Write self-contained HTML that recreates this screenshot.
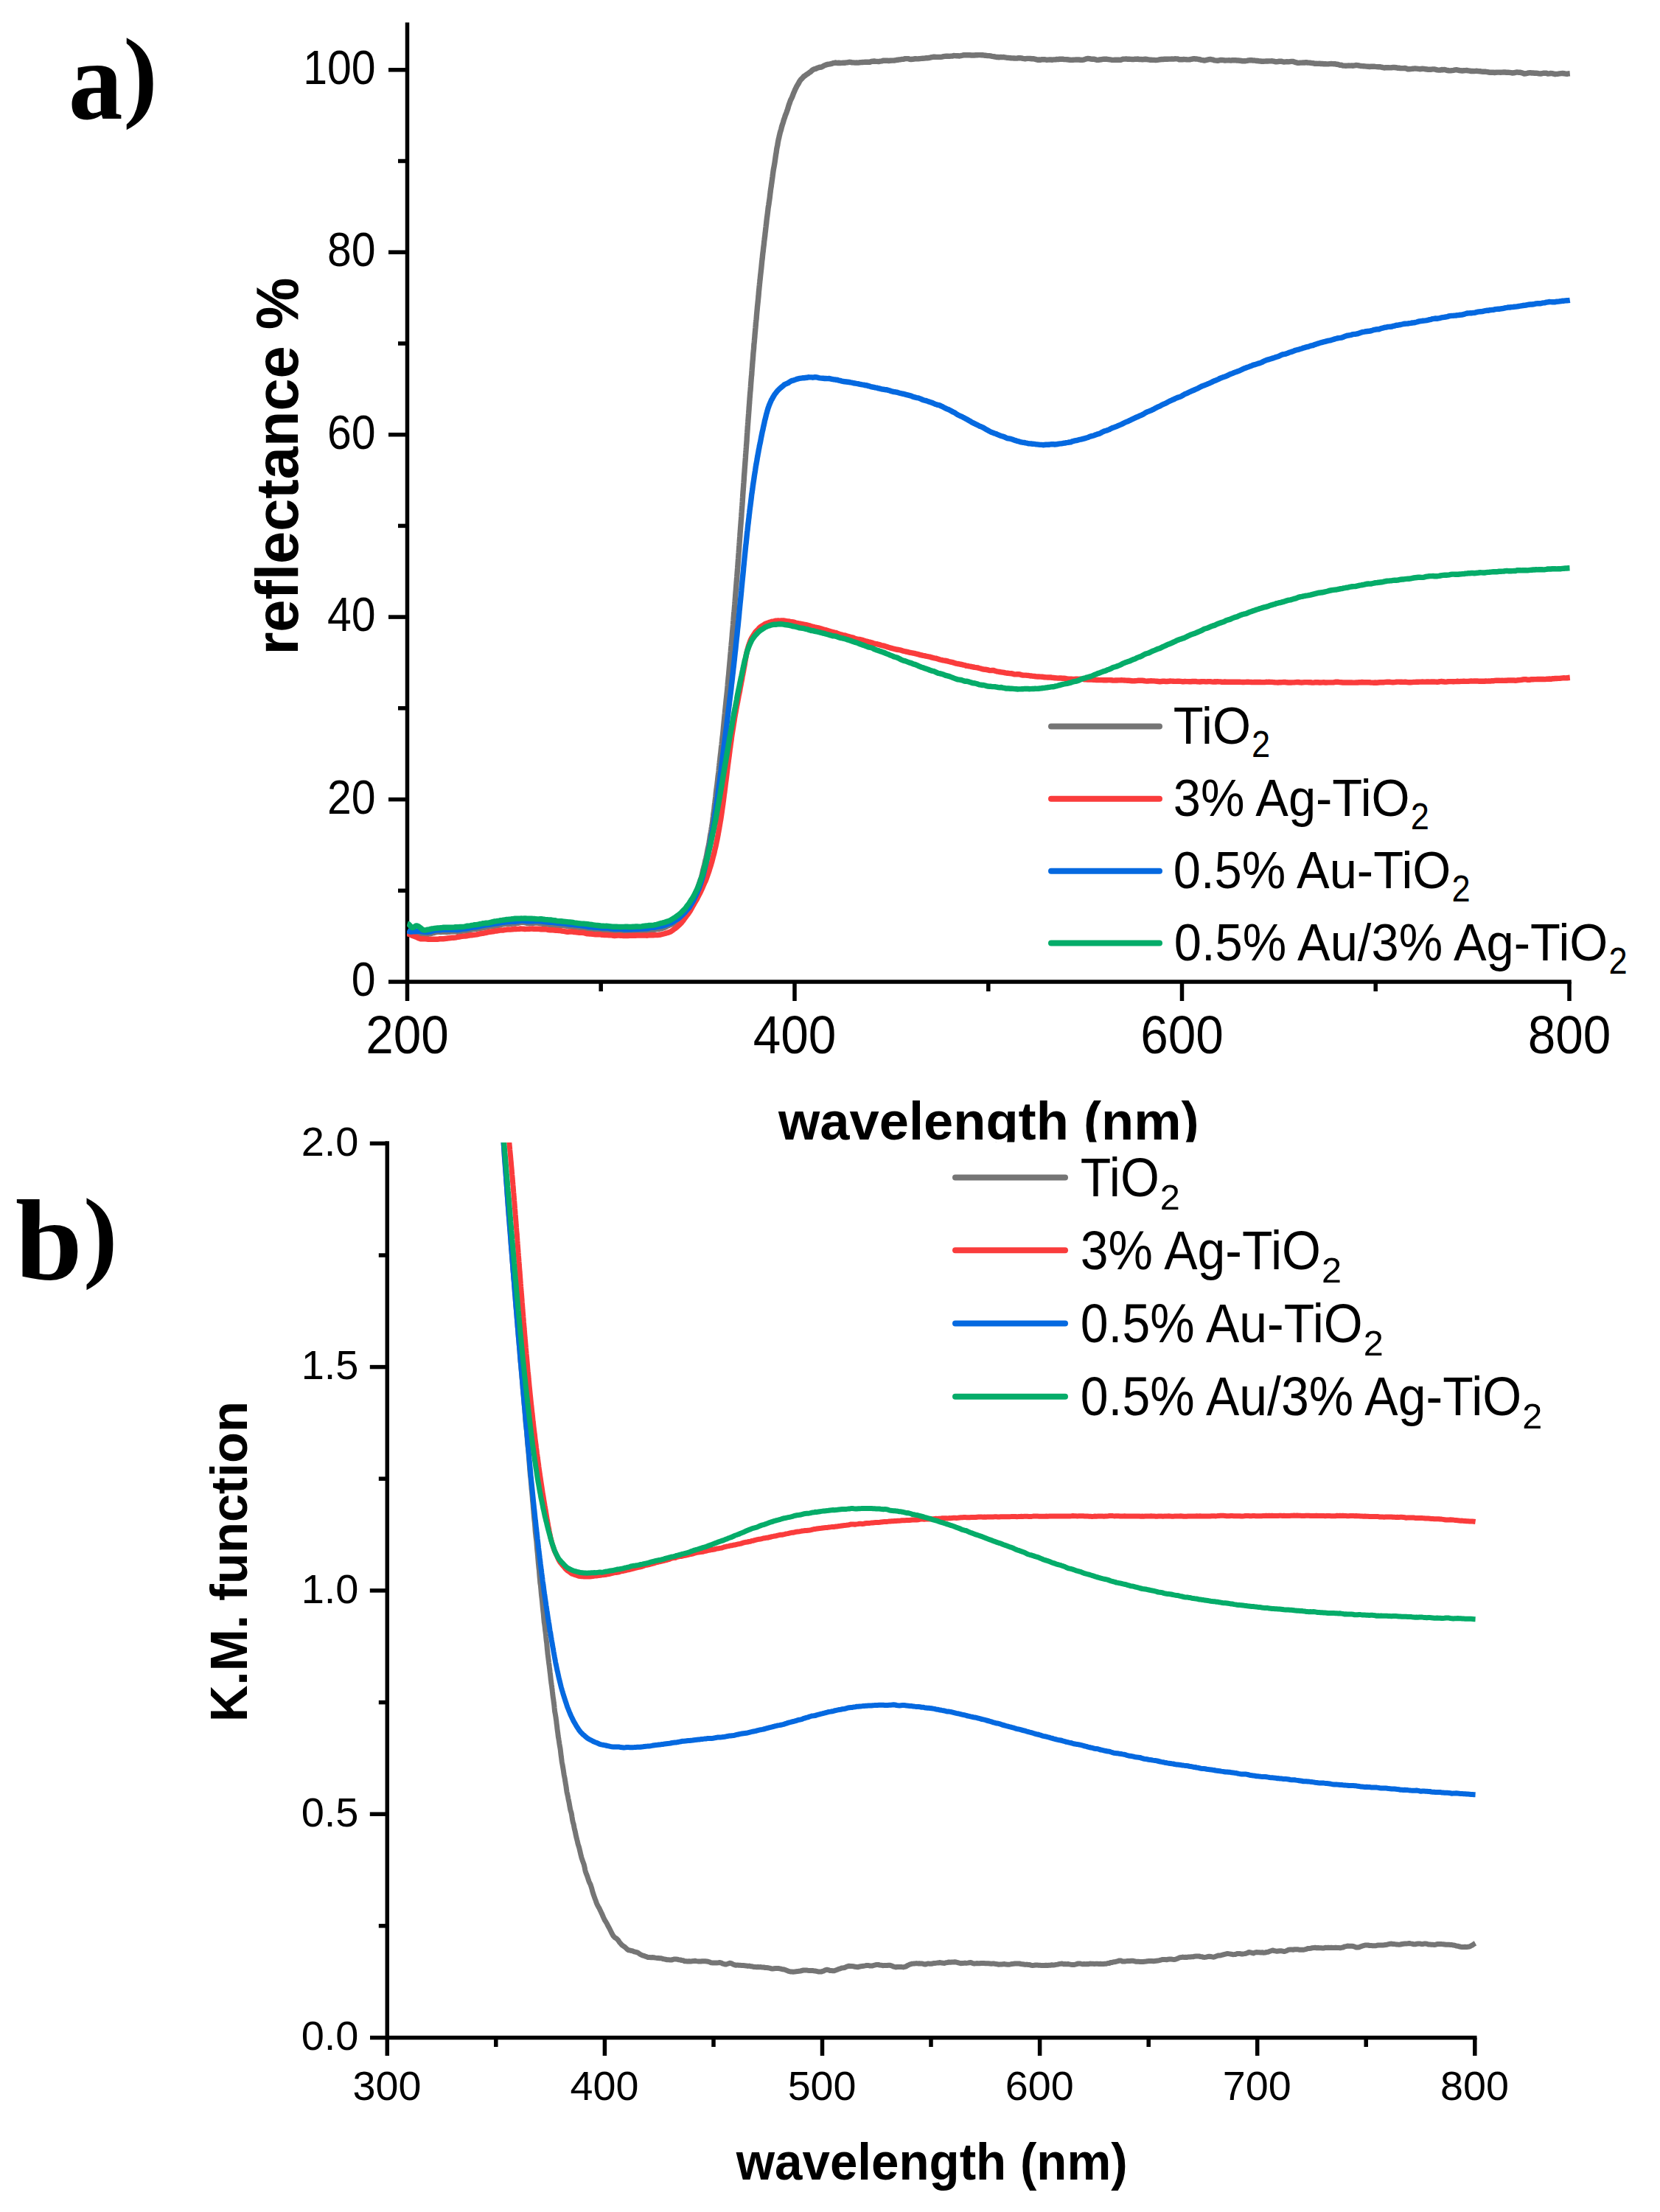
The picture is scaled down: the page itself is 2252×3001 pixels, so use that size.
<!DOCTYPE html>
<html lang="en"><head><meta charset="utf-8"><title>Diffuse reflectance and Kubelka-Munk spectra</title>
<style>html,body{margin:0;padding:0;background:#fff}svg{display:block}text{font-family:"Liberation Sans",sans-serif;fill:#000}.b{font-weight:bold}.s{font-family:"Liberation Serif",serif;font-weight:bold}.ax{stroke:#000;stroke-width:5.5;fill:none;stroke-linecap:butt}.cv{fill:none;stroke-linejoin:round;stroke-linecap:butt}.lg{fill:none;stroke-width:8;stroke-linecap:round}</style></head><body>
<svg width="2252" height="3001" viewBox="0 0 2252 3001">
<rect width="2252" height="3001" fill="#fff"/>
<defs><clipPath id="ca"><rect x="552" y="20" width="1581" height="1312"/></clipPath><clipPath id="cb"><rect x="525" y="1550" width="1480" height="1214"/></clipPath><clipPath id="cl"><rect x="900" y="1400" width="900" height="149.5"/></clipPath></defs>
<g id="panelA">
<path class="ax" d="M552.5,30.5 V1358"/>
<path class="ax" d="M527,1332.0 H2131.75"/>
<path class="ax" d="M540.0,1208.3 H552.5"/>
<path class="ax" d="M527.0,1084.6 H552.5"/>
<path class="ax" d="M540.0,960.8 H552.5"/>
<path class="ax" d="M527.0,837.1 H552.5"/>
<path class="ax" d="M540.0,713.4 H552.5"/>
<path class="ax" d="M527.0,589.7 H552.5"/>
<path class="ax" d="M540.0,466.0 H552.5"/>
<path class="ax" d="M527.0,342.2 H552.5"/>
<path class="ax" d="M540.0,218.5 H552.5"/>
<path class="ax" d="M527.0,94.8 H552.5"/>
<path class="ax" d="M815.2,1332.0 V1345.0"/>
<path class="ax" d="M1078.0,1332.0 V1358.0"/>
<path class="ax" d="M1340.8,1332.0 V1345.0"/>
<path class="ax" d="M1603.5,1332.0 V1358.0"/>
<path class="ax" d="M1866.2,1332.0 V1345.0"/>
<path class="ax" d="M2129.0,1332.0 V1358.0"/>
<g clip-path="url(#ca)" stroke-width="7.4">
<path class="cv" stroke="#757575" d="M552.5,1264.2 L554.4,1265.3 L556.3,1266.2 L558.3,1266.5 L560.2,1266.4 L562.2,1266.3 L564.2,1266.7 L566.2,1266.6 L568.2,1267.0 L570.2,1267.2 L572.2,1267.9 L574.2,1267.9 L576.2,1267.8 L578.2,1267.2 L580.2,1267.4 L582.2,1266.7 L584.2,1266.8 L586.1,1266.0 L588.1,1265.7 L590.0,1265.0 L592.0,1264.6 L594.0,1264.4 L596.0,1264.3 L598.0,1264.5 L600.0,1264.2 L602.0,1264.3 L604.0,1264.1 L606.0,1264.6 L608.0,1264.3 L610.1,1264.2 L612.1,1263.9 L614.1,1263.8 L616.1,1263.9 L618.1,1263.9 L620.1,1264.2 L622.1,1264.1 L624.1,1263.9 L626.0,1263.4 L628.0,1263.0 L630.0,1263.1 L632.0,1263.1 L633.9,1262.7 L635.9,1262.2 L637.9,1261.5 L639.8,1261.1 L641.8,1260.7 L643.8,1260.4 L645.8,1260.3 L647.7,1260.0 L649.7,1259.7 L651.7,1259.3 L653.7,1259.0 L655.6,1258.7 L657.6,1258.2 L659.6,1258.0 L661.6,1257.4 L663.5,1257.2 L665.5,1256.7 L667.5,1256.7 L669.5,1256.4 L671.4,1256.3 L673.4,1256.1 L675.4,1255.6 L677.4,1255.1 L679.4,1254.6 L681.4,1254.0 L683.3,1253.8 L685.3,1253.4 L687.3,1253.2 L689.3,1253.3 L691.3,1253.4 L693.3,1253.3 L695.3,1253.1 L697.2,1252.8 L699.2,1253.0 L701.2,1252.3 L703.2,1252.2 L705.2,1251.6 L707.2,1251.3 L709.2,1251.1 L711.2,1251.3 L713.2,1251.8 L715.2,1252.5 L717.2,1252.5 L719.1,1252.7 L721.1,1252.3 L723.1,1252.5 L725.1,1252.1 L727.1,1252.0 L729.1,1252.0 L731.1,1252.3 L733.1,1252.8 L735.1,1253.1 L737.1,1253.8 L739.1,1254.0 L741.1,1254.1 L743.1,1254.1 L745.1,1254.3 L747.1,1254.4 L749.1,1254.6 L751.1,1254.8 L753.1,1255.3 L755.1,1255.6 L757.1,1255.8 L759.1,1255.7 L761.1,1255.5 L763.1,1255.6 L765.1,1255.4 L767.1,1256.0 L769.1,1256.2 L771.1,1256.7 L773.1,1256.9 L775.1,1257.2 L777.1,1257.3 L779.1,1257.7 L781.1,1258.0 L783.0,1258.1 L785.0,1258.2 L787.0,1258.0 L789.0,1258.7 L791.0,1258.9 L793.0,1259.4 L795.0,1259.7 L797.0,1260.2 L799.0,1260.3 L801.0,1260.2 L803.0,1260.2 L805.0,1260.8 L807.0,1261.0 L809.0,1261.1 L811.0,1261.2 L813.0,1261.4 L815.0,1261.7 L816.9,1261.8 L818.9,1261.9 L820.9,1261.9 L822.9,1261.7 L824.9,1262.1 L826.9,1262.7 L828.9,1263.1 L830.9,1263.4 L832.9,1263.3 L834.8,1263.4 L836.8,1263.2 L838.8,1263.0 L840.8,1263.0 L842.8,1263.0 L844.8,1263.1 L846.7,1263.4 L848.7,1263.5 L850.7,1263.4 L852.7,1263.3 L854.7,1262.9 L856.7,1263.0 L858.6,1262.9 L860.6,1263.0 L862.6,1263.0 L864.6,1263.0 L866.6,1262.8 L868.6,1262.6 L870.6,1262.4 L872.6,1262.5 L874.6,1262.3 L876.6,1262.5 L878.6,1262.2 L880.6,1261.6 L882.7,1261.1 L884.7,1261.2 L886.7,1261.5 L888.7,1261.2 L890.8,1260.5 L892.8,1260.3 L894.8,1260.2 L896.8,1259.9 L898.8,1259.2 L900.8,1258.6 L902.8,1257.8 L904.7,1256.7 L906.6,1255.8 L908.4,1254.9 L910.3,1254.3 L912.1,1253.5 L913.8,1252.6 L915.5,1251.1 L917.1,1250.2 L918.7,1249.4 L920.3,1248.7 L921.8,1247.3 L923.2,1246.0 L924.6,1244.7 L925.9,1243.7 L927.3,1242.5 L928.5,1241.2 L929.7,1239.5 L930.9,1237.6 L932.0,1236.0 L933.1,1234.4 L934.2,1232.8 L935.2,1230.9 L936.2,1228.8 L937.2,1227.0 L938.1,1225.4 L939.0,1223.3 L939.9,1221.5 L940.7,1218.9 L941.5,1217.3 L942.3,1215.3 L943.1,1213.5 L943.8,1211.4 L944.6,1209.3 L945.3,1207.7 L945.9,1206.0 L946.6,1204.3 L947.3,1202.2 L947.9,1200.8 L948.5,1198.7 L949.2,1197.1 L949.8,1195.1 L950.3,1193.3 L950.9,1191.8 L951.5,1190.2 L952.0,1188.3 L952.6,1186.0 L953.1,1183.5 L953.6,1181.2 L954.1,1179.2 L954.6,1177.4 L955.1,1175.5 L955.6,1173.6 L956.0,1171.8 L956.5,1169.7 L956.9,1167.5 L957.4,1165.7 L957.8,1164.1 L958.2,1162.3 L958.7,1160.3 L959.1,1158.0 L959.5,1156.1 L959.9,1153.6 L960.3,1151.9 L960.6,1150.2 L961.0,1148.9 L961.4,1147.0 L961.7,1145.1 L962.1,1142.9 L962.4,1140.9 L962.8,1138.8 L963.1,1136.6 L963.4,1134.3 L963.8,1132.6 L964.1,1130.9 L964.4,1129.4 L964.7,1127.4 L965.0,1125.6 L965.3,1123.3 L965.6,1121.6 L965.9,1119.5 L966.2,1118.1 L966.5,1116.2 L966.8,1114.1 L967.0,1111.7 L967.3,1109.5 L967.6,1107.4 L967.8,1105.1 L968.1,1102.9 L968.4,1101.4 L968.6,1099.5 L968.9,1097.8 L969.1,1095.1 L969.4,1092.8 L969.6,1090.6 L969.9,1088.8 L970.1,1087.1 L970.4,1085.0 L970.6,1083.0 L970.9,1080.9 L971.1,1078.7 L971.3,1076.5 L971.6,1073.9 L971.8,1072.1 L972.1,1070.1 L972.3,1068.9 L972.5,1067.0 L972.8,1065.2 L973.0,1063.3 L973.2,1061.4 L973.5,1059.4 L973.7,1057.1 L973.9,1055.1 L974.2,1053.2 L974.4,1051.3 L974.6,1049.7 L974.9,1047.7 L975.1,1045.8 L975.3,1043.3 L975.5,1041.1 L975.8,1038.9 L976.0,1036.6 L976.2,1034.9 L976.4,1032.8 L976.7,1031.0 L976.9,1028.6 L977.1,1026.9 L977.3,1025.3 L977.5,1023.4 L977.8,1021.5 L978.0,1019.4 L978.2,1017.3 L978.4,1015.3 L978.6,1013.3 L978.9,1011.3 L979.1,1009.6 L979.3,1007.5 L979.5,1005.9 L979.7,1003.7 L979.9,1001.9 L980.1,999.9 L980.4,998.2 L980.6,996.2 L980.8,994.2 L981.0,992.2 L981.2,990.0 L981.4,987.8 L981.6,985.5 L981.8,983.5 L982.0,981.6 L982.2,979.4 L982.4,977.6 L982.6,975.4 L982.8,973.2 L983.0,971.3 L983.2,969.3 L983.4,967.6 L983.6,965.2 L983.8,963.2 L984.0,961.3 L984.2,959.5 L984.4,957.8 L984.6,955.6 L984.8,953.4 L985.0,951.3 L985.2,949.5 L985.4,947.6 L985.6,945.8 L985.8,944.0 L986.0,942.2 L986.2,940.1 L986.4,938.4 L986.6,936.5 L986.8,934.4 L987.0,932.1 L987.2,929.7 L987.3,927.9 L987.5,925.9 L987.7,924.0 L987.9,921.7 L988.1,919.4 L988.3,917.6 L988.5,915.8 L988.7,914.1 L988.8,912.1 L989.0,910.0 L989.2,907.9 L989.4,905.5 L989.6,903.3 L989.8,901.7 L989.9,899.8 L990.1,898.0 L990.3,895.9 L990.5,893.5 L990.7,891.7 L990.8,889.5 L991.0,887.7 L991.2,885.6 L991.4,883.2 L991.5,881.3 L991.7,879.4 L991.9,877.4 L992.1,875.3 L992.2,873.3 L992.4,871.8 L992.6,870.0 L992.8,868.1 L992.9,866.1 L993.1,864.0 L993.3,861.9 L993.4,859.7 L993.6,857.7 L993.8,855.4 L994.0,853.8 L994.1,852.1 L994.3,850.7 L994.5,848.0 L994.6,845.8 L994.8,843.3 L995.0,841.3 L995.1,839.4 L995.3,837.3 L995.5,835.3 L995.6,832.9 L995.8,830.8 L996.0,829.4 L996.1,828.2 L996.3,826.8 L996.4,824.6 L996.6,822.5 L996.8,820.0 L996.9,818.1 L997.1,816.0 L997.2,814.1 L997.4,812.2 L997.6,809.9 L997.7,808.0 L997.9,805.6 L998.0,804.0 L998.2,801.9 L998.4,800.0 L998.5,797.7 L998.7,795.9 L998.8,794.0 L999.0,792.1 L999.1,789.9 L999.3,788.3 L999.4,786.4 L999.6,784.5 L999.8,782.3 L999.9,780.3 L1000.1,778.1 L1000.2,776.2 L1000.4,774.4 L1000.5,772.2 L1000.7,770.3 L1000.8,768.3 L1001.0,766.5 L1001.1,764.4 L1001.3,761.8 L1001.4,760.1 L1001.6,758.0 L1001.7,756.3 L1001.9,754.1 L1002.0,752.0 L1002.2,750.0 L1002.3,748.1 L1002.5,746.1 L1002.6,744.1 L1002.7,742.0 L1002.9,740.0 L1003.0,738.0 L1003.2,735.7 L1003.3,733.8 L1003.5,731.6 L1003.6,729.9 L1003.8,727.8 L1003.9,725.9 L1004.0,723.9 L1004.2,722.1 L1004.3,719.9 L1004.5,718.1 L1004.6,715.9 L1004.8,714.1 L1004.9,712.1 L1005.1,710.1 L1005.2,708.3 L1005.3,706.7 L1005.5,705.1 L1005.6,703.1 L1005.8,700.8 L1005.9,698.7 L1006.0,696.5 L1006.2,694.3 L1006.3,692.5 L1006.5,690.8 L1006.6,689.0 L1006.7,687.2 L1006.9,685.3 L1007.0,683.3 L1007.2,680.7 L1007.3,678.7 L1007.4,676.8 L1007.6,674.5 L1007.7,672.0 L1007.9,669.6 L1008.0,668.0 L1008.1,666.3 L1008.3,664.4 L1008.4,662.4 L1008.6,660.4 L1008.7,658.4 L1008.8,656.6 L1009.0,654.5 L1009.1,652.8 L1009.3,650.7 L1009.4,648.5 L1009.5,646.2 L1009.7,644.1 L1009.8,642.3 L1010.0,640.4 L1010.1,638.6 L1010.2,636.6 L1010.4,634.6 L1010.5,632.6 L1010.7,630.7 L1010.8,628.9 L1010.9,627.1 L1011.1,625.1 L1011.2,623.1 L1011.4,621.0 L1011.5,618.8 L1011.6,616.9 L1011.8,614.8 L1011.9,613.0 L1012.1,610.8 L1012.2,609.0 L1012.4,607.0 L1012.5,605.2 L1012.6,603.5 L1012.8,601.9 L1012.9,599.9 L1013.1,597.6 L1013.2,595.2 L1013.3,592.9 L1013.5,590.7 L1013.6,588.5 L1013.8,586.3 L1013.9,584.3 L1014.1,582.6 L1014.2,580.5 L1014.3,578.6 L1014.5,576.5 L1014.6,574.5 L1014.8,572.5 L1014.9,570.3 L1015.1,568.4 L1015.2,566.6 L1015.4,564.7 L1015.5,562.5 L1015.7,560.2 L1015.8,558.4 L1016.0,556.4 L1016.1,554.7 L1016.2,552.5 L1016.4,550.7 L1016.5,548.6 L1016.7,547.0 L1016.8,544.4 L1017.0,542.5 L1017.1,540.1 L1017.3,538.5 L1017.4,536.4 L1017.6,534.5 L1017.7,532.6 L1017.9,530.8 L1018.1,529.1 L1018.2,527.0 L1018.4,524.8 L1018.5,522.7 L1018.7,520.4 L1018.8,518.5 L1019.0,516.7 L1019.1,514.7 L1019.3,512.6 L1019.4,510.9 L1019.6,509.6 L1019.8,507.8 L1019.9,505.2 L1020.1,502.7 L1020.2,500.6 L1020.4,498.8 L1020.6,496.7 L1020.7,494.3 L1020.9,492.4 L1021.0,490.6 L1021.2,488.8 L1021.4,486.6 L1021.5,484.7 L1021.7,482.6 L1021.8,480.5 L1022.0,478.1 L1022.2,476.5 L1022.3,474.9 L1022.5,473.4 L1022.7,470.8 L1022.8,468.4 L1023.0,466.2 L1023.2,464.7 L1023.4,462.8 L1023.5,461.0 L1023.7,458.9 L1023.9,457.2 L1024.0,455.0 L1024.2,452.8 L1024.4,450.5 L1024.6,448.8 L1024.7,446.9 L1024.9,445.1 L1025.1,442.8 L1025.3,440.6 L1025.4,438.3 L1025.6,436.7 L1025.8,434.7 L1026.0,433.5 L1026.2,431.7 L1026.3,429.7 L1026.5,427.3 L1026.7,425.0 L1026.9,422.7 L1027.1,420.6 L1027.3,418.7 L1027.4,417.2 L1027.6,415.2 L1027.8,413.3 L1028.0,411.4 L1028.2,409.5 L1028.4,407.5 L1028.6,405.5 L1028.8,403.4 L1029.0,401.5 L1029.2,398.9 L1029.3,397.2 L1029.5,394.9 L1029.7,393.3 L1029.9,391.1 L1030.1,388.9 L1030.3,387.1 L1030.5,384.8 L1030.7,383.2 L1030.9,381.0 L1031.1,379.5 L1031.3,377.5 L1031.5,375.4 L1031.7,373.3 L1032.0,370.9 L1032.2,369.1 L1032.4,366.9 L1032.6,365.6 L1032.8,363.7 L1033.0,361.7 L1033.2,359.4 L1033.4,357.3 L1033.6,355.2 L1033.8,353.4 L1034.1,351.3 L1034.3,349.4 L1034.5,347.0 L1034.7,345.2 L1034.9,343.3 L1035.2,341.3 L1035.4,339.3 L1035.6,337.3 L1035.8,335.7 L1036.0,334.0 L1036.3,332.0 L1036.5,329.8 L1036.7,327.4 L1037.0,325.5 L1037.2,323.8 L1037.4,322.1 L1037.7,320.2 L1037.9,318.0 L1038.1,316.0 L1038.4,314.0 L1038.6,311.9 L1038.8,310.0 L1039.1,307.6 L1039.3,305.5 L1039.6,303.6 L1039.8,301.4 L1040.0,299.4 L1040.3,297.0 L1040.5,295.2 L1040.8,293.3 L1041.0,291.5 L1041.3,289.5 L1041.5,287.4 L1041.8,285.3 L1042.0,283.0 L1042.3,281.2 L1042.5,279.7 L1042.8,278.1 L1043.1,276.1 L1043.3,274.4 L1043.6,272.7 L1043.8,271.1 L1044.1,268.9 L1044.4,266.8 L1044.6,264.4 L1044.9,262.2 L1045.2,260.0 L1045.4,258.0 L1045.7,256.0 L1046.0,254.2 L1046.3,252.5 L1046.5,250.4 L1046.8,248.7 L1047.1,246.2 L1047.4,244.2 L1047.7,241.9 L1048.0,240.0 L1048.2,238.1 L1048.5,236.0 L1048.8,233.6 L1049.1,231.6 L1049.4,229.5 L1049.7,228.1 L1050.0,226.5 L1050.3,224.9 L1050.6,223.2 L1050.9,221.4 L1051.2,219.5 L1051.5,217.3 L1051.8,215.3 L1052.1,213.0 L1052.4,210.9 L1052.7,208.9 L1053.1,207.0 L1053.4,204.7 L1053.7,202.3 L1054.1,200.3 L1054.4,198.8 L1054.8,197.2 L1055.1,194.8 L1055.5,192.6 L1055.9,190.4 L1056.3,188.5 L1056.8,186.7 L1057.2,184.6 L1057.7,182.8 L1058.1,180.8 L1058.6,179.0 L1059.2,177.2 L1059.7,175.4 L1060.2,173.1 L1060.8,171.2 L1061.3,169.3 L1061.9,167.7 L1062.5,165.7 L1063.1,163.5 L1063.7,161.7 L1064.4,159.7 L1065.0,157.8 L1065.6,156.1 L1066.3,154.3 L1067.0,152.6 L1067.6,150.7 L1068.3,149.0 L1069.0,146.7 L1069.6,144.4 L1070.3,142.2 L1071.0,140.5 L1071.7,138.2 L1072.4,136.3 L1073.1,134.7 L1073.8,133.6 L1074.6,131.8 L1075.3,129.9 L1076.1,127.8 L1076.8,125.9 L1077.7,123.9 L1078.5,122.0 L1079.4,120.2 L1080.3,118.3 L1081.2,116.6 L1082.2,114.9 L1083.2,113.4 L1084.3,111.1 L1085.4,109.4 L1086.6,107.8 L1087.8,106.7 L1089.1,105.3 L1090.5,103.7 L1091.9,102.8 L1093.4,101.6 L1094.9,100.7 L1096.5,99.6 L1098.1,98.4 L1099.8,97.3 L1101.5,95.6 L1103.3,94.4 L1105.1,93.6 L1106.9,93.3 L1108.7,92.3 L1110.6,91.7 L1112.5,91.2 L1114.4,91.0 L1116.3,90.0 L1118.2,88.9 L1120.2,88.1 L1122.1,87.5 L1124.1,87.2 L1126.0,86.9 L1128.0,86.4 L1130.0,85.7 L1132.0,85.3 L1133.9,85.0 L1135.9,85.5 L1137.9,85.3 L1139.9,85.5 L1141.9,85.4 L1143.9,85.3 L1145.9,85.3 L1148.0,84.9 L1150.0,84.7 L1152.0,84.3 L1154.0,84.4 L1156.0,84.9 L1158.0,84.9 L1160.0,85.1 L1162.0,85.0 L1164.0,85.1 L1166.0,84.8 L1168.0,84.6 L1170.0,84.5 L1172.0,84.4 L1174.0,84.1 L1176.0,84.3 L1178.0,84.3 L1180.0,84.3 L1182.0,83.5 L1184.0,83.2 L1186.0,83.0 L1188.0,83.4 L1190.0,83.4 L1192.0,83.6 L1194.0,83.2 L1196.0,82.9 L1198.0,82.2 L1200.0,82.1 L1202.0,82.2 L1203.9,82.3 L1205.9,82.5 L1207.9,82.2 L1209.9,82.1 L1211.9,82.1 L1213.9,82.0 L1215.9,81.5 L1217.9,81.3 L1219.9,80.9 L1221.9,80.7 L1223.9,80.4 L1225.9,80.2 L1227.9,79.6 L1229.9,79.6 L1231.9,79.6 L1233.9,80.3 L1235.9,80.5 L1237.9,80.3 L1239.9,80.0 L1241.9,79.6 L1243.9,79.9 L1245.9,79.8 L1247.9,79.6 L1249.9,79.4 L1251.9,79.2 L1253.9,79.1 L1255.9,78.8 L1257.9,78.7 L1259.9,78.5 L1261.9,78.1 L1263.9,77.6 L1265.9,77.3 L1267.9,77.2 L1269.9,77.4 L1271.9,77.4 L1273.9,77.4 L1275.9,77.4 L1277.9,77.1 L1279.9,76.7 L1281.8,76.4 L1283.8,76.2 L1285.8,76.1 L1287.8,76.4 L1289.8,76.1 L1291.8,76.1 L1293.8,75.5 L1295.8,75.6 L1297.8,75.7 L1299.8,75.8 L1301.8,76.0 L1303.8,75.5 L1305.8,75.2 L1307.8,74.7 L1309.8,74.8 L1311.8,74.8 L1313.8,74.8 L1315.8,74.8 L1317.8,75.0 L1319.8,75.0 L1321.8,75.0 L1323.8,74.8 L1325.8,74.7 L1327.8,74.6 L1329.8,74.6 L1331.8,74.8 L1333.8,74.8 L1335.8,75.2 L1337.8,75.3 L1339.8,75.6 L1341.8,75.6 L1343.8,75.9 L1345.8,76.3 L1347.8,76.6 L1349.8,77.0 L1351.8,77.5 L1353.8,77.5 L1355.8,77.7 L1357.8,77.4 L1359.8,77.6 L1361.8,77.5 L1363.7,77.9 L1365.7,78.2 L1367.7,78.4 L1369.7,78.6 L1371.7,78.8 L1373.7,78.9 L1375.7,79.0 L1377.7,79.1 L1379.7,79.1 L1381.7,78.7 L1383.7,78.7 L1385.7,78.9 L1387.7,79.4 L1389.7,79.7 L1391.7,79.7 L1393.7,79.4 L1395.7,79.4 L1397.7,79.5 L1399.7,79.7 L1401.7,79.7 L1403.7,80.1 L1405.7,80.6 L1407.7,81.2 L1409.7,81.0 L1411.7,81.2 L1413.7,80.6 L1415.7,80.8 L1417.7,80.7 L1419.7,81.3 L1421.7,81.1 L1423.7,81.0 L1425.7,81.0 L1427.7,81.2 L1429.7,80.9 L1431.7,80.9 L1433.7,80.5 L1435.7,80.6 L1437.7,80.1 L1439.7,80.3 L1441.7,80.2 L1443.7,80.6 L1445.7,80.6 L1447.7,80.8 L1449.7,81.0 L1451.7,81.3 L1453.7,81.4 L1455.7,81.2 L1457.7,81.1 L1459.7,81.0 L1461.8,80.9 L1463.8,81.0 L1465.8,81.3 L1467.8,81.4 L1469.8,81.1 L1471.8,80.5 L1473.8,79.8 L1475.8,79.4 L1477.8,79.7 L1479.8,80.0 L1481.8,80.2 L1483.8,80.1 L1485.8,80.6 L1487.8,81.2 L1489.8,81.4 L1491.8,81.0 L1493.8,80.8 L1495.8,80.4 L1497.8,80.2 L1499.8,80.2 L1501.8,80.3 L1503.8,80.6 L1505.8,80.9 L1507.8,81.2 L1509.8,81.4 L1511.8,81.3 L1513.8,81.1 L1515.8,81.3 L1517.8,81.3 L1519.8,81.4 L1521.8,80.7 L1523.8,80.1 L1525.8,80.1 L1527.8,79.9 L1529.8,80.3 L1531.8,80.1 L1533.8,80.4 L1535.8,80.5 L1537.8,80.6 L1539.8,80.2 L1541.8,80.3 L1543.8,80.0 L1545.8,80.6 L1547.8,80.5 L1549.8,80.7 L1551.8,80.5 L1553.8,80.3 L1555.8,80.5 L1557.8,80.8 L1559.8,81.2 L1561.8,81.3 L1563.8,81.4 L1565.8,81.4 L1567.8,81.6 L1569.8,81.4 L1571.8,81.1 L1573.8,80.7 L1575.8,80.5 L1577.8,80.5 L1579.8,80.3 L1581.8,80.3 L1583.8,80.2 L1585.8,80.1 L1587.8,80.1 L1589.8,80.0 L1591.8,80.1 L1593.8,79.8 L1595.8,79.9 L1597.8,79.9 L1599.8,80.8 L1601.8,80.7 L1603.8,80.8 L1605.8,80.5 L1607.8,80.6 L1609.8,80.8 L1611.9,80.9 L1613.9,80.9 L1615.9,80.3 L1617.9,80.0 L1619.9,79.7 L1621.9,80.0 L1623.9,80.0 L1625.9,80.5 L1627.9,80.7 L1629.9,81.4 L1631.9,81.7 L1633.9,82.1 L1635.9,81.7 L1637.9,81.2 L1639.9,80.6 L1641.9,80.4 L1643.9,80.8 L1645.9,81.2 L1647.9,81.9 L1649.9,82.1 L1651.9,82.3 L1653.9,81.8 L1655.9,81.4 L1657.9,81.5 L1659.9,81.6 L1661.9,82.1 L1663.9,81.9 L1665.9,81.9 L1667.9,81.8 L1669.9,82.1 L1671.9,81.7 L1673.9,81.7 L1675.9,81.7 L1677.9,82.0 L1679.9,82.0 L1681.9,82.2 L1683.9,82.5 L1685.9,82.9 L1687.9,82.7 L1689.9,82.7 L1691.9,82.4 L1693.9,81.9 L1695.9,81.8 L1697.9,81.7 L1699.9,82.1 L1701.9,82.0 L1703.9,82.5 L1705.9,82.5 L1707.9,82.9 L1709.9,83.0 L1711.9,83.2 L1713.9,83.2 L1715.9,83.1 L1717.9,82.9 L1719.9,83.0 L1721.9,82.9 L1723.9,82.9 L1725.9,82.8 L1727.9,83.2 L1729.9,83.7 L1731.9,83.7 L1733.9,83.5 L1735.9,83.1 L1737.9,83.2 L1739.9,83.7 L1741.9,84.1 L1743.9,83.9 L1745.9,83.8 L1747.9,83.9 L1749.9,83.6 L1751.9,83.4 L1753.9,83.4 L1755.9,84.0 L1757.9,84.7 L1759.9,85.2 L1761.9,85.4 L1763.9,85.1 L1765.9,85.1 L1767.9,84.9 L1769.9,85.0 L1771.9,84.6 L1773.9,85.0 L1775.9,85.1 L1777.9,85.3 L1779.9,85.6 L1781.9,85.8 L1783.9,86.4 L1785.9,86.3 L1787.9,86.4 L1789.9,86.1 L1791.9,86.5 L1793.9,86.5 L1795.9,86.7 L1797.9,86.7 L1799.9,86.9 L1801.9,86.9 L1803.9,86.6 L1805.9,86.5 L1807.8,86.6 L1809.8,86.8 L1811.8,86.8 L1813.8,87.3 L1815.8,87.5 L1817.8,88.4 L1819.8,88.3 L1821.8,89.1 L1823.8,89.1 L1825.8,89.3 L1827.8,89.1 L1829.8,89.0 L1831.8,89.1 L1833.8,89.0 L1835.8,89.2 L1837.8,88.8 L1839.8,88.4 L1841.8,88.6 L1843.8,89.0 L1845.8,89.5 L1847.8,89.6 L1849.8,89.7 L1851.8,89.9 L1853.8,90.1 L1855.8,90.2 L1857.8,90.5 L1859.8,90.3 L1861.8,90.2 L1863.8,90.1 L1865.8,90.4 L1867.8,90.6 L1869.8,90.7 L1871.8,90.7 L1873.8,91.1 L1875.8,91.5 L1877.8,92.0 L1879.8,91.8 L1881.8,91.8 L1883.8,91.8 L1885.8,91.9 L1887.8,91.8 L1889.8,91.4 L1891.8,91.5 L1893.8,91.7 L1895.8,92.2 L1897.8,92.1 L1899.8,92.6 L1901.8,92.6 L1903.8,92.6 L1905.8,92.5 L1907.8,92.9 L1909.8,93.7 L1911.8,93.8 L1913.8,93.6 L1915.8,93.3 L1917.8,93.2 L1919.8,92.9 L1921.8,93.1 L1923.8,93.4 L1925.8,93.7 L1927.8,93.5 L1929.8,93.3 L1931.8,93.4 L1933.8,93.8 L1935.8,94.0 L1937.8,94.4 L1939.8,94.2 L1941.8,94.2 L1943.8,93.9 L1945.8,93.9 L1947.8,94.3 L1949.8,94.8 L1951.8,95.1 L1953.8,95.1 L1955.8,94.5 L1957.8,94.7 L1959.8,94.4 L1961.8,95.1 L1963.8,95.5 L1965.8,95.9 L1967.8,95.9 L1969.8,95.6 L1971.8,95.3 L1973.8,94.9 L1975.8,94.7 L1977.8,95.1 L1979.8,95.5 L1981.8,95.8 L1983.8,96.0 L1985.8,95.8 L1987.8,95.6 L1989.8,95.5 L1991.8,95.8 L1993.8,96.1 L1995.8,96.5 L1997.8,96.4 L1999.8,96.6 L2001.8,96.4 L2003.8,96.3 L2005.8,96.6 L2007.8,96.7 L2009.8,97.1 L2011.8,97.2 L2013.8,97.3 L2015.8,97.3 L2017.8,97.6 L2019.8,98.0 L2021.8,98.3 L2023.8,98.3 L2025.8,98.3 L2027.8,98.5 L2029.8,98.2 L2031.8,98.1 L2033.8,98.1 L2035.8,98.2 L2037.8,98.1 L2039.8,98.0 L2041.8,98.0 L2043.8,98.3 L2045.8,98.2 L2047.8,98.4 L2049.8,98.7 L2051.8,99.0 L2053.8,98.8 L2055.8,98.3 L2057.8,97.9 L2059.8,98.2 L2061.8,98.2 L2063.8,98.7 L2065.8,99.2 L2067.8,100.0 L2069.8,99.8 L2071.8,99.4 L2073.8,98.9 L2075.8,98.7 L2077.8,99.0 L2079.8,99.0 L2081.8,99.2 L2083.8,99.1 L2085.8,99.4 L2087.8,99.9 L2089.8,100.0 L2091.8,99.8 L2093.8,99.2 L2095.8,99.1 L2097.8,99.3 L2099.8,100.1 L2101.8,99.8 L2103.8,99.5 L2105.8,99.6 L2107.8,100.2 L2109.8,100.7 L2111.8,100.4 L2113.8,100.2 L2115.8,99.9 L2117.8,99.6 L2119.8,99.5 L2121.8,99.7 L2123.8,100.1 L2125.8,100.3 L2127.8,99.9 L2129.8,99.7"/>
<path class="cv" stroke="#FA3C3C" d="M552.5,1266.3 L554.3,1267.2 L556.2,1267.7 L558.0,1268.7 L559.8,1269.5 L561.7,1270.1 L563.6,1270.9 L565.5,1271.5 L567.4,1272.7 L569.3,1273.3 L571.2,1273.8 L573.2,1273.7 L575.1,1273.8 L577.1,1273.9 L579.1,1274.0 L581.1,1274.2 L583.1,1274.3 L585.2,1274.4 L587.2,1274.3 L589.2,1274.2 L591.2,1274.2 L593.2,1274.2 L595.2,1274.0 L597.2,1273.7 L599.2,1273.6 L601.2,1273.7 L603.2,1273.5 L605.2,1273.3 L607.2,1273.0 L609.2,1272.7 L611.2,1272.5 L613.2,1272.3 L615.1,1272.3 L617.1,1272.1 L619.1,1271.8 L621.1,1271.2 L623.1,1271.0 L625.1,1270.6 L627.0,1270.4 L629.0,1270.1 L631.0,1270.0 L633.0,1269.8 L634.9,1269.4 L636.9,1269.0 L638.9,1268.7 L640.9,1268.7 L642.8,1268.4 L644.8,1268.1 L646.8,1267.8 L648.8,1267.3 L650.7,1266.9 L652.7,1266.5 L654.7,1266.2 L656.6,1266.0 L658.6,1265.5 L660.6,1265.1 L662.6,1264.5 L664.5,1264.3 L666.5,1264.0 L668.5,1263.8 L670.5,1263.5 L672.4,1263.0 L674.4,1263.0 L676.4,1262.5 L678.4,1262.2 L680.4,1261.9 L682.3,1262.1 L684.3,1261.7 L686.3,1261.3 L688.3,1261.0 L690.3,1261.0 L692.3,1261.1 L694.3,1260.8 L696.2,1260.7 L698.2,1260.3 L700.2,1260.5 L702.2,1260.4 L704.2,1260.4 L706.2,1260.0 L708.2,1260.1 L710.2,1260.2 L712.2,1260.5 L714.2,1260.4 L716.2,1260.4 L718.2,1260.2 L720.2,1260.1 L722.2,1260.0 L724.2,1260.2 L726.2,1260.2 L728.2,1260.3 L730.3,1260.2 L732.3,1260.5 L734.3,1260.8 L736.3,1260.8 L738.3,1260.7 L740.3,1260.7 L742.3,1261.1 L744.3,1261.6 L746.3,1261.8 L748.3,1261.7 L750.3,1261.8 L752.3,1262.0 L754.3,1262.3 L756.3,1262.3 L758.3,1262.5 L760.3,1262.6 L762.3,1263.0 L764.3,1263.2 L766.3,1263.7 L768.3,1264.0 L770.3,1264.3 L772.2,1264.0 L774.2,1264.0 L776.2,1264.0 L778.2,1264.5 L780.2,1264.4 L782.2,1264.9 L784.2,1265.1 L786.2,1265.4 L788.2,1265.4 L790.2,1265.4 L792.2,1265.7 L794.1,1266.1 L796.1,1266.7 L798.1,1266.8 L800.1,1267.0 L802.1,1267.0 L804.1,1267.4 L806.1,1267.6 L808.1,1267.9 L810.1,1267.8 L812.1,1267.8 L814.0,1267.7 L816.0,1268.2 L818.0,1268.4 L820.0,1268.6 L822.0,1268.5 L824.0,1268.6 L826.0,1268.7 L828.0,1268.8 L830.0,1268.9 L831.9,1269.3 L833.9,1269.5 L835.9,1269.4 L837.9,1269.1 L839.9,1269.0 L841.9,1269.2 L843.9,1269.4 L845.9,1269.6 L847.9,1269.6 L849.9,1269.5 L851.9,1269.5 L853.9,1269.3 L855.9,1269.2 L857.9,1269.2 L859.9,1269.2 L861.9,1269.2 L863.9,1269.0 L865.9,1269.0 L867.9,1269.1 L870.0,1269.1 L872.0,1269.1 L874.0,1269.0 L876.0,1269.1 L878.1,1269.2 L880.1,1268.8 L882.2,1268.8 L884.2,1268.5 L886.3,1268.7 L888.3,1268.5 L890.3,1268.6 L892.3,1268.5 L894.3,1268.2 L896.3,1268.0 L898.3,1267.5 L900.2,1267.0 L902.1,1266.5 L904.0,1265.9 L905.8,1265.5 L907.6,1264.8 L909.4,1264.2 L911.1,1263.1 L912.8,1261.9 L914.4,1260.6 L916.0,1259.6 L917.5,1258.4 L919.0,1257.1 L920.5,1255.7 L921.9,1254.6 L923.3,1253.1 L924.7,1251.7 L926.0,1249.9 L927.3,1248.3 L928.5,1246.5 L929.8,1244.8 L930.9,1243.3 L932.1,1241.8 L933.3,1240.3 L934.4,1238.6 L935.5,1237.0 L936.6,1235.2 L937.6,1233.4 L938.7,1231.4 L939.7,1229.5 L940.8,1227.8 L941.8,1225.8 L942.8,1224.3 L943.8,1222.5 L944.7,1221.1 L945.7,1219.2 L946.6,1217.4 L947.6,1215.5 L948.5,1213.7 L949.4,1212.0 L950.3,1210.2 L951.1,1208.4 L952.0,1206.6 L952.8,1204.8 L953.6,1202.9 L954.4,1200.9 L955.2,1199.2 L956.0,1197.2 L956.8,1195.8 L957.5,1194.1 L958.2,1192.2 L958.9,1190.2 L959.6,1188.2 L960.3,1186.4 L960.9,1184.6 L961.6,1182.6 L962.2,1180.6 L962.8,1178.6 L963.4,1176.8 L964.0,1175.1 L964.6,1173.0 L965.1,1171.2 L965.7,1169.3 L966.2,1167.4 L966.7,1165.3 L967.2,1163.3 L967.7,1161.4 L968.2,1159.7 L968.7,1157.8 L969.2,1155.8 L969.6,1153.5 L970.1,1151.5 L970.5,1150.0 L971.0,1148.1 L971.4,1146.1 L971.8,1144.0 L972.2,1142.0 L972.6,1140.3 L973.0,1138.2 L973.4,1136.3 L973.8,1134.1 L974.2,1132.3 L974.5,1130.1 L974.9,1128.3 L975.2,1126.3 L975.6,1124.5 L975.9,1122.2 L976.3,1120.1 L976.6,1118.2 L976.9,1116.5 L977.2,1114.7 L977.6,1112.8 L977.9,1110.8 L978.2,1108.7 L978.5,1106.7 L978.8,1104.7 L979.1,1102.7 L979.4,1100.7 L979.6,1098.9 L979.9,1096.9 L980.2,1094.8 L980.5,1092.8 L980.8,1091.0 L981.0,1089.0 L981.3,1086.9 L981.6,1084.7 L981.8,1082.9 L982.1,1080.7 L982.3,1078.8 L982.6,1076.8 L982.9,1075.0 L983.1,1073.1 L983.4,1071.0 L983.6,1069.1 L983.9,1066.9 L984.1,1064.7 L984.4,1062.7 L984.6,1060.9 L984.9,1059.0 L985.1,1057.3 L985.4,1055.1 L985.6,1053.3 L985.9,1051.1 L986.1,1048.9 L986.4,1046.7 L986.6,1044.7 L986.9,1042.9 L987.1,1040.8 L987.4,1038.8 L987.6,1036.9 L987.9,1034.9 L988.2,1032.8 L988.4,1030.9 L988.7,1029.1 L988.9,1027.3 L989.2,1025.4 L989.4,1023.5 L989.7,1021.2 L990.0,1018.9 L990.2,1016.9 L990.5,1015.2 L990.8,1013.4 L991.0,1011.4 L991.3,1009.3 L991.6,1007.3 L991.9,1005.2 L992.2,1003.2 L992.4,1001.1 L992.7,999.0 L993.0,997.0 L993.3,995.0 L993.6,993.1 L993.9,991.3 L994.2,989.4 L994.5,987.9 L994.8,985.9 L995.1,983.9 L995.4,981.7 L995.8,979.6 L996.1,977.7 L996.4,975.7 L996.7,973.6 L997.1,971.4 L997.4,969.4 L997.8,967.4 L998.1,966.0 L998.5,963.9 L998.8,961.8 L999.2,959.9 L999.5,957.9 L999.9,956.1 L1000.3,954.1 L1000.7,952.3 L1001.0,950.3 L1001.4,948.2 L1001.8,946.3 L1002.1,944.3 L1002.5,942.4 L1002.9,940.4 L1003.3,938.8 L1003.7,936.7 L1004.0,934.6 L1004.4,932.4 L1004.8,930.5 L1005.2,928.6 L1005.5,926.6 L1005.9,924.8 L1006.3,922.7 L1006.7,920.7 L1007.0,918.3 L1007.4,916.3 L1007.8,914.6 L1008.1,912.8 L1008.5,910.9 L1008.9,908.6 L1009.2,906.7 L1009.6,904.8 L1009.9,902.9 L1010.3,900.9 L1010.6,898.9 L1010.9,897.1 L1011.3,895.0 L1011.6,893.2 L1012.0,891.2 L1012.3,889.2 L1012.7,887.0 L1013.2,885.0 L1013.6,883.1 L1014.1,881.2 L1014.6,879.4 L1015.1,877.5 L1015.7,875.8 L1016.3,873.9 L1017.0,871.9 L1017.8,869.7 L1018.6,867.8 L1019.4,866.1 L1020.4,864.6 L1021.4,862.9 L1022.5,861.1 L1023.6,859.4 L1024.8,857.6 L1026.1,856.2 L1027.5,854.8 L1028.9,853.4 L1030.3,851.7 L1031.9,850.3 L1033.5,849.3 L1035.1,848.4 L1036.8,847.3 L1038.5,846.3 L1040.3,845.6 L1042.2,845.0 L1044.0,844.3 L1045.9,843.7 L1047.9,843.2 L1049.9,842.8 L1051.8,842.3 L1053.8,842.2 L1055.8,842.0 L1057.8,842.3 L1059.9,841.9 L1061.9,842.0 L1063.9,842.0 L1065.8,842.4 L1067.8,842.7 L1069.8,842.9 L1071.8,843.4 L1073.8,843.6 L1075.8,843.9 L1077.7,844.4 L1079.7,845.0 L1081.7,845.5 L1083.6,845.8 L1085.6,846.1 L1087.5,846.7 L1089.5,847.0 L1091.5,847.3 L1093.4,847.7 L1095.3,848.1 L1097.3,848.7 L1099.2,849.2 L1101.2,849.9 L1103.1,850.3 L1105.0,850.9 L1107.0,851.1 L1108.9,851.8 L1110.8,852.0 L1112.8,852.6 L1114.7,853.1 L1116.6,853.8 L1118.6,854.4 L1120.5,854.7 L1122.4,855.4 L1124.3,856.0 L1126.3,856.6 L1128.2,857.2 L1130.1,857.6 L1132.0,858.1 L1134.0,858.4 L1135.9,859.2 L1137.8,859.9 L1139.7,860.7 L1141.6,861.0 L1143.6,861.5 L1145.5,861.9 L1147.4,862.4 L1149.4,863.1 L1151.3,863.6 L1153.2,864.1 L1155.1,864.5 L1157.1,865.0 L1159.0,865.8 L1160.9,866.6 L1162.9,867.2 L1164.8,867.5 L1166.7,867.5 L1168.7,868.0 L1170.6,868.6 L1172.5,869.2 L1174.5,869.8 L1176.4,870.2 L1178.3,870.8 L1180.3,871.2 L1182.2,871.8 L1184.2,872.4 L1186.1,873.1 L1188.0,873.6 L1190.0,873.8 L1191.9,874.3 L1193.8,874.9 L1195.8,875.5 L1197.7,875.9 L1199.7,876.4 L1201.6,877.0 L1203.5,877.6 L1205.5,878.2 L1207.4,878.9 L1209.4,879.4 L1211.3,879.9 L1213.2,880.3 L1215.2,880.8 L1217.1,881.3 L1219.1,881.5 L1221.0,881.9 L1223.0,882.3 L1224.9,883.1 L1226.8,883.5 L1228.8,884.0 L1230.7,884.3 L1232.7,884.9 L1234.6,885.3 L1236.6,885.7 L1238.5,886.0 L1240.4,886.4 L1242.4,886.9 L1244.3,887.3 L1246.3,887.9 L1248.2,888.5 L1250.2,888.9 L1252.1,889.4 L1254.1,889.6 L1256.0,890.1 L1257.9,890.5 L1259.9,890.9 L1261.8,891.2 L1263.8,891.9 L1265.7,892.4 L1267.7,892.8 L1269.6,893.1 L1271.6,893.7 L1273.5,894.4 L1275.5,895.0 L1277.4,895.4 L1279.4,895.8 L1281.3,896.1 L1283.3,896.5 L1285.2,896.9 L1287.2,897.5 L1289.2,898.0 L1291.1,898.3 L1293.1,898.9 L1295.0,899.5 L1297.0,900.1 L1298.9,900.5 L1300.9,900.7 L1302.8,901.3 L1304.8,901.5 L1306.8,902.1 L1308.7,902.4 L1310.7,903.2 L1312.6,903.4 L1314.6,903.9 L1316.6,904.1 L1318.5,904.7 L1320.5,905.0 L1322.5,905.4 L1324.4,905.6 L1326.4,905.9 L1328.3,906.5 L1330.3,907.0 L1332.3,907.6 L1334.3,908.0 L1336.2,908.2 L1338.2,908.5 L1340.2,908.9 L1342.1,909.5 L1344.1,909.6 L1346.1,909.4 L1348.0,909.5 L1350.0,910.2 L1352.0,910.8 L1354.0,911.2 L1355.9,911.5 L1357.9,911.8 L1359.9,912.1 L1361.9,912.4 L1363.9,912.9 L1365.8,913.2 L1367.8,913.3 L1369.8,913.6 L1371.8,913.7 L1373.8,914.2 L1375.7,914.7 L1377.7,914.9 L1379.7,914.8 L1381.7,914.7 L1383.7,915.0 L1385.6,915.6 L1387.6,916.0 L1389.6,916.1 L1391.6,916.1 L1393.6,916.4 L1395.6,916.5 L1397.6,917.0 L1399.6,917.0 L1401.5,917.4 L1403.5,917.5 L1405.5,917.9 L1407.5,918.0 L1409.5,918.0 L1411.5,918.1 L1413.5,918.2 L1415.5,918.5 L1417.5,918.8 L1419.5,918.9 L1421.4,919.0 L1423.4,918.9 L1425.4,919.0 L1427.4,919.4 L1429.4,919.5 L1431.4,919.8 L1433.4,919.9 L1435.4,920.1 L1437.4,919.9 L1439.4,920.0 L1441.4,920.3 L1443.4,920.3 L1445.4,920.5 L1447.4,920.8 L1449.4,921.1 L1451.4,921.1 L1453.4,921.3 L1455.4,921.5 L1457.4,921.5 L1459.4,921.3 L1461.4,921.2 L1463.4,921.4 L1465.4,921.2 L1467.4,921.4 L1469.4,921.4 L1471.4,921.8 L1473.4,921.8 L1475.4,922.0 L1477.4,922.0 L1479.4,922.0 L1481.4,922.1 L1483.4,922.3 L1485.4,922.4 L1487.4,922.6 L1489.4,922.5 L1491.4,922.6 L1493.4,922.6 L1495.4,922.6 L1497.4,922.8 L1499.4,922.6 L1501.4,922.8 L1503.4,922.6 L1505.4,922.6 L1507.4,922.7 L1509.4,923.0 L1511.4,923.1 L1513.4,923.0 L1515.4,923.0 L1517.4,922.9 L1519.4,922.9 L1521.4,922.8 L1523.4,922.9 L1525.4,923.0 L1527.4,923.1 L1529.4,923.2 L1531.4,923.3 L1533.4,923.5 L1535.4,923.7 L1537.5,923.9 L1539.5,923.7 L1541.5,923.6 L1543.5,923.3 L1545.5,923.3 L1547.5,923.2 L1549.5,923.3 L1551.5,923.5 L1553.5,923.9 L1555.5,924.1 L1557.5,924.0 L1559.5,923.9 L1561.5,923.7 L1563.5,923.9 L1565.5,923.9 L1567.5,924.1 L1569.5,924.3 L1571.5,924.5 L1573.5,924.7 L1575.5,924.5 L1577.5,924.3 L1579.5,924.3 L1581.5,924.5 L1583.5,924.5 L1585.5,924.3 L1587.5,924.0 L1589.5,924.1 L1591.5,924.2 L1593.5,924.4 L1595.5,924.4 L1597.5,924.1 L1599.5,924.2 L1601.5,924.4 L1603.5,924.7 L1605.5,924.7 L1607.6,924.5 L1609.6,924.6 L1611.6,924.6 L1613.6,924.8 L1615.6,924.7 L1617.6,924.5 L1619.6,924.5 L1621.6,924.4 L1623.6,924.7 L1625.6,924.9 L1627.6,925.0 L1629.6,924.8 L1631.6,924.6 L1633.6,924.6 L1635.6,924.9 L1637.6,924.8 L1639.6,924.6 L1641.6,924.6 L1643.6,924.9 L1645.6,925.1 L1647.6,924.8 L1649.6,925.0 L1651.6,924.7 L1653.6,924.9 L1655.6,924.9 L1657.6,925.3 L1659.6,925.4 L1661.6,925.0 L1663.6,925.2 L1665.6,925.1 L1667.6,925.2 L1669.6,925.1 L1671.6,925.2 L1673.6,925.3 L1675.6,925.1 L1677.6,925.2 L1679.6,925.1 L1681.6,925.2 L1683.6,925.4 L1685.6,925.5 L1687.6,925.5 L1689.6,925.4 L1691.6,925.3 L1693.6,925.3 L1695.6,925.4 L1697.6,925.5 L1699.6,925.6 L1701.6,925.5 L1703.6,925.5 L1705.6,925.5 L1707.6,925.4 L1709.6,925.5 L1711.6,925.6 L1713.6,925.6 L1715.6,925.6 L1717.6,925.3 L1719.6,925.4 L1721.6,925.2 L1723.6,925.4 L1725.6,925.4 L1727.6,925.6 L1729.6,925.8 L1731.6,925.9 L1733.6,926.0 L1735.6,925.8 L1737.6,925.8 L1739.6,925.6 L1741.6,925.4 L1743.6,925.5 L1745.6,925.8 L1747.6,926.0 L1749.6,926.0 L1751.6,926.0 L1753.6,925.9 L1755.6,925.9 L1757.6,925.6 L1759.6,925.5 L1761.6,925.5 L1763.6,925.9 L1765.6,926.0 L1767.6,925.9 L1769.6,925.6 L1771.6,925.6 L1773.7,925.6 L1775.7,925.7 L1777.7,925.8 L1779.7,926.0 L1781.7,926.1 L1783.7,925.8 L1785.7,925.6 L1787.7,925.7 L1789.7,926.0 L1791.7,926.0 L1793.7,925.9 L1795.7,925.7 L1797.7,926.0 L1799.7,926.0 L1801.7,925.9 L1803.7,925.9 L1805.7,925.9 L1807.7,925.9 L1809.7,925.7 L1811.7,925.3 L1813.7,925.2 L1815.7,925.3 L1817.7,925.6 L1819.7,925.8 L1821.7,926.0 L1823.7,926.0 L1825.7,925.9 L1827.7,926.0 L1829.7,925.9 L1831.7,926.0 L1833.7,926.0 L1835.7,926.1 L1837.7,926.1 L1839.7,926.0 L1841.7,926.0 L1843.7,925.8 L1845.7,925.7 L1847.7,925.5 L1849.7,925.7 L1851.7,925.6 L1853.7,925.7 L1855.7,925.6 L1857.7,925.8 L1859.7,926.0 L1861.7,926.1 L1863.7,926.2 L1865.7,926.0 L1867.7,926.2 L1869.7,926.0 L1871.7,925.8 L1873.7,925.7 L1875.7,925.7 L1877.7,925.7 L1879.7,925.4 L1881.7,925.3 L1883.7,925.3 L1885.7,925.3 L1887.7,925.6 L1889.7,925.7 L1891.7,925.6 L1893.7,925.3 L1895.7,925.1 L1897.7,925.1 L1899.7,925.2 L1901.7,925.3 L1903.7,925.4 L1905.7,925.3 L1907.7,925.3 L1909.7,925.6 L1911.7,925.8 L1913.7,925.7 L1915.7,925.6 L1917.7,925.4 L1919.7,925.4 L1921.7,925.2 L1923.7,925.3 L1925.7,925.1 L1927.7,925.1 L1929.7,925.0 L1931.7,925.1 L1933.7,925.1 L1935.7,925.0 L1937.7,924.9 L1939.7,925.1 L1941.7,925.0 L1943.7,925.0 L1945.7,924.9 L1947.7,925.1 L1949.7,925.2 L1951.7,925.0 L1953.7,924.6 L1955.7,924.5 L1957.7,924.8 L1959.7,925.0 L1961.7,925.1 L1963.7,924.8 L1965.7,924.6 L1967.7,924.6 L1969.7,924.6 L1971.7,924.8 L1973.7,924.6 L1975.8,924.5 L1977.8,924.3 L1979.8,924.6 L1981.8,924.4 L1983.8,924.4 L1985.8,924.2 L1987.8,924.4 L1989.8,924.4 L1991.8,924.4 L1993.8,924.1 L1995.8,923.9 L1997.8,924.1 L1999.8,924.0 L2001.8,924.0 L2003.8,923.9 L2005.8,924.2 L2007.8,924.2 L2009.8,924.2 L2011.8,924.1 L2013.8,924.2 L2015.8,924.0 L2017.8,924.1 L2019.8,924.0 L2021.8,924.1 L2023.8,923.7 L2025.8,923.8 L2027.8,923.4 L2029.8,923.3 L2031.8,923.2 L2033.8,923.2 L2035.8,923.4 L2037.8,923.1 L2039.8,923.4 L2041.8,923.3 L2043.8,923.2 L2045.8,923.0 L2047.8,923.0 L2049.8,923.0 L2051.8,923.0 L2053.8,923.0 L2055.8,923.2 L2057.8,923.0 L2059.8,922.7 L2061.8,922.6 L2063.8,922.3 L2065.8,922.0 L2067.8,921.7 L2069.8,921.7 L2071.8,922.2 L2073.8,922.2 L2075.8,922.2 L2077.8,921.7 L2079.8,921.7 L2081.8,921.6 L2083.8,921.6 L2085.8,921.5 L2087.8,921.5 L2089.8,921.5 L2091.8,921.4 L2093.8,921.5 L2095.8,921.6 L2097.8,921.3 L2099.8,921.3 L2101.8,921.0 L2103.8,921.3 L2105.8,920.8 L2107.8,920.7 L2109.8,920.5 L2111.8,920.5 L2113.8,920.4 L2115.8,920.4 L2117.8,920.1 L2119.8,919.9 L2121.8,919.8 L2123.8,919.9 L2125.8,919.8 L2127.8,919.5 L2129.8,919.3"/>
<path class="cv" stroke="#0569E0" d="M552.5,1262.4 L554.4,1263.4 L556.4,1264.0 L558.4,1264.0 L560.4,1263.9 L562.3,1263.6 L564.3,1263.7 L566.3,1263.3 L568.3,1263.3 L570.4,1263.3 L572.4,1263.8 L574.4,1264.1 L576.3,1264.4 L578.3,1264.3 L580.3,1264.5 L582.3,1264.0 L584.2,1264.0 L586.2,1263.2 L588.1,1262.8 L590.1,1262.2 L592.1,1261.8 L594.1,1261.7 L596.1,1261.6 L598.1,1261.7 L600.1,1261.4 L602.1,1261.4 L604.1,1261.1 L606.1,1261.4 L608.1,1261.1 L610.1,1261.2 L612.2,1261.2 L614.2,1261.2 L616.2,1261.4 L618.2,1261.3 L620.2,1261.5 L622.1,1261.3 L624.1,1261.0 L626.1,1260.6 L628.1,1260.2 L630.1,1260.1 L632.0,1260.0 L634.0,1259.6 L636.0,1259.1 L637.9,1258.6 L639.9,1258.3 L641.9,1257.9 L643.8,1257.7 L645.8,1257.6 L647.8,1257.2 L649.7,1256.8 L651.7,1256.3 L653.7,1255.9 L655.7,1255.5 L657.6,1255.1 L659.6,1254.9 L661.6,1254.5 L663.6,1254.3 L665.6,1253.8 L667.6,1253.7 L669.5,1253.3 L671.5,1253.1 L673.5,1252.9 L675.5,1252.5 L677.5,1252.1 L679.5,1251.8 L681.4,1251.4 L683.4,1251.3 L685.4,1250.9 L687.4,1250.7 L689.4,1250.6 L691.4,1250.5 L693.4,1250.3 L695.4,1250.2 L697.4,1250.0 L699.3,1250.2 L701.3,1249.7 L703.3,1249.7 L705.3,1249.3 L707.3,1249.1 L709.3,1249.0 L711.3,1249.2 L713.3,1249.5 L715.3,1249.9 L717.3,1249.8 L719.2,1249.8 L721.2,1249.5 L723.2,1249.7 L725.2,1249.5 L727.2,1249.5 L729.2,1249.5 L731.2,1249.6 L733.2,1249.9 L735.2,1250.0 L737.2,1250.4 L739.2,1250.6 L741.2,1250.8 L743.2,1251.0 L745.2,1251.2 L747.1,1251.3 L749.1,1251.4 L751.1,1251.5 L753.1,1251.8 L755.1,1252.1 L757.1,1252.4 L759.1,1252.5 L761.1,1252.6 L763.1,1252.8 L765.1,1252.8 L767.1,1253.2 L769.1,1253.4 L771.1,1253.8 L773.1,1254.0 L775.1,1254.2 L777.1,1254.4 L779.1,1254.7 L781.1,1254.9 L783.0,1255.1 L785.0,1255.3 L787.0,1255.3 L789.0,1255.8 L791.0,1256.0 L793.0,1256.4 L795.0,1256.7 L797.0,1257.2 L799.0,1257.5 L801.0,1257.5 L803.0,1257.6 L805.0,1258.0 L807.0,1258.1 L809.0,1258.2 L811.0,1258.4 L813.0,1258.6 L815.0,1258.9 L817.0,1259.0 L819.0,1259.0 L821.0,1259.0 L823.0,1258.8 L825.0,1259.1 L826.9,1259.5 L828.9,1259.8 L830.9,1260.1 L832.9,1260.2 L834.9,1260.4 L836.9,1260.4 L838.9,1260.4 L840.9,1260.4 L842.9,1260.4 L844.9,1260.5 L846.9,1260.7 L848.9,1260.8 L850.9,1260.8 L852.9,1260.8 L854.9,1260.6 L856.9,1260.7 L858.9,1260.6 L860.9,1260.6 L862.9,1260.6 L864.9,1260.5 L866.9,1260.3 L868.8,1260.1 L870.8,1259.9 L872.8,1260.0 L874.8,1259.8 L876.8,1259.9 L878.8,1259.6 L880.8,1259.0 L882.8,1258.5 L884.8,1258.4 L886.8,1258.4 L888.8,1258.1 L890.8,1257.4 L892.8,1257.2 L894.8,1256.9 L896.7,1256.7 L898.7,1256.1 L900.6,1255.6 L902.6,1255.0 L904.5,1254.2 L906.3,1253.5 L908.2,1252.7 L910.0,1252.0 L911.8,1251.2 L913.5,1250.3 L915.3,1249.0 L916.9,1248.1 L918.6,1247.2 L920.2,1246.4 L921.7,1245.0 L923.3,1243.6 L924.7,1242.2 L926.2,1240.9 L927.6,1239.5 L929.0,1238.1 L930.3,1236.5 L931.6,1234.9 L932.9,1233.5 L934.1,1232.2 L935.3,1230.7 L936.4,1228.9 L937.5,1226.9 L938.6,1225.2 L939.7,1223.6 L940.7,1221.8 L941.6,1220.0 L942.6,1217.7 L943.5,1216.0 L944.4,1214.1 L945.2,1212.3 L946.0,1210.3 L946.8,1208.4 L947.6,1206.8 L948.3,1205.0 L949.0,1203.2 L949.7,1201.1 L950.3,1199.5 L950.9,1197.4 L951.5,1195.7 L952.1,1193.6 L952.6,1191.7 L953.2,1190.0 L953.7,1188.3 L954.2,1186.4 L954.7,1184.2 L955.2,1181.9 L955.7,1179.9 L956.1,1177.9 L956.6,1176.1 L957.1,1174.3 L957.5,1172.4 L958.0,1170.5 L958.4,1168.4 L958.9,1166.4 L959.3,1164.5 L959.7,1162.8 L960.1,1160.9 L960.6,1159.0 L961.0,1156.9 L961.4,1154.9 L961.8,1152.6 L962.2,1150.9 L962.6,1148.9 L962.9,1147.3 L963.3,1145.3 L963.7,1143.4 L964.1,1141.3 L964.4,1139.4 L964.8,1137.4 L965.1,1135.4 L965.5,1133.3 L965.8,1131.5 L966.2,1129.6 L966.5,1127.9 L966.9,1125.8 L967.2,1123.9 L967.5,1121.6 L967.8,1119.7 L968.2,1117.6 L968.5,1115.9 L968.8,1113.9 L969.1,1111.8 L969.4,1109.7 L969.7,1107.7 L970.0,1105.8 L970.3,1103.7 L970.6,1101.5 L970.9,1099.9 L971.2,1098.0 L971.5,1096.2 L971.7,1093.8 L972.0,1091.6 L972.3,1089.5 L972.6,1087.6 L972.8,1085.9 L973.1,1083.8 L973.4,1081.9 L973.7,1080.0 L973.9,1078.0 L974.2,1076.0 L974.5,1073.8 L974.7,1071.9 L975.0,1069.9 L975.2,1068.2 L975.5,1066.1 L975.7,1064.0 L976.0,1062.0 L976.3,1059.9 L976.5,1057.9 L976.8,1055.7 L977.0,1053.8 L977.3,1051.9 L977.5,1050.0 L977.8,1048.4 L978.0,1046.5 L978.3,1044.6 L978.5,1042.3 L978.8,1040.1 L979.0,1038.0 L979.3,1035.7 L979.5,1034.0 L979.8,1031.9 L980.0,1030.1 L980.3,1027.8 L980.5,1026.0 L980.8,1024.3 L981.0,1022.3 L981.3,1020.3 L981.5,1018.1 L981.8,1016.1 L982.0,1014.1 L982.3,1012.1 L982.5,1010.0 L982.8,1008.2 L983.0,1006.0 L983.3,1004.2 L983.5,1002.0 L983.8,1000.1 L984.0,998.0 L984.3,996.2 L984.5,994.2 L984.8,992.3 L985.0,990.4 L985.3,988.5 L985.5,986.5 L985.8,984.4 L986.0,982.4 L986.3,980.5 L986.5,978.4 L986.7,976.5 L987.0,974.5 L987.2,972.5 L987.5,970.6 L987.7,968.6 L988.0,966.7 L988.2,964.4 L988.4,962.4 L988.7,960.4 L988.9,958.6 L989.2,956.8 L989.4,954.7 L989.6,952.6 L989.9,950.6 L990.1,948.8 L990.3,946.9 L990.6,945.0 L990.8,943.0 L991.1,941.1 L991.3,938.9 L991.5,937.1 L991.8,935.2 L992.0,933.1 L992.2,931.0 L992.4,928.7 L992.7,926.9 L992.9,925.0 L993.1,923.1 L993.4,920.9 L993.6,918.7 L993.8,916.8 L994.0,914.8 L994.3,913.0 L994.5,911.0 L994.7,909.0 L994.9,907.0 L995.2,904.8 L995.4,902.8 L995.6,901.1 L995.8,899.2 L996.0,897.3 L996.3,895.1 L996.5,892.8 L996.7,890.9 L996.9,888.8 L997.1,887.0 L997.3,885.1 L997.6,882.9 L997.8,881.0 L998.0,879.1 L998.2,877.0 L998.4,874.9 L998.6,872.8 L998.8,871.0 L999.0,869.1 L999.2,867.2 L999.4,865.2 L999.7,863.1 L999.9,861.1 L1000.1,858.9 L1000.3,856.8 L1000.5,854.6 L1000.7,852.8 L1000.9,851.1 L1001.1,849.6 L1001.3,847.3 L1001.5,845.3 L1001.7,843.1 L1001.9,841.3 L1002.1,839.4 L1002.3,837.3 L1002.5,835.3 L1002.7,833.0 L1002.9,830.9 L1003.0,829.1 L1003.2,827.5 L1003.4,825.8 L1003.6,823.5 L1003.8,821.4 L1004.0,819.1 L1004.2,817.3 L1004.4,815.3 L1004.6,813.5 L1004.8,811.6 L1005.0,809.5 L1005.2,807.6 L1005.4,805.2 L1005.6,803.4 L1005.8,801.3 L1005.9,799.5 L1006.1,797.4 L1006.3,795.6 L1006.5,793.6 L1006.7,791.5 L1006.9,789.2 L1007.1,787.3 L1007.3,785.2 L1007.5,783.3 L1007.7,781.3 L1007.9,779.5 L1008.1,777.4 L1008.3,775.5 L1008.5,773.7 L1008.6,771.6 L1008.8,769.7 L1009.0,767.7 L1009.2,765.8 L1009.4,763.7 L1009.6,761.3 L1009.8,759.5 L1010.0,757.4 L1010.2,755.6 L1010.4,753.4 L1010.6,751.4 L1010.8,749.3 L1011.0,747.3 L1011.2,745.4 L1011.4,743.4 L1011.6,741.4 L1011.8,739.4 L1012.1,737.5 L1012.3,735.4 L1012.5,733.4 L1012.7,731.3 L1012.9,729.5 L1013.1,727.3 L1013.3,725.3 L1013.5,723.3 L1013.7,721.6 L1014.0,719.5 L1014.2,717.7 L1014.4,715.6 L1014.6,713.9 L1014.8,711.9 L1015.1,709.9 L1015.3,707.9 L1015.5,706.1 L1015.7,704.2 L1016.0,702.2 L1016.2,699.9 L1016.4,698.0 L1016.7,695.9 L1016.9,693.9 L1017.1,692.0 L1017.4,690.2 L1017.6,688.2 L1017.9,686.4 L1018.1,684.4 L1018.4,682.5 L1018.6,680.3 L1018.9,678.4 L1019.1,676.5 L1019.4,674.3 L1019.6,672.0 L1019.9,669.8 L1020.2,668.2 L1020.4,666.5 L1020.7,664.6 L1021.0,662.5 L1021.2,660.5 L1021.5,658.4 L1021.8,656.4 L1022.1,654.3 L1022.4,652.5 L1022.7,650.5 L1023.0,648.4 L1023.3,646.3 L1023.6,644.3 L1023.9,642.5 L1024.2,640.6 L1024.5,638.8 L1024.8,636.7 L1025.1,634.6 L1025.4,632.5 L1025.8,630.6 L1026.1,628.7 L1026.4,626.9 L1026.8,625.0 L1027.1,623.2 L1027.4,621.1 L1027.8,619.1 L1028.1,617.1 L1028.5,615.0 L1028.9,613.1 L1029.2,610.9 L1029.6,608.9 L1030.0,606.9 L1030.3,605.1 L1030.7,603.3 L1031.1,601.7 L1031.5,599.8 L1031.9,597.6 L1032.3,595.4 L1032.7,593.3 L1033.1,591.3 L1033.5,589.2 L1033.9,587.2 L1034.3,585.2 L1034.8,583.4 L1035.2,581.4 L1035.6,579.4 L1036.1,577.4 L1036.5,575.4 L1037.0,573.3 L1037.4,571.1 L1037.9,569.3 L1038.4,567.5 L1038.8,565.7 L1039.3,563.6 L1039.8,561.5 L1040.4,559.6 L1040.9,557.6 L1041.5,555.7 L1042.1,553.5 L1042.8,551.8 L1043.4,549.9 L1044.1,548.4 L1044.9,546.3 L1045.7,544.6 L1046.5,542.6 L1047.4,541.3 L1048.3,539.5 L1049.3,537.8 L1050.3,536.1 L1051.4,534.5 L1052.6,533.0 L1053.8,531.4 L1055.1,529.9 L1056.5,528.5 L1057.9,527.1 L1059.4,525.9 L1060.9,524.6 L1062.6,523.3 L1064.2,521.8 L1065.9,520.9 L1067.7,520.3 L1069.5,519.4 L1071.3,518.1 L1073.2,517.0 L1075.0,516.3 L1077.0,515.8 L1078.9,515.1 L1080.8,514.3 L1082.8,513.8 L1084.7,513.4 L1086.7,513.1 L1088.7,512.8 L1090.6,512.7 L1092.6,512.5 L1094.6,512.3 L1096.6,511.8 L1098.6,511.9 L1100.6,511.9 L1102.6,512.2 L1104.6,511.8 L1106.6,511.8 L1108.5,511.9 L1110.5,512.6 L1112.5,512.9 L1114.5,513.1 L1116.5,513.2 L1118.5,513.5 L1120.5,513.5 L1122.5,513.6 L1124.5,513.5 L1126.5,513.9 L1128.4,514.3 L1130.4,514.7 L1132.4,514.9 L1134.4,515.3 L1136.4,515.5 L1138.3,516.2 L1140.3,516.5 L1142.3,517.2 L1144.3,517.5 L1146.2,517.8 L1148.2,518.0 L1150.2,518.2 L1152.1,518.5 L1154.1,518.9 L1156.0,519.2 L1158.0,519.8 L1160.0,520.0 L1161.9,520.4 L1163.9,520.7 L1165.8,521.2 L1167.8,521.5 L1169.7,521.9 L1171.7,522.2 L1173.6,522.7 L1175.6,522.8 L1177.5,523.5 L1179.5,523.9 L1181.4,524.7 L1183.4,525.0 L1185.3,525.3 L1187.3,525.9 L1189.2,526.1 L1191.2,526.8 L1193.1,527.0 L1195.1,527.7 L1197.0,528.1 L1199.0,528.3 L1200.9,528.7 L1202.9,528.8 L1204.8,529.4 L1206.8,529.8 L1208.7,530.7 L1210.7,531.1 L1212.6,531.6 L1214.6,531.8 L1216.5,532.2 L1218.5,532.7 L1220.5,533.3 L1222.4,533.7 L1224.4,534.3 L1226.3,534.5 L1228.3,535.1 L1230.2,535.7 L1232.2,536.2 L1234.1,536.7 L1236.1,537.2 L1238.0,538.0 L1240.0,538.7 L1241.9,539.2 L1243.8,539.6 L1245.8,539.9 L1247.7,540.6 L1249.6,541.4 L1251.5,542.3 L1253.4,543.0 L1255.3,543.4 L1257.2,543.9 L1259.1,544.6 L1261.0,545.2 L1262.9,545.9 L1264.8,546.5 L1266.7,547.3 L1268.5,548.2 L1270.4,548.8 L1272.2,549.4 L1274.1,549.7 L1275.9,550.5 L1277.8,551.3 L1279.6,552.3 L1281.4,553.2 L1283.2,554.1 L1285.0,555.0 L1286.8,555.6 L1288.6,556.5 L1290.4,557.5 L1292.1,558.5 L1293.9,559.3 L1295.7,560.3 L1297.4,561.5 L1299.2,562.7 L1300.9,563.5 L1302.7,564.3 L1304.5,565.1 L1306.2,566.0 L1308.0,566.9 L1309.7,567.9 L1311.5,568.8 L1313.2,569.8 L1315.0,570.9 L1316.7,571.7 L1318.5,573.0 L1320.3,573.7 L1322.0,574.7 L1323.8,575.5 L1325.6,576.4 L1327.4,577.3 L1329.1,578.2 L1330.9,578.8 L1332.7,579.7 L1334.5,580.5 L1336.3,581.7 L1338.2,582.7 L1340.0,583.7 L1341.8,584.8 L1343.6,585.7 L1345.5,586.6 L1347.3,587.2 L1349.2,588.0 L1351.1,588.5 L1352.9,589.3 L1354.8,590.1 L1356.7,591.0 L1358.5,591.6 L1360.4,592.0 L1362.3,592.7 L1364.2,593.6 L1366.1,594.5 L1368.0,594.8 L1369.9,595.2 L1371.9,595.6 L1373.8,596.3 L1375.7,597.0 L1377.6,597.6 L1379.6,598.3 L1381.5,598.7 L1383.4,599.3 L1385.4,599.8 L1387.3,600.2 L1389.3,600.4 L1391.2,600.9 L1393.2,601.2 L1395.1,601.8 L1397.1,601.9 L1399.1,602.0 L1401.0,602.3 L1403.0,602.4 L1405.0,602.7 L1406.9,602.9 L1408.9,603.1 L1410.9,603.4 L1412.9,603.4 L1414.9,603.7 L1416.8,603.5 L1418.8,603.3 L1420.8,603.2 L1422.8,603.3 L1424.8,602.9 L1426.8,602.7 L1428.8,602.7 L1430.7,603.0 L1432.7,602.8 L1434.7,602.5 L1436.7,602.2 L1438.7,601.9 L1440.7,601.7 L1442.7,601.3 L1444.7,601.1 L1446.6,600.6 L1448.6,600.4 L1450.6,600.0 L1452.6,599.8 L1454.5,598.9 L1456.5,598.4 L1458.5,597.8 L1460.4,597.5 L1462.4,597.1 L1464.4,596.4 L1466.3,596.1 L1468.3,595.6 L1470.2,595.1 L1472.1,594.6 L1474.1,594.0 L1476.0,593.5 L1477.9,592.5 L1479.9,591.9 L1481.8,591.4 L1483.7,591.0 L1485.6,590.1 L1487.5,589.5 L1489.4,588.8 L1491.3,588.4 L1493.2,587.5 L1495.0,586.4 L1496.9,585.5 L1498.8,584.7 L1500.6,584.2 L1502.5,583.6 L1504.4,582.9 L1506.2,581.9 L1508.1,581.0 L1509.9,580.2 L1511.7,579.7 L1513.6,578.9 L1515.4,578.3 L1517.2,577.4 L1519.1,576.6 L1520.9,575.9 L1522.7,575.0 L1524.5,574.2 L1526.3,573.1 L1528.2,572.3 L1530.0,571.7 L1531.8,570.7 L1533.6,570.0 L1535.4,569.0 L1537.2,568.3 L1539.0,567.3 L1540.8,566.5 L1542.6,565.7 L1544.4,565.0 L1546.2,564.0 L1548.0,563.4 L1549.8,562.5 L1551.6,561.7 L1553.4,560.3 L1555.2,559.4 L1557.0,558.5 L1558.8,558.0 L1560.5,557.2 L1562.3,556.6 L1564.1,555.6 L1565.9,554.7 L1567.7,553.6 L1569.5,552.7 L1571.3,551.9 L1573.1,551.1 L1574.9,550.2 L1576.7,549.1 L1578.5,548.3 L1580.3,547.6 L1582.1,546.7 L1583.9,545.7 L1585.7,544.8 L1587.5,543.9 L1589.3,543.1 L1591.2,542.2 L1593.0,541.5 L1594.8,540.4 L1596.6,539.8 L1598.4,539.0 L1600.2,538.6 L1602.0,537.9 L1603.8,536.8 L1605.7,535.7 L1607.5,534.6 L1609.3,534.0 L1611.1,533.1 L1612.9,532.2 L1614.8,531.4 L1616.6,530.5 L1618.4,529.8 L1620.2,529.0 L1622.1,528.2 L1623.9,527.4 L1625.7,526.5 L1627.5,525.5 L1629.4,524.5 L1631.2,523.7 L1633.0,523.1 L1634.9,522.3 L1636.7,521.6 L1638.5,520.8 L1640.4,520.1 L1642.2,519.2 L1644.1,518.3 L1645.9,517.4 L1647.7,516.6 L1649.6,516.0 L1651.4,515.1 L1653.3,514.4 L1655.1,513.2 L1657.0,512.6 L1658.8,511.9 L1660.7,511.3 L1662.5,510.7 L1664.4,509.8 L1666.2,509.0 L1668.1,508.0 L1669.9,507.3 L1671.8,506.6 L1673.6,505.8 L1675.5,505.1 L1677.3,504.5 L1679.2,503.8 L1681.1,503.1 L1682.9,502.2 L1684.8,501.3 L1686.7,500.4 L1688.5,499.6 L1690.4,499.0 L1692.3,498.2 L1694.1,497.7 L1696.0,496.9 L1697.9,496.3 L1699.7,495.4 L1701.6,494.8 L1703.5,494.3 L1705.4,493.7 L1707.2,493.1 L1709.1,492.6 L1711.0,491.8 L1712.9,491.0 L1714.8,489.9 L1716.6,489.2 L1718.5,488.4 L1720.4,487.9 L1722.3,487.4 L1724.2,486.7 L1726.1,486.1 L1727.9,485.6 L1729.8,484.9 L1731.7,484.3 L1733.6,483.7 L1735.5,483.0 L1737.4,482.0 L1739.3,481.2 L1741.2,480.7 L1743.1,480.3 L1745.0,479.8 L1746.9,479.2 L1748.8,478.3 L1750.7,477.7 L1752.6,477.1 L1754.5,476.5 L1756.4,475.6 L1758.3,475.0 L1760.2,474.5 L1762.1,474.2 L1764.0,473.4 L1765.9,473.0 L1767.8,472.1 L1769.8,471.6 L1771.7,471.0 L1773.6,470.7 L1775.5,470.1 L1777.4,469.4 L1779.3,468.8 L1781.3,468.5 L1783.2,467.7 L1785.1,467.2 L1787.0,466.4 L1788.9,465.9 L1790.9,465.1 L1792.8,464.7 L1794.7,464.1 L1796.6,463.7 L1798.6,463.1 L1800.5,462.6 L1802.4,462.2 L1804.3,461.8 L1806.3,461.3 L1808.2,460.7 L1810.1,460.1 L1812.1,459.5 L1814.0,459.0 L1816.0,458.6 L1817.9,458.4 L1819.8,458.1 L1821.8,457.5 L1823.7,456.7 L1825.6,455.9 L1827.6,455.2 L1829.5,455.0 L1831.5,454.7 L1833.4,454.3 L1835.4,453.6 L1837.3,453.4 L1839.3,453.2 L1841.2,452.9 L1843.2,452.2 L1845.1,451.6 L1847.1,450.9 L1849.0,450.4 L1851.0,450.1 L1852.9,449.7 L1854.9,449.5 L1856.9,449.3 L1858.8,449.0 L1860.8,448.6 L1862.7,447.9 L1864.7,447.3 L1866.6,447.0 L1868.6,446.8 L1870.6,446.7 L1872.5,446.0 L1874.5,445.3 L1876.5,444.9 L1878.4,444.3 L1880.4,444.1 L1882.4,443.5 L1884.3,443.4 L1886.3,443.2 L1888.3,443.0 L1890.2,442.3 L1892.2,442.0 L1894.2,441.3 L1896.1,441.3 L1898.1,440.7 L1900.1,440.5 L1902.1,440.0 L1904.0,439.5 L1906.0,439.3 L1908.0,439.1 L1909.9,439.0 L1911.9,438.7 L1913.9,438.4 L1915.9,438.0 L1917.8,437.9 L1919.8,437.5 L1921.8,437.0 L1923.8,436.4 L1925.7,435.9 L1927.7,435.6 L1929.7,435.3 L1931.7,435.1 L1933.6,434.9 L1935.6,434.6 L1937.6,434.2 L1939.6,433.7 L1941.5,433.3 L1943.5,432.6 L1945.5,432.3 L1947.5,432.0 L1949.4,432.3 L1951.4,431.9 L1953.4,431.6 L1955.4,430.9 L1957.3,430.6 L1959.3,430.3 L1961.3,430.0 L1963.3,429.7 L1965.2,429.0 L1967.2,428.7 L1969.2,428.4 L1971.2,428.4 L1973.1,428.1 L1975.1,428.0 L1977.1,427.6 L1979.1,427.5 L1981.0,427.2 L1983.0,427.1 L1985.0,426.6 L1987.0,426.1 L1988.9,425.4 L1990.9,425.0 L1992.9,424.9 L1994.9,424.7 L1996.9,424.7 L1998.8,424.4 L2000.8,424.2 L2002.8,423.6 L2004.8,423.2 L2006.7,422.9 L2008.7,422.7 L2010.7,422.6 L2012.7,422.1 L2014.7,421.7 L2016.6,421.3 L2018.6,421.3 L2020.6,420.8 L2022.6,420.6 L2024.5,420.4 L2026.5,420.2 L2028.5,419.7 L2030.5,419.4 L2032.5,419.2 L2034.4,419.2 L2036.4,418.8 L2038.4,418.6 L2040.4,418.2 L2042.4,417.6 L2044.3,417.3 L2046.3,416.9 L2048.3,417.0 L2050.3,416.6 L2052.3,416.6 L2054.3,416.2 L2056.2,416.1 L2058.2,415.8 L2060.2,415.5 L2062.2,415.2 L2064.2,414.8 L2066.2,414.5 L2068.1,414.3 L2070.1,414.0 L2072.1,413.6 L2074.1,413.2 L2076.1,413.0 L2078.1,413.0 L2080.1,412.8 L2082.0,412.4 L2084.0,411.9 L2086.0,411.8 L2088.0,411.8 L2090.0,411.8 L2092.0,411.2 L2094.0,410.9 L2096.0,410.7 L2097.9,410.2 L2099.9,409.8 L2101.9,409.5 L2103.9,409.6 L2105.9,409.7 L2107.9,409.8 L2109.9,409.7 L2111.9,409.2 L2113.9,409.1 L2115.9,408.8 L2117.9,408.6 L2119.8,408.2 L2121.8,408.2 L2123.8,407.9 L2125.8,407.7 L2127.8,407.6 L2129.8,407.3"/>
<path class="cv" stroke="#05AC69" d="M552.5,1253.2 L554.3,1253.8 L556.0,1255.4 L557.6,1257.3 L559.2,1258.5 L560.8,1258.4 L562.5,1257.1 L564.3,1256.0 L566.0,1255.9 L567.7,1256.8 L569.4,1258.0 L571.1,1259.2 L572.7,1260.7 L574.4,1261.7 L576.3,1262.0 L578.3,1261.6 L580.3,1261.1 L582.3,1260.8 L584.3,1260.3 L586.2,1259.9 L588.1,1259.7 L590.1,1259.4 L592.1,1259.2 L594.0,1259.0 L596.0,1258.9 L598.0,1258.7 L600.0,1258.5 L602.0,1258.2 L604.0,1258.3 L606.0,1258.1 L608.0,1258.2 L610.1,1258.2 L612.1,1258.3 L614.1,1258.1 L616.1,1258.0 L618.1,1257.8 L620.1,1257.7 L622.1,1257.6 L624.1,1257.4 L626.1,1257.5 L628.1,1257.4 L630.1,1257.1 L632.1,1256.7 L634.1,1256.2 L636.0,1256.2 L638.0,1255.9 L640.0,1255.4 L642.0,1255.1 L643.9,1254.7 L645.9,1254.7 L647.9,1254.3 L649.8,1254.0 L651.8,1253.4 L653.8,1253.1 L655.7,1252.6 L657.7,1252.5 L659.7,1252.2 L661.6,1252.3 L663.6,1251.8 L665.5,1251.5 L667.5,1250.9 L669.5,1250.4 L671.4,1249.9 L673.4,1249.7 L675.4,1249.4 L677.3,1249.1 L679.3,1248.6 L681.3,1248.4 L683.2,1248.1 L685.2,1247.8 L687.2,1247.5 L689.2,1247.4 L691.2,1247.1 L693.2,1247.0 L695.1,1246.7 L697.1,1246.5 L699.1,1246.1 L701.1,1246.3 L703.1,1246.3 L705.1,1246.3 L707.1,1246.0 L709.1,1246.1 L711.1,1246.0 L713.1,1246.0 L715.1,1246.1 L717.1,1246.1 L719.1,1246.2 L721.2,1246.2 L723.2,1246.4 L725.2,1246.5 L727.2,1246.8 L729.2,1246.9 L731.2,1246.9 L733.2,1246.6 L735.2,1246.8 L737.2,1247.1 L739.2,1247.5 L741.2,1247.6 L743.3,1247.8 L745.3,1247.9 L747.3,1248.0 L749.3,1248.3 L751.3,1248.6 L753.3,1248.8 L755.3,1249.3 L757.3,1249.6 L759.2,1249.6 L761.2,1249.8 L763.2,1250.0 L765.2,1250.3 L767.2,1250.4 L769.2,1250.6 L771.2,1250.9 L773.2,1251.0 L775.1,1251.1 L777.1,1251.4 L779.1,1251.8 L781.1,1252.1 L783.1,1252.4 L785.1,1252.8 L787.0,1252.9 L789.0,1253.1 L791.0,1253.1 L793.0,1253.3 L794.9,1253.4 L796.9,1253.6 L798.9,1254.0 L800.9,1254.3 L802.9,1254.5 L804.8,1254.8 L806.8,1255.1 L808.8,1255.4 L810.8,1255.5 L812.8,1255.7 L814.7,1256.0 L816.7,1256.2 L818.7,1256.3 L820.7,1256.4 L822.7,1256.3 L824.6,1256.4 L826.6,1256.6 L828.6,1256.9 L830.6,1257.2 L832.6,1257.2 L834.6,1257.1 L836.6,1257.2 L838.6,1257.4 L840.6,1257.5 L842.6,1257.5 L844.5,1257.4 L846.5,1257.4 L848.5,1257.2 L850.5,1257.1 L852.6,1257.5 L854.6,1257.5 L856.6,1257.5 L858.6,1257.2 L860.6,1257.2 L862.6,1257.0 L864.6,1257.0 L866.6,1257.1 L868.7,1257.1 L870.7,1256.9 L872.7,1256.4 L874.8,1256.2 L876.8,1256.0 L878.8,1255.9 L880.8,1255.4 L882.8,1255.5 L884.9,1255.4 L886.9,1255.1 L888.9,1254.7 L890.8,1254.3 L892.8,1253.7 L894.8,1253.1 L896.7,1252.4 L898.6,1252.2 L900.5,1251.7 L902.4,1251.1 L904.2,1250.3 L906.1,1249.8 L907.9,1249.3 L909.7,1248.4 L911.4,1247.2 L913.1,1246.3 L914.8,1245.3 L916.5,1244.2 L918.1,1242.8 L919.6,1241.8 L921.2,1240.7 L922.7,1239.5 L924.2,1238.0 L925.6,1236.5 L927.0,1235.1 L928.4,1233.9 L929.7,1232.4 L931.0,1230.6 L932.3,1228.7 L933.5,1227.2 L934.7,1225.7 L935.9,1223.9 L937.0,1222.0 L938.1,1220.3 L939.1,1219.0 L940.2,1217.2 L941.2,1215.5 L942.1,1213.7 L943.0,1211.9 L943.9,1210.0 L944.8,1208.4 L945.6,1206.8 L946.5,1205.1 L947.2,1203.1 L948.0,1201.2 L948.7,1199.2 L949.4,1197.3 L950.1,1195.2 L950.8,1193.4 L951.5,1191.5 L952.1,1190.0 L952.7,1188.1 L953.3,1186.4 L953.9,1184.3 L954.5,1182.4 L955.0,1180.5 L955.6,1178.1 L956.1,1176.2 L956.6,1174.3 L957.2,1172.3 L957.7,1170.2 L958.2,1168.3 L958.7,1166.7 L959.2,1164.7 L959.7,1162.6 L960.2,1160.6 L960.6,1158.9 L961.1,1157.1 L961.6,1155.2 L962.0,1153.0 L962.5,1151.0 L963.0,1149.3 L963.4,1147.4 L963.8,1145.6 L964.3,1143.4 L964.7,1141.3 L965.2,1139.2 L965.6,1137.3 L966.0,1135.5 L966.4,1133.5 L966.8,1131.3 L967.2,1129.4 L967.7,1127.5 L968.1,1125.6 L968.5,1123.6 L968.9,1121.7 L969.2,1119.8 L969.6,1118.0 L970.0,1116.1 L970.4,1114.3 L970.8,1112.3 L971.2,1110.2 L971.5,1108.0 L971.9,1106.0 L972.3,1104.1 L972.6,1102.2 L973.0,1100.3 L973.4,1098.2 L973.7,1096.0 L974.1,1094.0 L974.4,1092.1 L974.8,1090.5 L975.1,1088.2 L975.5,1086.4 L975.8,1084.4 L976.2,1082.6 L976.5,1080.4 L976.8,1078.3 L977.2,1076.4 L977.5,1074.4 L977.9,1072.3 L978.2,1070.5 L978.5,1068.5 L978.9,1066.7 L979.2,1064.6 L979.5,1062.3 L979.9,1060.4 L980.2,1058.4 L980.5,1056.7 L980.8,1054.6 L981.2,1052.6 L981.5,1050.7 L981.8,1048.7 L982.2,1046.7 L982.5,1044.5 L982.8,1042.7 L983.1,1040.9 L983.5,1039.0 L983.8,1036.8 L984.1,1034.9 L984.5,1032.9 L984.8,1031.2 L985.1,1029.1 L985.4,1027.2 L985.8,1025.0 L986.1,1023.1 L986.4,1021.3 L986.8,1019.4 L987.1,1017.5 L987.4,1015.7 L987.8,1013.7 L988.1,1011.5 L988.4,1009.2 L988.8,1007.1 L989.1,1005.2 L989.4,1003.3 L989.8,1001.3 L990.1,999.5 L990.5,997.3 L990.8,995.4 L991.2,993.6 L991.5,992.0 L991.8,990.3 L992.2,988.2 L992.5,986.3 L992.9,984.3 L993.2,982.3 L993.6,980.0 L993.9,978.0 L994.3,975.9 L994.7,974.0 L995.0,972.0 L995.4,970.1 L995.7,968.2 L996.1,966.4 L996.5,964.3 L996.8,962.4 L997.2,960.5 L997.6,958.7 L997.9,956.9 L998.3,954.9 L998.7,953.0 L999.1,951.0 L999.5,948.8 L999.8,946.6 L1000.2,944.5 L1000.6,942.5 L1001.0,940.5 L1001.4,938.5 L1001.8,936.5 L1002.2,934.6 L1002.6,932.8 L1003.0,930.9 L1003.4,928.8 L1003.8,926.8 L1004.2,924.8 L1004.6,922.9 L1005.0,921.0 L1005.4,919.0 L1005.9,917.1 L1006.3,915.2 L1006.7,913.3 L1007.1,911.2 L1007.6,909.1 L1008.0,907.1 L1008.4,905.2 L1008.9,903.3 L1009.3,901.0 L1009.8,898.7 L1010.2,896.7 L1010.7,895.1 L1011.1,893.6 L1011.6,891.6 L1012.1,889.7 L1012.6,887.5 L1013.2,885.3 L1013.7,883.5 L1014.3,881.5 L1015.0,879.9 L1015.7,877.9 L1016.4,876.2 L1017.1,874.4 L1017.9,872.6 L1018.8,870.8 L1019.7,868.8 L1020.7,867.2 L1021.7,865.8 L1022.8,864.3 L1023.9,862.9 L1025.2,861.4 L1026.5,860.1 L1027.8,858.6 L1029.3,857.1 L1030.8,855.8 L1032.5,854.7 L1034.2,853.6 L1035.9,852.5 L1037.7,851.2 L1039.6,850.4 L1041.5,849.5 L1043.4,849.0 L1045.4,848.3 L1047.4,847.7 L1049.3,847.3 L1051.3,847.2 L1053.3,847.2 L1055.3,846.9 L1057.3,846.7 L1059.2,846.7 L1061.2,846.9 L1063.2,847.2 L1065.2,847.6 L1067.1,847.8 L1069.1,848.0 L1071.1,848.3 L1073.0,848.8 L1075.0,849.5 L1077.0,849.9 L1078.9,850.2 L1080.9,850.7 L1082.9,851.3 L1084.8,851.9 L1086.8,852.1 L1088.8,852.4 L1090.7,852.7 L1092.7,853.3 L1094.6,853.6 L1096.6,854.3 L1098.6,854.8 L1100.5,855.5 L1102.5,855.6 L1104.4,856.1 L1106.4,856.6 L1108.3,857.0 L1110.3,857.5 L1112.2,857.9 L1114.2,858.5 L1116.1,859.0 L1118.0,859.3 L1120.0,860.0 L1121.9,860.5 L1123.8,861.0 L1125.8,861.6 L1127.7,862.1 L1129.6,862.8 L1131.6,862.9 L1133.5,863.2 L1135.4,863.7 L1137.3,864.5 L1139.3,865.1 L1141.2,865.6 L1143.1,865.9 L1145.0,866.5 L1146.9,866.9 L1148.8,867.6 L1150.7,868.1 L1152.6,868.8 L1154.5,869.4 L1156.4,870.2 L1158.3,870.8 L1160.2,871.4 L1162.1,871.9 L1164.0,872.6 L1165.9,873.5 L1167.8,874.1 L1169.7,874.8 L1171.6,875.3 L1173.5,876.1 L1175.3,876.9 L1177.2,877.6 L1179.1,878.1 L1181.0,878.5 L1182.9,879.0 L1184.8,879.9 L1186.6,880.9 L1188.5,881.7 L1190.4,882.3 L1192.3,882.9 L1194.1,883.6 L1196.0,884.1 L1197.9,884.9 L1199.8,885.5 L1201.6,886.3 L1203.5,887.1 L1205.4,887.8 L1207.2,888.7 L1209.1,889.4 L1211.0,890.2 L1212.8,891.0 L1214.7,891.5 L1216.6,892.0 L1218.4,892.7 L1220.3,893.7 L1222.2,894.8 L1224.1,895.6 L1225.9,896.3 L1227.8,896.7 L1229.7,897.4 L1231.5,898.1 L1233.4,898.8 L1235.3,899.3 L1237.1,900.0 L1239.0,900.8 L1240.9,901.3 L1242.7,902.0 L1244.6,902.7 L1246.5,903.8 L1248.4,904.5 L1250.2,905.2 L1252.1,905.8 L1254.0,906.5 L1255.9,907.1 L1257.7,907.8 L1259.6,908.4 L1261.5,909.3 L1263.4,909.9 L1265.3,910.4 L1267.1,910.6 L1269.0,911.7 L1270.9,912.5 L1272.8,913.3 L1274.7,913.6 L1276.6,914.2 L1278.5,914.6 L1280.4,915.3 L1282.3,916.1 L1284.2,916.7 L1286.1,917.1 L1288.0,917.6 L1289.9,918.4 L1291.8,919.1 L1293.7,919.9 L1295.6,920.6 L1297.5,921.3 L1299.4,921.9 L1301.4,922.1 L1303.3,922.4 L1305.2,922.9 L1307.1,923.6 L1309.1,924.2 L1311.0,924.3 L1312.9,924.5 L1314.9,925.1 L1316.8,925.8 L1318.8,926.5 L1320.7,926.8 L1322.7,927.0 L1324.6,927.5 L1326.6,928.1 L1328.5,928.9 L1330.5,929.2 L1332.5,929.5 L1334.5,929.5 L1336.4,930.0 L1338.4,930.6 L1340.4,931.0 L1342.4,931.2 L1344.4,931.3 L1346.4,931.6 L1348.4,931.6 L1350.4,931.8 L1352.3,932.2 L1354.3,932.6 L1356.4,932.8 L1358.4,932.5 L1360.4,933.1 L1362.4,933.4 L1364.4,934.0 L1366.4,934.0 L1368.4,934.0 L1370.4,934.2 L1372.4,934.3 L1374.4,934.4 L1376.4,934.6 L1378.5,934.7 L1380.5,935.0 L1382.5,934.9 L1384.5,934.9 L1386.5,934.7 L1388.5,934.7 L1390.5,934.4 L1392.5,934.5 L1394.5,934.5 L1396.5,934.7 L1398.5,934.6 L1400.5,934.5 L1402.5,934.5 L1404.5,934.3 L1406.5,934.4 L1408.5,934.3 L1410.5,934.0 L1412.5,933.9 L1414.5,933.5 L1416.5,933.4 L1418.4,933.0 L1420.4,932.9 L1422.4,932.4 L1424.3,932.2 L1426.3,931.9 L1428.3,931.7 L1430.2,931.5 L1432.2,930.9 L1434.1,930.6 L1436.0,929.9 L1438.0,929.5 L1439.9,928.9 L1441.9,928.4 L1443.8,928.0 L1445.7,927.6 L1447.6,927.3 L1449.6,926.9 L1451.5,926.3 L1453.4,925.8 L1455.3,925.1 L1457.2,924.7 L1459.1,924.4 L1461.0,923.9 L1462.9,923.3 L1464.8,922.4 L1466.7,921.4 L1468.6,920.9 L1470.5,920.1 L1472.4,919.8 L1474.3,919.0 L1476.2,918.6 L1478.1,918.1 L1479.9,917.6 L1481.8,916.9 L1483.7,916.0 L1485.6,915.2 L1487.5,914.5 L1489.3,913.6 L1491.2,913.1 L1493.1,912.3 L1495.0,911.6 L1496.8,910.8 L1498.7,910.4 L1500.6,909.8 L1502.4,908.8 L1504.3,908.2 L1506.2,907.5 L1508.0,906.6 L1509.9,905.5 L1511.8,905.0 L1513.6,904.5 L1515.5,903.9 L1517.3,903.1 L1519.2,902.4 L1521.1,901.5 L1522.9,900.4 L1524.8,899.6 L1526.6,898.8 L1528.5,898.2 L1530.3,897.6 L1532.2,897.0 L1534.0,896.3 L1535.9,895.3 L1537.8,894.5 L1539.6,893.9 L1541.5,892.9 L1543.3,892.1 L1545.2,891.4 L1547.0,890.9 L1548.9,890.0 L1550.7,888.9 L1552.5,887.8 L1554.4,887.0 L1556.2,886.5 L1558.1,886.0 L1559.9,885.2 L1561.8,884.1 L1563.6,883.3 L1565.5,882.6 L1567.3,881.9 L1569.2,881.0 L1571.0,880.3 L1572.9,879.7 L1574.7,879.0 L1576.5,878.0 L1578.4,877.2 L1580.2,876.3 L1582.1,875.5 L1583.9,874.5 L1585.8,873.9 L1587.6,873.2 L1589.5,872.3 L1591.3,871.5 L1593.1,870.7 L1595.0,869.8 L1596.8,868.7 L1598.7,868.1 L1600.5,867.3 L1602.4,866.9 L1604.2,866.1 L1606.1,865.6 L1607.9,864.7 L1609.8,863.8 L1611.6,862.9 L1613.4,862.1 L1615.3,861.2 L1617.1,860.6 L1619.0,859.8 L1620.8,859.4 L1622.7,858.5 L1624.5,857.8 L1626.4,856.9 L1628.2,856.2 L1630.1,855.3 L1631.9,854.4 L1633.8,853.3 L1635.6,852.8 L1637.5,852.2 L1639.4,851.5 L1641.2,850.7 L1643.1,849.8 L1644.9,849.2 L1646.8,848.7 L1648.6,848.0 L1650.5,847.0 L1652.4,846.2 L1654.2,845.5 L1656.1,844.9 L1657.9,844.3 L1659.8,843.7 L1661.7,842.8 L1663.5,841.8 L1665.4,841.1 L1667.3,840.6 L1669.1,840.1 L1671.0,839.2 L1672.9,838.4 L1674.8,837.6 L1676.6,837.1 L1678.5,836.6 L1680.4,835.7 L1682.3,834.8 L1684.1,834.1 L1686.0,833.5 L1687.9,833.0 L1689.8,832.7 L1691.7,832.0 L1693.5,831.2 L1695.4,830.3 L1697.3,829.7 L1699.2,829.0 L1701.1,828.4 L1703.0,827.7 L1704.9,827.0 L1706.8,826.5 L1708.7,825.8 L1710.6,825.2 L1712.5,824.6 L1714.4,824.0 L1716.3,823.7 L1718.2,823.1 L1720.1,822.6 L1722.0,821.8 L1723.9,821.1 L1725.8,820.6 L1727.7,820.0 L1729.6,819.6 L1731.6,818.7 L1733.5,818.3 L1735.4,817.7 L1737.3,817.5 L1739.2,816.9 L1741.1,816.4 L1743.1,815.7 L1745.0,815.1 L1746.9,814.5 L1748.8,814.2 L1750.8,813.9 L1752.7,813.3 L1754.6,812.7 L1756.6,812.2 L1758.5,811.6 L1760.4,810.8 L1762.4,810.1 L1764.3,809.6 L1766.2,809.4 L1768.2,808.9 L1770.1,808.5 L1772.0,808.2 L1774.0,807.9 L1775.9,807.5 L1777.9,807.2 L1779.8,806.7 L1781.8,806.2 L1783.7,805.7 L1785.7,805.2 L1787.6,804.7 L1789.6,804.2 L1791.5,804.0 L1793.5,803.8 L1795.4,803.3 L1797.4,803.0 L1799.3,802.5 L1801.3,802.0 L1803.2,801.4 L1805.2,801.0 L1807.2,800.7 L1809.1,800.4 L1811.1,800.1 L1813.1,800.0 L1815.0,799.5 L1817.0,799.2 L1818.9,798.6 L1820.9,798.5 L1822.9,797.9 L1824.8,797.6 L1826.8,797.2 L1828.8,797.0 L1830.8,796.4 L1832.7,796.0 L1834.7,795.8 L1836.7,795.6 L1838.6,795.6 L1840.6,795.1 L1842.6,794.7 L1844.6,794.1 L1846.5,793.9 L1848.5,793.5 L1850.5,793.2 L1852.5,792.7 L1854.5,792.2 L1856.4,792.0 L1858.4,792.1 L1860.4,792.0 L1862.4,791.5 L1864.4,791.0 L1866.4,790.6 L1868.3,790.5 L1870.3,790.2 L1872.3,790.0 L1874.3,789.8 L1876.3,789.4 L1878.3,788.9 L1880.3,788.5 L1882.2,788.1 L1884.2,788.1 L1886.2,787.9 L1888.2,787.7 L1890.2,787.4 L1892.2,787.1 L1894.2,787.2 L1896.2,787.1 L1898.2,786.6 L1900.2,786.2 L1902.2,786.0 L1904.2,786.0 L1906.1,785.6 L1908.1,785.4 L1910.1,785.3 L1912.1,785.2 L1914.1,784.8 L1916.1,784.4 L1918.1,784.0 L1920.1,783.7 L1922.1,783.5 L1924.1,783.3 L1926.1,783.3 L1928.1,783.4 L1930.1,783.4 L1932.1,783.1 L1934.1,782.4 L1936.1,782.1 L1938.1,781.8 L1940.1,781.6 L1942.1,781.6 L1944.1,781.5 L1946.1,781.7 L1948.1,781.7 L1950.1,781.7 L1952.1,781.4 L1954.1,781.0 L1956.1,780.7 L1958.1,780.4 L1960.1,780.2 L1962.1,780.2 L1964.1,780.1 L1966.1,779.8 L1968.1,779.4 L1970.1,779.1 L1972.1,779.1 L1974.1,779.2 L1976.1,779.2 L1978.1,779.2 L1980.1,779.0 L1982.1,778.9 L1984.1,778.6 L1986.1,778.6 L1988.1,778.1 L1990.1,778.1 L1992.1,777.7 L1994.1,777.7 L1996.1,777.5 L1998.1,777.5 L2000.1,777.7 L2002.2,777.5 L2004.2,777.3 L2006.2,777.0 L2008.2,776.8 L2010.2,776.9 L2012.2,777.0 L2014.2,777.0 L2016.2,776.7 L2018.2,776.4 L2020.2,776.3 L2022.2,776.1 L2024.2,775.9 L2026.2,775.7 L2028.2,775.8 L2030.2,775.8 L2032.2,775.5 L2034.2,775.1 L2036.2,775.2 L2038.1,775.1 L2040.1,775.0 L2042.1,774.6 L2044.1,774.4 L2046.1,774.7 L2048.1,774.8 L2050.1,774.7 L2052.1,774.6 L2054.1,774.5 L2056.1,774.5 L2058.1,773.8 L2060.1,773.7 L2062.1,773.7 L2064.1,773.9 L2066.1,773.6 L2068.1,773.7 L2070.1,773.8 L2072.1,773.9 L2074.0,773.6 L2076.0,773.4 L2078.0,773.2 L2080.0,773.0 L2082.0,773.0 L2084.0,772.8 L2086.0,772.9 L2088.0,772.7 L2090.0,772.8 L2091.9,772.8 L2093.9,772.9 L2095.9,772.7 L2097.9,772.4 L2099.9,772.0 L2101.9,771.9 L2103.8,772.0 L2105.8,771.8 L2107.8,771.8 L2109.8,771.7 L2111.8,771.9 L2113.7,771.8 L2115.7,771.8 L2117.7,771.7 L2119.7,771.4 L2121.7,771.2 L2123.6,771.0 L2125.6,771.0 L2127.6,770.8 L2129.5,770.7"/>
</g>
<text transform="translate(509.60,1351.20) scale(1.0,1.086)" font-size="59" text-anchor="end">0</text>
<text transform="translate(509.60,1103.76) scale(1.0,1.086)" font-size="59" text-anchor="end">20</text>
<text transform="translate(509.60,856.32) scale(1.0,1.086)" font-size="59" text-anchor="end">40</text>
<text transform="translate(509.60,608.88) scale(1.0,1.086)" font-size="59" text-anchor="end">60</text>
<text transform="translate(509.60,361.44) scale(1.0,1.086)" font-size="59" text-anchor="end">80</text>
<text transform="translate(509.60,114.00) scale(1.0,1.086)" font-size="59" text-anchor="end">100</text>
<text transform="translate(552.50,1428.70) scale(1.0,1.07)" font-size="67.5" text-anchor="middle">200</text>
<text transform="translate(1078.00,1428.70) scale(1.0,1.07)" font-size="67.5" text-anchor="middle">400</text>
<text transform="translate(1603.50,1428.70) scale(1.0,1.07)" font-size="67.5" text-anchor="middle">600</text>
<text transform="translate(2129.00,1428.70) scale(1.0,1.07)" font-size="67.5" text-anchor="middle">800</text>
<text class="b" transform="translate(403.80,632.60) rotate(-90) scale(1.0,1.02)" font-size="79.4" text-anchor="middle">reflectance %</text>
<g clip-path="url(#cl)"><text class="b" x="1341.3" y="1545.7" font-size="72.3" text-anchor="middle">wavelength (nm)</text></g>
<path class="lg" stroke="#757575" d="M1426,985.5 H1573"/>
<text transform="translate(1591.70,1008.80) scale(1.0,1.06)" font-size="66.9" text-anchor="start">TiO</text>
<text transform="translate(1697.98,1026.90) scale(1.0,1.09)" font-size="45.3" text-anchor="start">2</text>
<path class="lg" stroke="#FA3C3C" d="M1426,1083.8 H1573"/>
<text transform="translate(1591.70,1107.10) scale(1.0,1.06)" font-size="66.9" text-anchor="start">3% Ag-TiO</text>
<text transform="translate(1913.64,1125.20) scale(1.0,1.09)" font-size="45.3" text-anchor="start">2</text>
<path class="lg" stroke="#0569E0" d="M1426,1181.8 H1573"/>
<text transform="translate(1591.70,1205.10) scale(1.0,1.06)" font-size="66.9" text-anchor="start">0.5% Au-TiO</text>
<text transform="translate(1969.42,1223.20) scale(1.0,1.09)" font-size="45.3" text-anchor="start">2</text>
<path class="lg" stroke="#05AC69" d="M1426,1279.5 H1573"/>
<text transform="translate(1592.70,1302.80) scale(1.0,1.06)" font-size="66.9" text-anchor="start">0.5% Au/3% Ag-TiO</text>
<text transform="translate(2182.40,1320.90) scale(1.0,1.09)" font-size="45.3" text-anchor="start">2</text>
<text class="s" transform="translate(92.70,161.00) scale(0.985,1.02)" font-size="150" text-anchor="start">a</text>
<text class="s" transform="translate(167.20,147.40) scale(0.93,0.919)" font-size="150" text-anchor="start">)</text>
</g>
<g id="panelB">
<g clip-path="url(#cb)" stroke-width="7">
<path class="cv" stroke="#757575" d="M679.6,1499.6 L679.8,1502.1 L679.9,1504.4 L680.0,1506.4 L680.2,1508.4 L680.3,1510.9 L680.4,1513.2 L680.6,1515.6 L680.7,1517.0 L680.8,1519.1 L681.0,1520.4 L681.1,1522.3 L681.2,1523.5 L681.4,1525.5 L681.5,1527.7 L681.7,1530.3 L681.8,1532.7 L681.9,1534.8 L682.1,1536.9 L682.2,1538.7 L682.3,1540.3 L682.5,1542.0 L682.6,1543.8 L682.8,1545.6 L682.9,1547.1 L683.0,1549.0 L683.2,1551.1 L683.3,1552.9 L683.5,1554.9 L683.6,1557.4 L683.7,1559.8 L683.9,1561.9 L684.0,1564.2 L684.2,1566.8 L684.3,1569.2 L684.4,1571.5 L684.6,1573.5 L684.7,1575.2 L684.9,1576.5 L685.0,1577.9 L685.2,1579.9 L685.3,1582.3 L685.4,1584.0 L685.6,1585.7 L685.7,1586.9 L685.9,1588.4 L686.0,1590.2 L686.2,1592.4 L686.3,1594.7 L686.5,1597.1 L686.6,1599.2 L686.7,1601.5 L686.9,1603.2 L687.0,1605.2 L687.2,1606.9 L687.3,1609.1 L687.5,1611.2 L687.6,1613.5 L687.8,1615.7 L687.9,1617.7 L688.1,1620.3 L688.2,1622.2 L688.4,1624.3 L688.5,1626.4 L688.7,1628.5 L688.8,1630.8 L689.0,1632.9 L689.1,1635.2 L689.3,1636.8 L689.4,1638.8 L689.6,1640.6 L689.7,1642.6 L689.9,1644.5 L690.0,1646.8 L690.2,1649.3 L690.3,1650.6 L690.5,1652.2 L690.6,1653.4 L690.8,1655.3 L690.9,1656.9 L691.1,1659.3 L691.2,1661.5 L691.4,1664.3 L691.5,1666.4 L691.7,1668.2 L691.8,1669.5 L692.0,1670.4 L692.1,1672.3 L692.3,1674.5 L692.4,1677.2 L692.6,1679.0 L692.8,1680.7 L692.9,1682.6 L693.1,1685.3 L693.2,1687.6 L693.4,1689.4 L693.5,1691.3 L693.7,1693.3 L693.8,1695.4 L694.0,1697.1 L694.2,1699.0 L694.3,1700.9 L694.5,1702.8 L694.6,1704.6 L694.8,1706.5 L694.9,1708.7 L695.1,1711.2 L695.3,1713.5 L695.4,1715.3 L695.6,1717.2 L695.7,1719.2 L695.9,1722.0 L696.0,1723.8 L696.2,1725.7 L696.4,1727.0 L696.5,1729.4 L696.7,1732.0 L696.8,1734.1 L697.0,1735.5 L697.2,1736.8 L697.3,1738.3 L697.5,1740.0 L697.6,1741.4 L697.8,1743.6 L698.0,1746.2 L698.1,1748.8 L698.3,1751.5 L698.4,1753.7 L698.6,1755.9 L698.8,1757.1 L698.9,1758.6 L699.1,1760.5 L699.2,1762.8 L699.4,1765.4 L699.6,1767.7 L699.7,1770.2 L699.9,1772.0 L700.1,1773.8 L700.2,1775.3 L700.4,1776.9 L700.6,1778.5 L700.7,1780.5 L700.9,1782.6 L701.0,1784.9 L701.2,1787.1 L701.4,1789.4 L701.5,1791.5 L701.7,1793.2 L701.9,1795.2 L702.0,1797.5 L702.2,1800.2 L702.4,1802.3 L702.5,1804.0 L702.7,1805.4 L702.9,1807.3 L703.0,1809.2 L703.2,1811.6 L703.3,1813.7 L703.5,1815.5 L703.7,1817.2 L703.8,1818.7 L704.0,1820.8 L704.2,1822.7 L704.3,1824.6 L704.5,1826.6 L704.7,1828.3 L704.8,1830.4 L705.0,1832.4 L705.2,1835.0 L705.3,1837.3 L705.5,1840.0 L705.7,1842.5 L705.9,1844.7 L706.0,1846.5 L706.2,1848.2 L706.4,1849.8 L706.5,1851.4 L706.7,1852.9 L706.9,1854.7 L707.0,1856.6 L707.2,1858.7 L707.4,1860.3 L707.5,1862.6 L707.7,1864.5 L707.9,1866.6 L708.0,1868.2 L708.2,1869.9 L708.4,1871.9 L708.6,1873.7 L708.7,1875.8 L708.9,1877.9 L709.1,1880.6 L709.2,1883.2 L709.4,1885.2 L709.6,1886.7 L709.7,1888.1 L709.9,1890.6 L710.1,1892.3 L710.3,1894.9 L710.4,1896.9 L710.6,1899.1 L710.8,1901.2 L710.9,1903.1 L711.1,1905.1 L711.3,1906.5 L711.5,1908.0 L711.6,1909.5 L711.8,1911.4 L712.0,1913.4 L712.1,1916.0 L712.3,1918.3 L712.5,1921.0 L712.7,1923.3 L712.8,1925.8 L713.0,1928.1 L713.2,1930.5 L713.4,1932.6 L713.5,1933.7 L713.7,1934.8 L713.9,1935.9 L714.0,1937.5 L714.2,1939.3 L714.4,1941.0 L714.6,1943.2 L714.7,1945.2 L714.9,1947.9 L715.1,1949.9 L715.3,1952.1 L715.4,1954.3 L715.6,1956.7 L715.8,1959.2 L716.0,1961.0 L716.1,1962.5 L716.3,1963.5 L716.5,1964.7 L716.6,1966.1 L716.8,1968.1 L717.0,1970.4 L717.2,1972.6 L717.3,1975.1 L717.5,1977.6 L717.7,1979.7 L717.9,1981.8 L718.0,1984.1 L718.2,1986.4 L718.4,1988.8 L718.6,1991.3 L718.7,1993.6 L718.9,1995.8 L719.1,1997.7 L719.3,1999.8 L719.4,2001.5 L719.6,2002.8 L719.8,2004.4 L720.0,2006.4 L720.2,2008.6 L720.3,2010.4 L720.5,2012.3 L720.7,2014.6 L720.9,2017.1 L721.0,2019.1 L721.2,2021.1 L721.4,2022.5 L721.6,2024.4 L721.7,2025.9 L721.9,2027.8 L722.1,2030.0 L722.3,2032.2 L722.4,2034.4 L722.6,2036.3 L722.8,2038.1 L723.0,2040.1 L723.2,2042.1 L723.3,2044.3 L723.5,2046.7 L723.7,2048.7 L723.9,2050.5 L724.0,2052.5 L724.2,2054.6 L724.4,2057.2 L724.6,2059.4 L724.8,2061.3 L724.9,2062.7 L725.1,2064.0 L725.3,2065.6 L725.5,2067.9 L725.7,2070.5 L725.9,2073.0 L726.0,2075.2 L726.2,2077.3 L726.4,2079.4 L726.6,2081.1 L726.8,2083.0 L726.9,2084.2 L727.1,2085.9 L727.3,2087.1 L727.5,2088.7 L727.7,2090.2 L727.9,2092.2 L728.1,2094.7 L728.2,2096.7 L728.4,2098.9 L728.6,2101.6 L728.8,2103.5 L729.0,2105.5 L729.2,2106.9 L729.4,2109.4 L729.6,2111.2 L729.7,2113.2 L729.9,2115.4 L730.1,2117.8 L730.3,2120.4 L730.5,2122.3 L730.7,2124.2 L730.9,2126.3 L731.1,2128.0 L731.3,2129.5 L731.5,2131.0 L731.6,2133.3 L731.8,2136.1 L732.0,2138.4 L732.2,2140.6 L732.4,2142.6 L732.6,2145.2 L732.8,2147.6 L733.0,2148.8 L733.2,2150.0 L733.4,2151.3 L733.6,2153.7 L733.8,2155.5 L734.0,2158.1 L734.2,2160.4 L734.4,2162.8 L734.6,2164.6 L734.8,2166.3 L735.0,2167.9 L735.2,2169.7 L735.4,2171.5 L735.6,2173.4 L735.8,2175.6 L736.0,2177.8 L736.2,2180.1 L736.4,2181.9 L736.6,2183.8 L736.8,2185.7 L737.0,2187.4 L737.3,2189.9 L737.5,2192.4 L737.7,2195.1 L737.9,2197.3 L738.1,2199.3 L738.3,2201.3 L738.5,2202.2 L738.7,2203.5 L738.9,2204.9 L739.2,2207.3 L739.4,2209.4 L739.6,2211.5 L739.8,2213.0 L740.0,2214.3 L740.2,2216.1 L740.5,2218.3 L740.7,2221.1 L740.9,2223.0 L741.1,2225.0 L741.3,2226.4 L741.6,2228.4 L741.8,2230.2 L742.0,2232.7 L742.2,2234.9 L742.4,2237.5 L742.7,2239.8 L742.9,2241.9 L743.1,2244.2 L743.4,2246.2 L743.6,2248.0 L743.8,2249.6 L744.0,2251.5 L744.3,2253.4 L744.5,2255.6 L744.7,2257.1 L745.0,2258.8 L745.2,2260.3 L745.4,2262.2 L745.7,2264.4 L745.9,2266.7 L746.1,2268.4 L746.4,2270.4 L746.6,2272.4 L746.9,2275.2 L747.1,2277.1 L747.3,2279.3 L747.6,2280.9 L747.8,2283.3 L748.1,2284.7 L748.3,2286.3 L748.6,2288.1 L748.8,2290.2 L749.1,2292.3 L749.3,2294.4 L749.6,2296.7 L749.8,2299.0 L750.1,2301.0 L750.3,2302.9 L750.6,2304.4 L750.8,2306.1 L751.1,2308.2 L751.3,2310.1 L751.6,2312.1 L751.9,2314.5 L752.1,2317.0 L752.4,2319.8 L752.6,2321.8 L752.9,2323.5 L753.2,2324.8 L753.4,2326.0 L753.7,2327.8 L754.0,2329.6 L754.2,2331.4 L754.5,2333.3 L754.8,2335.3 L755.0,2337.8 L755.3,2339.8 L755.6,2341.9 L755.8,2344.2 L756.1,2346.6 L756.4,2348.7 L756.7,2350.8 L757.0,2353.2 L757.2,2355.1 L757.5,2357.2 L757.8,2358.6 L758.1,2360.6 L758.4,2362.1 L758.6,2363.7 L758.9,2365.8 L759.2,2367.6 L759.5,2369.4 L759.8,2371.0 L760.1,2372.7 L760.4,2375.1 L760.7,2377.9 L761.0,2380.5 L761.3,2382.9 L761.6,2384.8 L761.9,2387.4 L762.2,2389.8 L762.5,2391.6 L762.8,2393.1 L763.1,2394.7 L763.4,2396.5 L763.7,2398.2 L764.0,2400.0 L764.4,2402.4 L764.7,2404.6 L765.0,2406.6 L765.3,2408.4 L765.6,2409.9 L766.0,2411.8 L766.3,2413.2 L766.6,2415.7 L767.0,2417.7 L767.3,2420.1 L767.7,2422.0 L768.0,2423.9 L768.3,2426.4 L768.7,2429.0 L769.0,2431.3 L769.4,2433.0 L769.8,2434.5 L770.1,2436.0 L770.5,2437.8 L770.8,2439.8 L771.2,2441.9 L771.6,2443.5 L772.0,2445.3 L772.3,2447.0 L772.7,2449.3 L773.1,2451.6 L773.5,2453.8 L773.9,2455.9 L774.3,2457.1 L774.7,2458.3 L775.1,2459.7 L775.5,2461.7 L775.9,2464.6 L776.3,2466.9 L776.7,2469.5 L777.1,2471.2 L777.5,2473.1 L778.0,2474.3 L778.4,2476.1 L778.8,2478.3 L779.2,2480.5 L779.7,2482.6 L780.1,2484.2 L780.6,2486.4 L781.0,2488.6 L781.5,2490.8 L781.9,2492.7 L782.4,2494.5 L782.9,2496.6 L783.4,2498.4 L783.8,2500.5 L784.3,2502.3 L784.8,2503.8 L785.3,2505.3 L785.8,2507.1 L786.3,2509.2 L786.8,2511.4 L787.3,2513.5 L787.8,2515.7 L788.3,2517.7 L788.8,2519.7 L789.4,2521.7 L789.9,2523.0 L790.4,2524.8 L791.0,2526.1 L791.5,2527.8 L792.1,2529.0 L792.6,2531.2 L793.2,2533.8 L793.7,2536.7 L794.3,2539.2 L794.9,2540.9 L795.5,2542.5 L796.1,2543.8 L796.7,2545.4 L797.3,2547.3 L797.9,2549.1 L798.5,2551.0 L799.1,2552.7 L799.8,2554.2 L800.4,2555.6 L801.1,2556.8 L801.7,2558.7 L802.4,2560.8 L803.1,2563.2 L803.7,2565.7 L804.4,2567.9 L805.1,2570.2 L805.9,2572.4 L806.6,2574.4 L807.3,2576.3 L808.1,2578.3 L808.8,2580.5 L809.6,2582.6 L810.4,2584.2 L811.1,2585.7 L811.9,2587.2 L812.8,2588.5 L813.6,2590.2 L814.4,2591.9 L815.3,2593.8 L816.1,2595.6 L817.0,2597.4 L817.9,2599.6 L818.8,2601.7 L819.7,2603.6 L820.6,2605.4 L821.6,2606.8 L822.5,2608.4 L823.5,2610.1 L824.5,2612.2 L825.5,2614.1 L826.5,2615.8 L827.5,2617.8 L828.6,2620.0 L829.6,2622.0 L830.7,2624.1 L831.8,2626.1 L833.0,2627.5 L834.1,2628.7 L835.3,2629.3 L836.6,2630.2 L837.8,2631.4 L839.1,2632.9 L840.5,2635.2 L841.9,2636.6 L843.3,2638.4 L844.8,2639.6 L846.3,2640.6 L847.9,2641.7 L849.5,2643.2 L851.1,2644.7 L852.8,2645.8 L854.6,2645.9 L856.3,2646.6 L858.1,2646.7 L860.0,2647.8 L861.8,2648.1 L863.7,2648.6 L865.6,2649.3 L867.5,2650.7 L869.4,2651.9 L871.4,2652.8 L873.3,2653.3 L875.2,2654.1 L877.2,2654.7 L879.1,2655.5 L881.1,2655.5 L883.1,2655.7 L885.0,2655.6 L887.0,2655.7 L889.0,2656.1 L891.0,2656.4 L893.0,2656.5 L895.0,2656.8 L897.0,2656.8 L899.0,2657.5 L900.9,2657.9 L902.9,2658.3 L904.9,2658.7 L906.9,2658.8 L908.9,2658.9 L910.9,2659.0 L912.9,2658.5 L914.9,2657.9 L916.9,2658.0 L918.9,2658.2 L920.9,2658.8 L922.9,2658.9 L924.8,2659.6 L926.8,2659.8 L928.8,2660.7 L930.8,2660.7 L932.8,2661.1 L934.8,2660.7 L936.8,2661.1 L938.8,2660.8 L940.8,2660.6 L942.8,2660.2 L944.8,2660.6 L946.8,2660.9 L948.8,2661.0 L950.7,2661.0 L952.7,2660.7 L954.7,2660.8 L956.7,2660.8 L958.7,2661.0 L960.7,2661.3 L962.7,2661.8 L964.7,2662.8 L966.7,2662.9 L968.7,2663.0 L970.7,2663.0 L972.7,2662.9 L974.7,2662.8 L976.7,2662.5 L978.7,2663.1 L980.6,2664.2 L982.6,2664.7 L984.6,2665.1 L986.6,2664.5 L988.6,2663.8 L990.6,2663.2 L992.5,2663.9 L994.5,2665.0 L996.5,2665.8 L998.5,2666.2 L1000.5,2665.9 L1002.4,2666.3 L1004.4,2666.3 L1006.4,2666.6 L1008.4,2666.5 L1010.4,2666.7 L1012.3,2666.9 L1014.3,2667.4 L1016.3,2667.1 L1018.3,2667.7 L1020.3,2667.8 L1022.2,2668.4 L1024.2,2668.4 L1026.2,2668.7 L1028.2,2668.5 L1030.2,2668.7 L1032.1,2668.6 L1034.1,2669.1 L1036.1,2669.0 L1038.1,2669.5 L1040.1,2669.5 L1042.1,2669.8 L1044.1,2670.1 L1046.0,2670.7 L1048.0,2671.1 L1050.0,2670.8 L1052.0,2670.5 L1054.0,2670.4 L1056.0,2670.5 L1058.0,2670.9 L1060.0,2671.3 L1062.0,2671.8 L1064.0,2672.0 L1066.0,2672.7 L1068.0,2673.6 L1070.0,2674.4 L1072.0,2674.9 L1073.9,2674.9 L1075.9,2675.2 L1077.9,2675.1 L1079.9,2674.8 L1081.9,2674.6 L1083.9,2674.3 L1085.9,2674.0 L1087.9,2673.5 L1089.9,2673.0 L1091.9,2672.9 L1093.9,2672.9 L1095.9,2673.2 L1097.9,2673.4 L1099.9,2673.4 L1101.9,2673.4 L1103.9,2673.8 L1105.9,2674.0 L1107.9,2674.4 L1109.9,2674.9 L1111.9,2675.0 L1113.9,2675.1 L1115.9,2674.4 L1117.9,2673.8 L1119.9,2672.6 L1121.9,2672.2 L1123.8,2672.6 L1125.8,2673.4 L1127.8,2673.6 L1129.8,2673.8 L1131.8,2673.7 L1133.8,2673.0 L1135.8,2672.3 L1137.8,2671.4 L1139.8,2670.9 L1141.8,2670.0 L1143.8,2669.8 L1145.7,2669.5 L1147.7,2668.6 L1149.7,2667.8 L1151.7,2667.2 L1153.7,2667.5 L1155.7,2667.6 L1157.7,2667.7 L1159.7,2668.3 L1161.7,2668.5 L1163.7,2668.8 L1165.6,2668.2 L1167.6,2667.8 L1169.6,2667.5 L1171.6,2667.2 L1173.6,2666.9 L1175.6,2666.5 L1177.6,2666.4 L1179.6,2666.9 L1181.6,2667.1 L1183.6,2667.0 L1185.5,2666.3 L1187.5,2665.8 L1189.5,2665.6 L1191.5,2665.4 L1193.5,2666.1 L1195.5,2666.2 L1197.5,2666.7 L1199.5,2666.6 L1201.5,2666.6 L1203.5,2666.5 L1205.5,2666.2 L1207.5,2666.3 L1209.5,2666.9 L1211.5,2667.8 L1213.5,2668.4 L1215.5,2668.9 L1217.4,2668.5 L1219.4,2668.6 L1221.4,2668.4 L1223.4,2668.6 L1225.4,2668.9 L1227.4,2668.4 L1229.3,2667.8 L1231.3,2666.5 L1233.3,2665.6 L1235.3,2664.8 L1237.3,2664.2 L1239.2,2664.1 L1241.2,2663.9 L1243.2,2663.6 L1245.2,2663.9 L1247.2,2663.8 L1249.2,2664.1 L1251.2,2664.0 L1253.2,2664.7 L1255.2,2665.0 L1257.2,2664.5 L1259.2,2663.9 L1261.2,2664.2 L1263.2,2664.2 L1265.2,2664.0 L1267.2,2663.4 L1269.2,2663.4 L1271.2,2663.1 L1273.3,2663.0 L1275.3,2662.5 L1277.3,2663.1 L1279.3,2663.3 L1281.3,2663.5 L1283.3,2662.8 L1285.3,2662.5 L1287.3,2662.0 L1289.3,2662.3 L1291.3,2662.0 L1293.2,2662.1 L1295.2,2661.8 L1297.2,2662.0 L1299.2,2662.6 L1301.2,2663.2 L1303.1,2663.7 L1305.1,2663.5 L1307.1,2663.4 L1309.1,2663.1 L1311.0,2663.4 L1313.0,2663.1 L1315.0,2662.7 L1317.0,2662.5 L1319.0,2663.3 L1321.0,2663.9 L1322.9,2663.9 L1324.9,2663.6 L1326.9,2663.7 L1328.9,2663.8 L1330.9,2663.5 L1332.9,2663.5 L1334.9,2663.6 L1336.9,2663.8 L1338.9,2663.7 L1340.9,2663.8 L1342.9,2664.0 L1344.9,2664.2 L1346.9,2664.1 L1348.9,2664.1 L1350.9,2664.6 L1352.9,2664.8 L1354.9,2665.2 L1356.9,2665.1 L1358.9,2665.0 L1360.9,2664.8 L1362.9,2664.6 L1364.9,2665.1 L1366.9,2665.2 L1368.9,2665.2 L1370.9,2664.9 L1372.9,2664.4 L1374.9,2664.3 L1376.9,2664.0 L1378.9,2663.9 L1380.9,2663.9 L1382.9,2664.0 L1384.9,2664.5 L1386.9,2664.7 L1388.9,2665.0 L1390.9,2665.4 L1392.9,2665.1 L1394.9,2665.5 L1396.9,2665.6 L1398.9,2666.3 L1400.9,2666.4 L1402.9,2666.3 L1404.9,2666.0 L1406.9,2665.9 L1408.9,2666.2 L1410.9,2666.3 L1412.9,2666.6 L1414.9,2666.4 L1416.9,2666.5 L1418.9,2666.2 L1420.9,2666.5 L1422.9,2666.2 L1424.9,2666.2 L1426.9,2665.8 L1428.9,2665.9 L1430.9,2665.7 L1432.9,2665.4 L1434.9,2665.1 L1436.9,2664.5 L1438.9,2664.3 L1440.9,2664.0 L1442.9,2664.7 L1444.8,2664.6 L1446.8,2664.7 L1448.8,2664.5 L1450.8,2664.9 L1452.8,2665.2 L1454.8,2665.4 L1456.8,2665.5 L1458.8,2665.1 L1460.8,2664.5 L1462.8,2664.0 L1464.8,2663.9 L1466.8,2664.4 L1468.8,2664.8 L1470.8,2664.5 L1472.8,2664.7 L1474.8,2664.5 L1476.8,2664.7 L1478.8,2664.1 L1480.8,2664.2 L1482.8,2664.2 L1484.8,2664.4 L1486.8,2664.3 L1488.8,2664.2 L1490.8,2664.4 L1492.8,2664.3 L1494.8,2664.6 L1496.8,2664.5 L1498.8,2664.2 L1500.8,2664.2 L1502.8,2663.5 L1504.8,2663.5 L1506.8,2662.5 L1508.8,2662.4 L1510.8,2661.7 L1512.8,2661.7 L1514.8,2661.1 L1516.8,2660.5 L1518.7,2660.0 L1520.7,2660.1 L1522.7,2660.9 L1524.7,2661.1 L1526.7,2660.9 L1528.7,2660.6 L1530.7,2660.6 L1532.7,2660.5 L1534.7,2660.2 L1536.7,2660.2 L1538.7,2660.6 L1540.7,2661.2 L1542.7,2661.2 L1544.7,2661.3 L1546.7,2661.4 L1548.7,2661.4 L1550.7,2661.4 L1552.7,2661.2 L1554.7,2661.0 L1556.7,2660.7 L1558.7,2660.6 L1560.7,2660.6 L1562.7,2660.6 L1564.7,2660.8 L1566.7,2660.5 L1568.7,2660.3 L1570.7,2660.1 L1572.6,2659.7 L1574.6,2659.2 L1576.6,2658.5 L1578.6,2658.5 L1580.6,2658.6 L1582.6,2658.7 L1584.6,2658.3 L1586.6,2658.1 L1588.6,2658.1 L1590.6,2658.3 L1592.6,2658.4 L1594.6,2658.2 L1596.6,2657.5 L1598.6,2656.6 L1600.6,2655.7 L1602.6,2655.6 L1604.6,2655.1 L1606.6,2655.5 L1608.6,2655.3 L1610.6,2655.4 L1612.6,2654.9 L1614.6,2655.1 L1616.6,2654.8 L1618.5,2654.8 L1620.5,2654.2 L1622.5,2654.0 L1624.5,2654.1 L1626.5,2654.0 L1628.5,2654.5 L1630.5,2654.7 L1632.5,2655.3 L1634.5,2655.4 L1636.5,2655.1 L1638.5,2654.5 L1640.5,2654.2 L1642.5,2654.5 L1644.5,2654.9 L1646.5,2655.2 L1648.5,2654.6 L1650.5,2653.8 L1652.5,2653.1 L1654.5,2652.9 L1656.5,2652.7 L1658.5,2652.2 L1660.4,2651.6 L1662.4,2651.1 L1664.4,2650.6 L1666.4,2650.6 L1668.4,2650.9 L1670.4,2651.2 L1672.4,2651.7 L1674.4,2651.6 L1676.4,2651.4 L1678.4,2650.5 L1680.4,2650.4 L1682.4,2650.6 L1684.4,2651.0 L1686.4,2650.9 L1688.4,2650.6 L1690.4,2650.2 L1692.4,2649.5 L1694.4,2648.5 L1696.4,2648.9 L1698.3,2649.4 L1700.3,2650.0 L1702.3,2649.1 L1704.3,2648.5 L1706.3,2648.8 L1708.3,2648.7 L1710.3,2648.9 L1712.3,2648.8 L1714.3,2649.2 L1716.3,2649.1 L1718.3,2648.4 L1720.3,2648.3 L1722.3,2647.4 L1724.3,2646.7 L1726.3,2646.0 L1728.3,2646.5 L1730.3,2646.9 L1732.2,2647.3 L1734.2,2647.0 L1736.2,2646.8 L1738.2,2646.8 L1740.2,2647.1 L1742.2,2647.6 L1744.2,2647.0 L1746.2,2646.2 L1748.2,2645.2 L1750.2,2644.9 L1752.2,2644.9 L1754.2,2645.2 L1756.2,2644.8 L1758.2,2644.7 L1760.2,2644.7 L1762.2,2645.2 L1764.1,2645.3 L1766.1,2645.3 L1768.1,2645.3 L1770.1,2644.9 L1772.1,2644.4 L1774.1,2643.6 L1776.1,2643.4 L1778.1,2643.2 L1780.1,2642.8 L1782.1,2642.6 L1784.1,2642.3 L1786.1,2642.7 L1788.1,2642.5 L1790.1,2642.7 L1792.1,2642.8 L1794.1,2643.0 L1796.1,2642.9 L1798.0,2642.3 L1800.0,2642.5 L1802.0,2642.2 L1804.0,2642.5 L1806.0,2642.3 L1808.0,2642.5 L1810.0,2642.4 L1812.0,2642.2 L1814.0,2642.4 L1816.0,2642.4 L1818.0,2642.8 L1820.0,2642.3 L1822.0,2642.0 L1824.0,2641.0 L1826.0,2640.6 L1828.0,2640.1 L1830.0,2640.2 L1832.0,2640.2 L1834.0,2640.2 L1836.0,2640.4 L1838.0,2641.2 L1839.9,2642.0 L1841.9,2642.1 L1843.9,2641.8 L1845.9,2640.9 L1847.9,2640.2 L1849.9,2639.6 L1851.9,2639.0 L1853.9,2638.9 L1855.9,2639.0 L1857.9,2639.5 L1859.9,2639.4 L1861.9,2639.7 L1863.9,2639.7 L1865.9,2639.8 L1867.9,2639.3 L1869.9,2639.0 L1871.9,2638.9 L1873.9,2639.1 L1875.9,2639.1 L1877.9,2638.8 L1879.9,2638.5 L1881.9,2638.2 L1883.9,2637.7 L1885.9,2637.2 L1887.9,2637.1 L1889.9,2637.5 L1891.9,2637.6 L1893.9,2637.9 L1895.9,2638.1 L1897.9,2638.2 L1899.9,2638.0 L1901.9,2637.5 L1903.9,2637.2 L1905.9,2637.0 L1907.9,2637.0 L1909.9,2636.8 L1911.9,2636.5 L1913.9,2636.9 L1915.9,2637.2 L1917.9,2637.8 L1919.9,2637.7 L1921.9,2637.3 L1923.9,2637.0 L1925.9,2636.9 L1927.9,2637.4 L1929.9,2637.6 L1931.9,2637.1 L1933.8,2637.0 L1935.8,2637.2 L1937.8,2638.0 L1939.8,2638.1 L1941.8,2638.3 L1943.8,2638.3 L1945.8,2638.4 L1947.8,2638.2 L1949.8,2637.6 L1951.8,2637.5 L1953.8,2637.4 L1955.8,2637.6 L1957.8,2637.7 L1959.8,2638.0 L1961.7,2638.3 L1963.7,2638.3 L1965.7,2638.2 L1967.7,2638.4 L1969.7,2638.5 L1971.7,2639.1 L1973.6,2639.3 L1975.6,2640.1 L1977.6,2640.2 L1979.6,2640.8 L1981.6,2641.2 L1983.5,2641.5 L1985.5,2641.4 L1987.5,2641.3 L1989.5,2641.6 L1991.5,2641.3 L1993.5,2641.1 L1995.5,2639.9 L1997.5,2639.0 L1999.5,2637.5 L2001.5,2636.4"/>
<path class="cv" stroke="#FA3C3C" d="M685.8,1499.9 L686.0,1501.8 L686.2,1504.0 L686.5,1506.0 L686.7,1508.1 L686.9,1510.1 L687.1,1512.2 L687.3,1514.2 L687.5,1516.1 L687.7,1517.9 L687.9,1519.7 L688.1,1521.7 L688.3,1523.8 L688.5,1525.7 L688.7,1527.7 L688.9,1529.7 L689.1,1531.6 L689.3,1533.7 L689.5,1535.6 L689.7,1537.7 L689.9,1539.6 L690.1,1541.5 L690.3,1543.6 L690.4,1545.7 L690.6,1547.6 L690.8,1549.5 L691.0,1551.6 L691.2,1553.9 L691.4,1555.9 L691.6,1557.8 L691.7,1559.5 L691.9,1561.5 L692.1,1563.5 L692.3,1565.6 L692.5,1567.8 L692.7,1569.8 L692.8,1571.8 L693.0,1573.7 L693.2,1575.7 L693.4,1577.5 L693.5,1579.4 L693.7,1581.5 L693.9,1583.6 L694.1,1585.6 L694.2,1587.7 L694.4,1589.6 L694.6,1591.5 L694.7,1593.5 L694.9,1595.4 L695.1,1597.4 L695.3,1599.4 L695.4,1601.4 L695.6,1603.5 L695.8,1605.5 L695.9,1607.3 L696.1,1609.2 L696.3,1611.1 L696.4,1613.3 L696.6,1615.4 L696.7,1617.3 L696.9,1619.2 L697.1,1621.2 L697.2,1623.4 L697.4,1625.4 L697.6,1627.2 L697.7,1629.0 L697.9,1631.2 L698.0,1633.3 L698.2,1635.4 L698.4,1637.5 L698.5,1639.5 L698.7,1641.4 L698.8,1643.4 L699.0,1645.4 L699.1,1647.3 L699.3,1649.2 L699.5,1651.2 L699.6,1653.3 L699.8,1655.3 L699.9,1657.4 L700.1,1659.4 L700.2,1661.4 L700.4,1663.4 L700.5,1665.2 L700.7,1667.4 L700.8,1669.6 L701.0,1671.5 L701.2,1673.2 L701.3,1675.2 L701.5,1677.3 L701.6,1679.4 L701.8,1681.4 L701.9,1683.5 L702.1,1685.5 L702.2,1687.3 L702.4,1689.3 L702.5,1691.4 L702.7,1693.6 L702.8,1695.7 L703.0,1697.6 L703.1,1699.5 L703.3,1701.4 L703.4,1703.3 L703.6,1705.2 L703.7,1707.3 L703.9,1709.4 L704.0,1711.5 L704.2,1713.4 L704.3,1715.4 L704.5,1717.2 L704.6,1719.4 L704.8,1721.5 L705.0,1723.7 L705.1,1725.5 L705.3,1727.3 L705.4,1729.3 L705.6,1731.3 L705.7,1733.6 L705.9,1735.4 L706.0,1737.7 L706.2,1739.4 L706.3,1741.3 L706.5,1743.2 L706.6,1745.2 L706.8,1747.4 L706.9,1749.4 L707.1,1751.3 L707.2,1753.2 L707.4,1755.0 L707.6,1756.9 L707.7,1758.9 L707.9,1760.8 L708.0,1762.9 L708.2,1765.0 L708.3,1767.0 L708.5,1769.1 L708.7,1771.2 L708.8,1773.3 L709.0,1775.4 L709.1,1777.2 L709.3,1779.3 L709.4,1781.3 L709.6,1783.3 L709.8,1785.1 L709.9,1787.0 L710.1,1789.1 L710.3,1791.4 L710.4,1793.3 L710.6,1795.5 L710.7,1797.1 L710.9,1799.1 L711.1,1800.9 L711.2,1803.1 L711.4,1805.0 L711.6,1807.1 L711.7,1809.3 L711.9,1811.3 L712.1,1813.4 L712.2,1815.2 L712.4,1817.2 L712.6,1818.9 L712.7,1820.9 L712.9,1822.9 L713.1,1825.0 L713.3,1827.0 L713.4,1828.8 L713.6,1831.1 L713.8,1833.1 L714.0,1835.1 L714.1,1836.6 L714.3,1838.5 L714.5,1840.6 L714.7,1842.7 L714.8,1844.6 L715.0,1846.6 L715.2,1848.7 L715.4,1851.0 L715.6,1853.0 L715.7,1854.9 L715.9,1857.2 L716.1,1859.1 L716.3,1861.2 L716.5,1862.7 L716.7,1864.7 L716.9,1866.5 L717.1,1868.6 L717.2,1870.7 L717.4,1872.7 L717.6,1874.5 L717.8,1876.5 L718.0,1878.7 L718.2,1881.0 L718.4,1882.9 L718.6,1884.9 L718.8,1886.8 L719.0,1888.9 L719.2,1890.9 L719.4,1892.8 L719.6,1894.8 L719.8,1896.5 L720.0,1898.7 L720.2,1900.6 L720.4,1902.7 L720.6,1904.6 L720.8,1906.5 L721.1,1908.5 L721.3,1910.5 L721.5,1912.5 L721.7,1914.5 L721.9,1916.4 L722.1,1918.3 L722.4,1920.3 L722.6,1922.3 L722.8,1924.4 L723.0,1926.5 L723.2,1928.5 L723.5,1930.3 L723.7,1932.3 L723.9,1934.3 L724.1,1936.4 L724.4,1938.3 L724.6,1940.3 L724.8,1942.3 L725.1,1944.3 L725.3,1946.1 L725.6,1948.0 L725.8,1950.0 L726.0,1952.2 L726.3,1954.2 L726.5,1956.2 L726.8,1958.0 L727.0,1959.8 L727.3,1961.8 L727.5,1963.9 L727.8,1966.2 L728.0,1967.9 L728.3,1969.8 L728.5,1971.7 L728.8,1973.7 L729.1,1975.7 L729.3,1977.6 L729.6,1979.7 L729.9,1981.5 L730.1,1983.5 L730.4,1985.3 L730.7,1987.3 L730.9,1989.4 L731.2,1991.6 L731.5,1993.7 L731.8,1995.7 L732.1,1997.7 L732.3,1999.8 L732.6,2001.6 L732.9,2003.3 L733.2,2005.2 L733.5,2007.2 L733.8,2009.4 L734.1,2011.4 L734.4,2013.4 L734.7,2015.3 L735.0,2017.3 L735.3,2019.1 L735.6,2021.4 L735.9,2023.3 L736.2,2025.4 L736.5,2027.3 L736.9,2029.2 L737.2,2031.1 L737.5,2033.1 L737.8,2035.1 L738.1,2037.2 L738.5,2039.1 L738.8,2041.2 L739.1,2042.9 L739.5,2044.9 L739.8,2046.8 L740.1,2048.7 L740.5,2050.9 L740.8,2052.9 L741.2,2054.9 L741.5,2057.0 L741.9,2059.2 L742.2,2061.2 L742.6,2062.9 L742.9,2064.7 L743.3,2066.8 L743.6,2069.1 L744.0,2071.1 L744.4,2073.0 L744.8,2075.0 L745.1,2077.1 L745.5,2079.1 L745.9,2081.1 L746.4,2083.0 L746.8,2085.2 L747.2,2087.1 L747.7,2089.0 L748.2,2090.7 L748.7,2092.8 L749.3,2094.7 L749.8,2096.7 L750.4,2098.6 L751.1,2100.8 L751.7,2102.6 L752.4,2104.3 L753.2,2106.0 L754.0,2107.7 L754.8,2109.4 L755.7,2111.3 L756.6,2113.3 L757.5,2115.4 L758.5,2117.3 L759.6,2119.1 L760.7,2120.6 L761.9,2122.1 L763.1,2123.6 L764.3,2124.9 L765.7,2126.5 L767.0,2128.2 L768.4,2129.6 L769.8,2130.8 L771.3,2131.8 L772.9,2133.0 L774.5,2134.2 L776.1,2135.2 L777.8,2135.8 L779.5,2136.4 L781.2,2136.9 L783.0,2137.5 L784.9,2138.2 L786.7,2138.4 L788.6,2138.7 L790.5,2138.8 L792.5,2139.1 L794.4,2139.0 L796.4,2138.9 L798.4,2138.9 L800.4,2138.9 L802.4,2138.7 L804.5,2138.5 L806.5,2138.1 L808.6,2138.1 L810.6,2137.7 L812.6,2137.4 L814.7,2137.2 L816.7,2136.8 L818.7,2136.8 L820.8,2136.4 L822.8,2136.2 L824.8,2135.7 L826.8,2135.5 L828.8,2134.9 L830.8,2134.4 L832.8,2133.8 L834.8,2133.6 L836.8,2133.4 L838.7,2133.0 L840.7,2132.5 L842.7,2131.8 L844.7,2131.5 L846.6,2131.0 L848.6,2130.8 L850.5,2130.1 L852.5,2129.8 L854.4,2129.3 L856.4,2128.8 L858.3,2128.3 L860.3,2127.8 L862.2,2127.2 L864.2,2126.8 L866.1,2126.4 L868.0,2126.0 L870.0,2125.6 L871.9,2125.0 L873.8,2124.2 L875.7,2123.5 L877.7,2123.3 L879.6,2122.9 L881.5,2122.3 L883.4,2121.8 L885.4,2121.3 L887.3,2120.9 L889.2,2120.1 L891.1,2119.6 L893.1,2119.2 L895.0,2118.7 L896.9,2118.3 L898.8,2117.8 L900.7,2117.5 L902.7,2116.9 L904.6,2116.5 L906.5,2115.8 L908.4,2115.3 L910.4,2114.4 L912.3,2113.9 L914.2,2113.5 L916.2,2113.4 L918.1,2112.6 L920.0,2112.2 L922.0,2111.5 L923.9,2111.5 L925.9,2111.0 L927.8,2110.6 L929.8,2110.3 L931.7,2109.9 L933.7,2109.4 L935.6,2108.9 L937.6,2108.5 L939.5,2108.1 L941.5,2107.4 L943.4,2106.9 L945.4,2106.4 L947.4,2106.1 L949.3,2105.8 L951.3,2105.6 L953.3,2105.3 L955.2,2104.7 L957.2,2104.4 L959.1,2103.8 L961.1,2103.4 L963.1,2103.0 L965.0,2102.6 L967.0,2102.4 L969.0,2102.0 L970.9,2101.5 L972.9,2100.9 L974.9,2100.7 L976.8,2100.4 L978.8,2100.1 L980.7,2099.5 L982.7,2098.8 L984.7,2098.4 L986.6,2097.9 L988.6,2097.6 L990.5,2097.0 L992.5,2096.8 L994.4,2096.3 L996.4,2096.1 L998.3,2095.6 L1000.3,2095.1 L1002.2,2094.7 L1004.2,2094.4 L1006.1,2093.8 L1008.1,2093.2 L1010.0,2092.6 L1012.0,2092.2 L1014.0,2092.0 L1015.9,2091.5 L1017.9,2091.3 L1019.8,2090.4 L1021.8,2090.3 L1023.7,2089.6 L1025.7,2089.1 L1027.6,2088.6 L1029.6,2088.3 L1031.5,2088.0 L1033.5,2087.6 L1035.4,2087.0 L1037.4,2086.8 L1039.3,2086.3 L1041.3,2086.3 L1043.2,2085.7 L1045.2,2085.3 L1047.1,2084.7 L1049.1,2084.4 L1051.1,2083.9 L1053.0,2083.7 L1055.0,2083.1 L1056.9,2082.7 L1058.9,2082.3 L1060.9,2082.2 L1062.8,2081.8 L1064.8,2081.4 L1066.7,2080.9 L1068.7,2080.6 L1070.7,2080.1 L1072.6,2079.6 L1074.6,2079.3 L1076.6,2079.2 L1078.6,2078.7 L1080.5,2078.2 L1082.5,2077.9 L1084.5,2077.7 L1086.4,2077.4 L1088.4,2077.0 L1090.4,2076.8 L1092.4,2076.5 L1094.3,2076.4 L1096.3,2076.2 L1098.3,2076.0 L1100.3,2075.6 L1102.2,2075.1 L1104.2,2074.6 L1106.2,2074.4 L1108.2,2074.0 L1110.2,2073.7 L1112.1,2073.5 L1114.1,2073.3 L1116.1,2073.0 L1118.1,2072.8 L1120.1,2072.6 L1122.1,2072.5 L1124.0,2072.1 L1126.0,2071.9 L1128.0,2071.6 L1130.0,2071.5 L1132.0,2071.4 L1134.0,2071.0 L1136.0,2070.9 L1137.9,2070.5 L1139.9,2070.3 L1141.9,2070.0 L1143.9,2069.7 L1145.9,2069.4 L1147.9,2069.3 L1149.9,2069.1 L1151.9,2068.8 L1153.9,2068.1 L1155.9,2068.0 L1157.8,2068.0 L1159.8,2068.3 L1161.8,2067.9 L1163.8,2067.6 L1165.8,2067.2 L1167.8,2067.3 L1169.8,2067.4 L1171.8,2067.2 L1173.8,2066.8 L1175.8,2066.5 L1177.8,2066.5 L1179.8,2066.4 L1181.8,2066.1 L1183.8,2065.9 L1185.8,2065.7 L1187.8,2065.6 L1189.8,2065.6 L1191.7,2065.5 L1193.7,2065.3 L1195.7,2064.9 L1197.7,2064.7 L1199.7,2064.6 L1201.7,2064.5 L1203.7,2064.4 L1205.7,2064.1 L1207.7,2063.9 L1209.7,2063.7 L1211.7,2063.7 L1213.7,2063.5 L1215.7,2063.5 L1217.7,2063.3 L1219.7,2063.2 L1221.7,2063.0 L1223.7,2062.7 L1225.7,2062.7 L1227.7,2062.7 L1229.7,2062.6 L1231.7,2062.6 L1233.7,2062.4 L1235.7,2062.2 L1237.7,2062.0 L1239.7,2061.9 L1241.7,2062.0 L1243.7,2061.9 L1245.7,2061.7 L1247.7,2061.3 L1249.7,2061.1 L1251.7,2061.1 L1253.7,2061.3 L1255.6,2061.0 L1257.6,2061.0 L1259.6,2060.8 L1261.6,2060.9 L1263.6,2060.8 L1265.6,2060.7 L1267.6,2060.6 L1269.6,2060.3 L1271.6,2060.5 L1273.6,2060.3 L1275.6,2060.3 L1277.6,2059.8 L1279.6,2059.8 L1281.6,2059.8 L1283.6,2059.8 L1285.6,2059.9 L1287.6,2059.6 L1289.6,2059.7 L1291.6,2059.4 L1293.6,2059.3 L1295.6,2059.2 L1297.6,2059.4 L1299.6,2059.3 L1301.6,2059.0 L1303.6,2058.7 L1305.6,2058.7 L1307.6,2058.5 L1309.6,2058.6 L1311.6,2058.7 L1313.6,2058.8 L1315.6,2058.7 L1317.6,2058.4 L1319.6,2058.5 L1321.6,2058.5 L1323.6,2058.5 L1325.6,2058.2 L1327.6,2058.1 L1329.6,2058.1 L1331.6,2058.1 L1333.6,2058.2 L1335.6,2058.0 L1337.6,2058.2 L1339.6,2057.9 L1341.6,2057.9 L1343.6,2057.9 L1345.6,2058.0 L1347.6,2057.9 L1349.6,2057.8 L1351.6,2057.8 L1353.6,2057.9 L1355.6,2057.9 L1357.6,2057.7 L1359.6,2057.8 L1361.6,2057.7 L1363.6,2057.8 L1365.6,2057.8 L1367.6,2057.8 L1369.6,2057.7 L1371.6,2057.6 L1373.6,2057.4 L1375.6,2057.5 L1377.6,2057.5 L1379.6,2057.7 L1381.6,2057.6 L1383.6,2057.4 L1385.6,2057.3 L1387.6,2057.4 L1389.6,2057.3 L1391.6,2057.3 L1393.6,2057.2 L1395.6,2057.4 L1397.6,2057.4 L1399.6,2057.4 L1401.6,2057.1 L1403.6,2056.9 L1405.6,2057.0 L1407.6,2057.1 L1409.6,2057.2 L1411.6,2057.2 L1413.6,2057.2 L1415.6,2057.2 L1417.6,2057.2 L1419.6,2057.1 L1421.6,2057.2 L1423.6,2057.1 L1425.6,2057.1 L1427.6,2057.0 L1429.6,2056.9 L1431.6,2057.0 L1433.6,2057.0 L1435.6,2057.0 L1437.6,2057.0 L1439.6,2057.0 L1441.6,2057.1 L1443.6,2057.1 L1445.6,2057.0 L1447.6,2056.9 L1449.6,2057.0 L1451.6,2056.9 L1453.6,2056.8 L1455.6,2056.6 L1457.6,2056.8 L1459.6,2056.8 L1461.6,2056.9 L1463.6,2056.8 L1465.6,2056.8 L1467.6,2056.8 L1469.6,2056.8 L1471.6,2057.1 L1473.6,2057.1 L1475.6,2057.1 L1477.6,2057.2 L1479.6,2057.3 L1481.6,2057.4 L1483.6,2057.3 L1485.6,2057.1 L1487.6,2057.2 L1489.6,2057.1 L1491.6,2057.0 L1493.6,2057.1 L1495.6,2057.1 L1497.6,2057.2 L1499.6,2057.0 L1501.6,2056.9 L1503.6,2056.7 L1505.6,2056.4 L1507.6,2056.6 L1509.6,2056.6 L1511.6,2056.9 L1513.6,2056.8 L1515.6,2056.8 L1517.6,2056.8 L1519.6,2056.9 L1521.6,2057.0 L1523.6,2057.1 L1525.6,2056.8 L1527.6,2056.9 L1529.6,2056.9 L1531.6,2057.1 L1533.6,2057.1 L1535.6,2057.0 L1537.6,2057.1 L1539.6,2057.1 L1541.6,2057.0 L1543.6,2057.1 L1545.6,2057.0 L1547.6,2057.2 L1549.6,2057.1 L1551.6,2057.2 L1553.6,2057.0 L1555.6,2057.0 L1557.6,2056.9 L1559.6,2056.9 L1561.6,2056.8 L1563.7,2056.9 L1565.7,2056.9 L1567.7,2057.2 L1569.7,2057.2 L1571.7,2057.0 L1573.7,2056.9 L1575.7,2057.0 L1577.7,2057.2 L1579.7,2057.1 L1581.7,2057.1 L1583.7,2057.0 L1585.7,2056.8 L1587.7,2057.1 L1589.7,2057.2 L1591.7,2057.2 L1593.7,2057.1 L1595.7,2057.1 L1597.7,2057.1 L1599.7,2056.9 L1601.7,2056.8 L1603.7,2057.0 L1605.7,2057.3 L1607.7,2057.3 L1609.7,2057.3 L1611.7,2057.1 L1613.7,2057.0 L1615.7,2056.9 L1617.7,2057.0 L1619.7,2057.0 L1621.7,2057.0 L1623.7,2056.8 L1625.7,2056.9 L1627.7,2056.7 L1629.7,2057.0 L1631.7,2056.9 L1633.7,2057.1 L1635.7,2057.0 L1637.7,2056.9 L1639.7,2056.9 L1641.7,2056.9 L1643.7,2056.7 L1645.7,2056.8 L1647.7,2056.8 L1649.7,2056.9 L1651.7,2056.6 L1653.7,2056.5 L1655.7,2056.3 L1657.7,2056.3 L1659.7,2056.3 L1661.7,2056.4 L1663.7,2056.7 L1665.7,2056.8 L1667.7,2056.8 L1669.7,2056.6 L1671.7,2056.6 L1673.7,2056.7 L1675.7,2056.8 L1677.7,2056.8 L1679.7,2056.8 L1681.7,2056.7 L1683.7,2057.0 L1685.7,2057.0 L1687.7,2056.8 L1689.7,2056.5 L1691.7,2056.4 L1693.7,2056.6 L1695.7,2056.8 L1697.7,2056.7 L1699.7,2056.6 L1701.7,2056.6 L1703.7,2056.7 L1705.7,2056.7 L1707.7,2056.8 L1709.7,2056.7 L1711.7,2056.7 L1713.7,2056.4 L1715.7,2056.4 L1717.7,2056.2 L1719.7,2056.4 L1721.7,2056.2 L1723.7,2056.4 L1725.7,2056.2 L1727.7,2056.4 L1729.7,2056.5 L1731.7,2056.5 L1733.7,2056.6 L1735.7,2056.3 L1737.7,2056.3 L1739.7,2056.4 L1741.7,2056.3 L1743.7,2056.5 L1745.7,2056.4 L1747.7,2056.4 L1749.7,2056.4 L1751.7,2056.3 L1753.7,2056.3 L1755.7,2056.1 L1757.7,2056.2 L1759.7,2056.0 L1761.7,2056.2 L1763.7,2056.3 L1765.7,2056.5 L1767.7,2056.6 L1769.7,2056.5 L1771.7,2056.3 L1773.7,2056.3 L1775.7,2056.2 L1777.7,2056.4 L1779.7,2056.5 L1781.7,2056.5 L1783.7,2056.4 L1785.7,2056.3 L1787.8,2056.5 L1789.8,2056.4 L1791.8,2056.4 L1793.8,2056.5 L1795.8,2056.6 L1797.8,2056.8 L1799.8,2056.6 L1801.8,2056.6 L1803.8,2056.6 L1805.8,2056.7 L1807.8,2056.7 L1809.8,2056.7 L1811.8,2056.7 L1813.8,2056.3 L1815.7,2056.5 L1817.7,2056.3 L1819.7,2056.5 L1821.7,2056.3 L1823.7,2056.5 L1825.7,2056.5 L1827.7,2056.7 L1829.7,2056.7 L1831.7,2056.5 L1833.7,2056.5 L1835.7,2056.4 L1837.7,2056.7 L1839.7,2056.6 L1841.7,2056.8 L1843.7,2056.8 L1845.7,2057.0 L1847.7,2057.1 L1849.7,2057.3 L1851.7,2057.1 L1853.7,2057.3 L1855.7,2057.2 L1857.7,2057.4 L1859.7,2057.4 L1861.7,2057.5 L1863.7,2057.5 L1865.7,2057.4 L1867.7,2057.4 L1869.7,2057.6 L1871.7,2058.0 L1873.7,2058.0 L1875.7,2058.1 L1877.7,2058.2 L1879.7,2058.1 L1881.7,2058.0 L1883.7,2057.9 L1885.7,2058.0 L1887.7,2058.0 L1889.7,2058.3 L1891.7,2058.3 L1893.7,2058.4 L1895.7,2058.3 L1897.7,2058.4 L1899.7,2058.3 L1901.7,2058.3 L1903.7,2058.4 L1905.7,2058.8 L1907.7,2059.2 L1909.7,2059.1 L1911.7,2059.0 L1913.7,2058.9 L1915.7,2059.0 L1917.7,2059.0 L1919.7,2059.4 L1921.7,2059.4 L1923.7,2059.5 L1925.7,2059.5 L1927.7,2059.4 L1929.7,2059.6 L1931.7,2059.7 L1933.7,2059.9 L1935.7,2060.1 L1937.7,2060.0 L1939.7,2060.2 L1941.7,2060.4 L1943.7,2060.6 L1945.7,2060.8 L1947.7,2060.7 L1949.7,2060.7 L1951.7,2060.7 L1953.7,2061.0 L1955.7,2061.1 L1957.7,2061.4 L1959.7,2061.7 L1961.7,2062.0 L1963.7,2061.9 L1965.7,2061.9 L1967.7,2061.8 L1969.7,2062.0 L1971.7,2062.1 L1973.7,2062.4 L1975.6,2062.6 L1977.6,2062.8 L1979.6,2063.0 L1981.6,2063.2 L1983.6,2063.1 L1985.6,2063.4 L1987.6,2063.5 L1989.6,2063.8 L1991.6,2063.7 L1993.6,2063.9 L1995.6,2063.9 L1997.6,2064.0 L1999.6,2064.2 L2001.6,2064.5"/>
<path class="cv" stroke="#0569E0" d="M679.5,1500.2 L679.7,1502.3 L679.8,1504.2 L680.0,1506.0 L680.1,1507.9 L680.2,1510.0 L680.4,1512.0 L680.5,1514.1 L680.7,1515.9 L680.8,1518.0 L680.9,1519.9 L681.1,1522.2 L681.2,1524.0 L681.4,1526.0 L681.5,1527.9 L681.6,1530.0 L681.8,1532.0 L681.9,1534.0 L682.1,1535.9 L682.2,1537.9 L682.3,1539.7 L682.5,1541.7 L682.6,1543.7 L682.8,1545.7 L682.9,1547.5 L683.1,1549.6 L683.2,1551.6 L683.3,1553.6 L683.5,1555.6 L683.6,1557.8 L683.8,1559.9 L683.9,1561.9 L684.1,1563.8 L684.2,1565.9 L684.3,1567.9 L684.5,1569.9 L684.6,1572.0 L684.8,1574.0 L684.9,1575.8 L685.1,1577.8 L685.2,1579.8 L685.4,1582.0 L685.5,1583.8 L685.6,1585.7 L685.8,1587.5 L685.9,1589.5 L686.1,1591.6 L686.2,1593.7 L686.4,1595.8 L686.5,1597.9 L686.7,1599.9 L686.8,1602.1 L687.0,1604.0 L687.1,1606.0 L687.3,1607.8 L687.4,1609.8 L687.6,1611.8 L687.7,1613.7 L687.8,1615.7 L688.0,1617.6 L688.1,1619.8 L688.3,1621.8 L688.4,1623.8 L688.6,1625.7 L688.7,1627.7 L688.9,1629.7 L689.0,1631.7 L689.2,1633.8 L689.3,1635.7 L689.5,1637.8 L689.6,1639.8 L689.8,1641.9 L689.9,1643.8 L690.1,1645.9 L690.2,1648.1 L690.4,1649.9 L690.5,1651.8 L690.7,1653.7 L690.8,1655.8 L691.0,1657.6 L691.1,1659.7 L691.3,1661.6 L691.4,1663.7 L691.6,1665.7 L691.8,1667.7 L691.9,1669.6 L692.1,1671.3 L692.2,1673.5 L692.4,1675.7 L692.5,1678.0 L692.7,1679.8 L692.8,1681.6 L693.0,1683.5 L693.1,1685.8 L693.3,1687.9 L693.4,1689.8 L693.6,1691.6 L693.7,1693.6 L693.9,1695.6 L694.1,1697.5 L694.2,1699.6 L694.4,1701.6 L694.5,1703.7 L694.7,1705.6 L694.8,1707.4 L695.0,1709.4 L695.1,1711.5 L695.3,1713.6 L695.5,1715.5 L695.6,1717.6 L695.8,1719.6 L695.9,1722.0 L696.1,1723.8 L696.2,1725.7 L696.4,1727.4 L696.6,1729.5 L696.7,1731.8 L696.9,1733.9 L697.0,1735.7 L697.2,1737.5 L697.4,1739.4 L697.5,1741.5 L697.7,1743.4 L697.8,1745.5 L698.0,1747.6 L698.2,1749.6 L698.3,1751.7 L698.5,1753.6 L698.6,1755.6 L698.8,1757.3 L699.0,1759.2 L699.1,1761.2 L699.3,1763.3 L699.4,1765.5 L699.6,1767.5 L699.8,1769.7 L699.9,1771.7 L700.1,1773.8 L700.3,1775.6 L700.4,1777.5 L700.6,1779.3 L700.7,1781.2 L700.9,1783.2 L701.1,1785.2 L701.2,1787.2 L701.4,1789.4 L701.6,1791.4 L701.7,1793.2 L701.9,1795.1 L702.1,1797.2 L702.2,1799.5 L702.4,1801.5 L702.6,1803.4 L702.7,1805.3 L702.9,1807.4 L703.0,1809.5 L703.2,1811.8 L703.4,1813.8 L703.5,1815.6 L703.7,1817.5 L703.9,1819.3 L704.0,1821.4 L704.2,1823.4 L704.4,1825.4 L704.6,1827.3 L704.7,1829.1 L704.9,1831.1 L705.1,1833.0 L705.2,1835.1 L705.4,1837.1 L705.6,1839.2 L705.7,1841.3 L705.9,1843.4 L706.1,1845.3 L706.2,1847.2 L706.4,1849.2 L706.6,1851.1 L706.8,1853.0 L706.9,1855.1 L707.1,1857.1 L707.3,1859.2 L707.4,1861.0 L707.6,1863.1 L707.8,1865.0 L708.0,1867.0 L708.1,1868.9 L708.3,1870.9 L708.5,1873.0 L708.6,1875.0 L708.8,1876.9 L709.0,1878.8 L709.2,1881.0 L709.3,1883.1 L709.5,1885.0 L709.7,1886.9 L709.9,1888.7 L710.0,1891.0 L710.2,1892.9 L710.4,1895.1 L710.6,1896.9 L710.7,1898.9 L710.9,1900.9 L711.1,1902.9 L711.3,1905.1 L711.4,1907.1 L711.6,1909.1 L711.8,1911.1 L712.0,1913.1 L712.1,1914.9 L712.3,1917.0 L712.5,1918.8 L712.7,1920.9 L712.9,1922.8 L713.0,1924.8 L713.2,1926.7 L713.4,1929.0 L713.6,1931.2 L713.8,1933.1 L713.9,1935.0 L714.1,1936.8 L714.3,1938.8 L714.5,1940.8 L714.7,1942.6 L714.8,1944.6 L715.0,1946.5 L715.2,1948.6 L715.4,1950.5 L715.6,1952.4 L715.7,1954.4 L715.9,1956.6 L716.1,1958.9 L716.3,1961.0 L716.5,1963.0 L716.7,1964.8 L716.8,1966.6 L717.0,1968.5 L717.2,1970.6 L717.4,1972.7 L717.6,1974.7 L717.8,1976.8 L718.0,1978.7 L718.1,1980.5 L718.3,1982.4 L718.5,1984.5 L718.7,1986.6 L718.9,1988.7 L719.1,1990.9 L719.3,1992.9 L719.5,1994.9 L719.7,1996.8 L719.8,1998.9 L720.0,2000.9 L720.2,2002.8 L720.4,2004.8 L720.6,2006.9 L720.8,2009.0 L721.0,2010.8 L721.2,2012.7 L721.4,2014.7 L721.6,2016.8 L721.8,2018.7 L722.0,2020.7 L722.2,2022.5 L722.4,2024.6 L722.6,2026.5 L722.8,2028.5 L723.0,2030.5 L723.2,2032.6 L723.4,2034.6 L723.6,2036.5 L723.8,2038.4 L724.0,2040.3 L724.2,2042.2 L724.4,2044.3 L724.6,2046.5 L724.9,2048.6 L725.1,2050.6 L725.3,2052.5 L725.5,2054.5 L725.7,2056.6 L725.9,2058.6 L726.1,2060.6 L726.3,2062.5 L726.6,2064.4 L726.8,2066.3 L727.0,2068.4 L727.2,2070.5 L727.4,2072.5 L727.7,2074.4 L727.9,2076.3 L728.1,2078.4 L728.3,2080.3 L728.6,2082.3 L728.8,2084.1 L729.0,2086.3 L729.2,2088.2 L729.5,2090.2 L729.7,2092.0 L729.9,2094.0 L730.2,2096.2 L730.4,2098.1 L730.6,2100.2 L730.9,2102.5 L731.1,2104.5 L731.4,2106.5 L731.6,2108.1 L731.8,2110.2 L732.1,2112.0 L732.3,2113.9 L732.6,2115.9 L732.8,2118.0 L733.1,2120.3 L733.3,2122.2 L733.6,2124.2 L733.8,2126.3 L734.1,2128.3 L734.3,2130.1 L734.6,2131.8 L734.8,2133.9 L735.1,2136.1 L735.3,2138.1 L735.6,2140.0 L735.9,2141.9 L736.1,2144.1 L736.4,2146.3 L736.7,2148.0 L736.9,2149.7 L737.2,2151.5 L737.5,2153.8 L737.7,2155.8 L738.0,2158.0 L738.3,2160.0 L738.6,2162.1 L738.9,2163.9 L739.1,2165.8 L739.4,2167.7 L739.7,2169.8 L740.0,2171.8 L740.3,2173.8 L740.6,2175.7 L740.8,2177.7 L741.1,2179.7 L741.4,2181.4 L741.7,2183.3 L742.0,2185.3 L742.3,2187.0 L742.6,2189.2 L742.9,2191.3 L743.2,2193.5 L743.5,2195.5 L743.8,2197.4 L744.1,2199.5 L744.4,2201.1 L744.8,2203.0 L745.1,2205.0 L745.4,2207.4 L745.7,2209.5 L746.0,2211.6 L746.3,2213.3 L746.7,2214.9 L747.0,2216.7 L747.3,2218.8 L747.6,2221.1 L748.0,2223.0 L748.3,2225.0 L748.6,2226.7 L749.0,2228.7 L749.3,2230.6 L749.6,2232.8 L750.0,2234.8 L750.3,2236.8 L750.7,2238.7 L751.0,2240.6 L751.4,2242.7 L751.7,2244.7 L752.1,2246.6 L752.4,2248.4 L752.8,2250.5 L753.2,2252.5 L753.5,2254.6 L753.9,2256.4 L754.3,2258.4 L754.7,2260.1 L755.1,2262.1 L755.5,2264.1 L755.9,2266.2 L756.4,2268.0 L756.8,2269.9 L757.2,2271.8 L757.7,2274.0 L758.1,2275.8 L758.6,2277.8 L759.0,2279.5 L759.5,2281.7 L760.0,2283.6 L760.5,2285.6 L761.0,2287.7 L761.5,2289.7 L762.1,2291.6 L762.6,2293.5 L763.2,2295.3 L763.7,2297.2 L764.3,2299.1 L764.9,2301.0 L765.5,2302.9 L766.1,2304.8 L766.8,2306.9 L767.4,2308.9 L768.1,2310.8 L768.7,2312.7 L769.4,2314.8 L770.1,2316.9 L770.9,2318.7 L771.6,2320.5 L772.3,2322.3 L773.1,2324.1 L773.9,2326.1 L774.7,2328.0 L775.6,2329.8 L776.4,2331.5 L777.3,2333.2 L778.2,2335.2 L779.2,2336.8 L780.2,2338.6 L781.2,2340.3 L782.2,2342.1 L783.3,2343.7 L784.4,2345.4 L785.6,2347.2 L786.8,2348.7 L788.0,2350.3 L789.3,2351.4 L790.6,2352.9 L792.0,2354.0 L793.4,2355.2 L794.9,2356.6 L796.4,2357.8 L798.0,2358.9 L799.6,2359.8 L801.3,2360.6 L803.0,2361.5 L804.7,2362.5 L806.5,2363.3 L808.3,2364.0 L810.1,2364.6 L812.0,2365.6 L813.9,2366.4 L815.8,2366.9 L817.8,2367.2 L819.8,2367.6 L821.8,2368.0 L823.8,2368.5 L825.8,2368.9 L827.8,2369.4 L829.9,2369.8 L831.9,2369.9 L834.0,2370.0 L836.0,2370.0 L838.1,2370.1 L840.2,2370.1 L842.2,2370.6 L844.3,2370.8 L846.3,2371.0 L848.4,2370.8 L850.4,2370.5 L852.4,2370.5 L854.5,2370.7 L856.5,2370.8 L858.5,2370.7 L860.5,2370.6 L862.5,2370.4 L864.5,2370.3 L866.5,2370.2 L868.4,2370.3 L870.4,2370.0 L872.4,2369.8 L874.4,2369.4 L876.3,2369.2 L878.3,2369.1 L880.2,2368.9 L882.2,2368.7 L884.2,2368.4 L886.1,2368.0 L888.1,2367.7 L890.0,2367.4 L892.0,2367.3 L894.0,2367.0 L895.9,2366.9 L897.9,2366.5 L899.9,2366.4 L901.8,2365.9 L903.8,2365.7 L905.8,2365.5 L907.8,2365.3 L909.7,2365.0 L911.7,2364.5 L913.7,2364.3 L915.7,2364.1 L917.7,2363.9 L919.7,2363.5 L921.7,2363.1 L923.7,2362.7 L925.7,2362.3 L927.6,2362.2 L929.6,2362.1 L931.6,2361.8 L933.6,2361.6 L935.6,2361.4 L937.6,2361.2 L939.6,2361.0 L941.6,2360.7 L943.6,2360.4 L945.6,2360.2 L947.6,2360.0 L949.5,2359.9 L951.5,2359.5 L953.5,2359.4 L955.5,2359.1 L957.5,2359.0 L959.4,2358.6 L961.4,2358.5 L963.4,2358.5 L965.4,2358.5 L967.3,2358.3 L969.3,2357.9 L971.3,2357.5 L973.2,2357.1 L975.2,2357.0 L977.2,2356.9 L979.1,2356.8 L981.1,2356.6 L983.1,2356.3 L985.0,2355.9 L987.0,2355.5 L989.0,2355.1 L990.9,2354.9 L992.9,2354.7 L994.8,2354.5 L996.8,2354.2 L998.7,2353.7 L1000.7,2353.2 L1002.7,2352.8 L1004.6,2352.4 L1006.6,2352.0 L1008.5,2351.7 L1010.5,2351.5 L1012.4,2351.3 L1014.4,2350.8 L1016.3,2350.3 L1018.3,2349.8 L1020.2,2349.4 L1022.2,2349.0 L1024.1,2348.6 L1026.1,2348.2 L1028.0,2347.6 L1030.0,2347.1 L1031.9,2346.7 L1033.9,2346.4 L1035.8,2346.0 L1037.8,2345.5 L1039.7,2344.9 L1041.7,2344.3 L1043.6,2343.8 L1045.6,2343.4 L1047.5,2342.9 L1049.5,2342.3 L1051.4,2341.8 L1053.4,2341.4 L1055.3,2340.9 L1057.2,2340.6 L1059.2,2340.2 L1061.1,2339.8 L1063.1,2339.4 L1065.0,2338.7 L1066.9,2338.1 L1068.9,2337.4 L1070.8,2336.8 L1072.7,2336.4 L1074.7,2335.8 L1076.6,2335.5 L1078.5,2334.9 L1080.5,2334.3 L1082.4,2333.7 L1084.3,2333.2 L1086.2,2332.8 L1088.2,2332.3 L1090.1,2331.4 L1092.0,2331.0 L1094.0,2330.2 L1095.9,2329.9 L1097.8,2329.1 L1099.8,2328.5 L1101.7,2327.9 L1103.6,2327.8 L1105.6,2327.5 L1107.5,2327.0 L1109.4,2326.3 L1111.4,2325.8 L1113.3,2325.3 L1115.3,2324.9 L1117.2,2324.4 L1119.1,2323.9 L1121.1,2323.3 L1123.0,2322.8 L1125.0,2322.4 L1126.9,2322.1 L1128.9,2321.7 L1130.8,2321.3 L1132.8,2320.7 L1134.7,2320.3 L1136.7,2319.9 L1138.6,2319.5 L1140.6,2319.2 L1142.6,2318.8 L1144.5,2318.6 L1146.5,2318.3 L1148.5,2317.6 L1150.4,2317.0 L1152.4,2316.7 L1154.4,2316.5 L1156.4,2316.4 L1158.3,2315.9 L1160.3,2315.7 L1162.3,2315.3 L1164.3,2315.3 L1166.3,2315.0 L1168.3,2314.9 L1170.3,2314.6 L1172.3,2314.6 L1174.3,2314.3 L1176.3,2314.2 L1178.3,2313.9 L1180.2,2313.9 L1182.2,2313.9 L1184.2,2313.7 L1186.3,2313.6 L1188.3,2313.4 L1190.3,2313.4 L1192.3,2313.3 L1194.3,2313.2 L1196.3,2313.2 L1198.3,2313.2 L1200.3,2313.4 L1202.3,2313.4 L1204.3,2313.4 L1206.3,2313.3 L1208.3,2313.2 L1210.3,2313.0 L1212.3,2312.8 L1214.3,2313.0 L1216.3,2313.5 L1218.3,2313.8 L1220.3,2314.0 L1222.3,2313.8 L1224.3,2313.6 L1226.3,2313.4 L1228.3,2313.7 L1230.3,2314.1 L1232.3,2314.3 L1234.3,2314.5 L1236.3,2314.5 L1238.3,2314.9 L1240.3,2315.1 L1242.3,2315.4 L1244.2,2315.4 L1246.2,2315.6 L1248.2,2315.8 L1250.2,2316.2 L1252.2,2316.2 L1254.1,2316.7 L1256.1,2316.9 L1258.1,2317.2 L1260.1,2317.3 L1262.0,2317.6 L1264.0,2317.8 L1266.0,2318.1 L1268.0,2318.4 L1269.9,2319.0 L1271.9,2319.2 L1273.9,2319.7 L1275.8,2320.0 L1277.8,2320.4 L1279.7,2320.7 L1281.7,2321.2 L1283.7,2321.7 L1285.6,2321.9 L1287.6,2322.1 L1289.5,2322.4 L1291.5,2322.9 L1293.4,2323.4 L1295.4,2323.9 L1297.3,2324.4 L1299.3,2324.7 L1301.2,2325.1 L1303.2,2325.6 L1305.1,2326.1 L1307.1,2326.5 L1309.0,2326.9 L1311.0,2327.5 L1312.9,2328.0 L1314.9,2328.4 L1316.8,2328.9 L1318.8,2329.3 L1320.7,2329.7 L1322.6,2330.0 L1324.6,2330.4 L1326.5,2331.0 L1328.5,2331.4 L1330.4,2332.0 L1332.3,2332.5 L1334.3,2332.9 L1336.2,2333.3 L1338.2,2334.0 L1340.1,2334.5 L1342.0,2335.0 L1344.0,2335.6 L1345.9,2336.2 L1347.8,2336.9 L1349.8,2337.3 L1351.7,2337.9 L1353.7,2338.1 L1355.6,2338.6 L1357.5,2339.2 L1359.5,2340.0 L1361.4,2340.5 L1363.3,2341.0 L1365.3,2341.6 L1367.2,2342.0 L1369.1,2342.6 L1371.1,2343.0 L1373.0,2343.6 L1374.9,2344.0 L1376.9,2344.7 L1378.8,2345.4 L1380.7,2345.8 L1382.7,2346.1 L1384.6,2346.6 L1386.5,2347.3 L1388.5,2347.7 L1390.4,2348.1 L1392.3,2348.8 L1394.3,2349.3 L1396.2,2349.9 L1398.1,2350.3 L1400.1,2350.9 L1402.0,2351.5 L1403.9,2352.1 L1405.9,2352.7 L1407.8,2353.0 L1409.7,2353.5 L1411.7,2354.1 L1413.6,2354.8 L1415.6,2355.4 L1417.5,2355.7 L1419.4,2356.2 L1421.4,2356.7 L1423.3,2357.1 L1425.3,2357.8 L1427.2,2358.2 L1429.1,2358.8 L1431.1,2359.3 L1433.0,2359.9 L1435.0,2360.4 L1436.9,2360.7 L1438.9,2361.0 L1440.8,2361.5 L1442.7,2362.2 L1444.7,2362.7 L1446.6,2363.3 L1448.6,2363.6 L1450.5,2364.1 L1452.5,2364.5 L1454.4,2365.0 L1456.4,2365.7 L1458.3,2366.0 L1460.3,2366.4 L1462.2,2366.6 L1464.2,2367.0 L1466.1,2367.4 L1468.1,2367.9 L1470.0,2368.5 L1472.0,2369.0 L1473.9,2369.4 L1475.9,2370.1 L1477.8,2370.5 L1479.8,2371.0 L1481.7,2371.3 L1483.7,2372.0 L1485.6,2372.4 L1487.6,2372.6 L1489.5,2372.8 L1491.5,2373.5 L1493.4,2374.0 L1495.4,2374.4 L1497.3,2374.8 L1499.3,2375.3 L1501.3,2375.7 L1503.2,2376.1 L1505.2,2376.2 L1507.1,2377.0 L1509.1,2377.6 L1511.1,2378.3 L1513.0,2378.4 L1515.0,2378.7 L1516.9,2378.8 L1518.9,2379.3 L1520.8,2379.5 L1522.8,2379.9 L1524.8,2380.2 L1526.7,2380.7 L1528.7,2381.3 L1530.7,2381.8 L1532.6,2382.3 L1534.6,2382.5 L1536.5,2382.9 L1538.5,2383.3 L1540.5,2383.8 L1542.4,2384.1 L1544.4,2384.2 L1546.4,2384.4 L1548.3,2385.1 L1550.3,2385.8 L1552.3,2386.2 L1554.2,2386.4 L1556.2,2386.8 L1558.2,2387.2 L1560.1,2387.4 L1562.1,2387.7 L1564.1,2388.1 L1566.0,2388.4 L1568.0,2388.6 L1570.0,2389.0 L1571.9,2389.5 L1573.9,2390.0 L1575.9,2390.4 L1577.8,2390.7 L1579.8,2391.2 L1581.8,2391.5 L1583.8,2391.9 L1585.7,2392.2 L1587.7,2392.5 L1589.7,2392.8 L1591.6,2393.0 L1593.6,2393.5 L1595.6,2393.9 L1597.6,2394.1 L1599.5,2394.3 L1601.5,2394.5 L1603.5,2394.9 L1605.5,2395.1 L1607.4,2395.4 L1609.4,2395.6 L1611.4,2395.8 L1613.4,2396.2 L1615.3,2396.5 L1617.3,2396.9 L1619.3,2397.4 L1621.3,2397.5 L1623.2,2398.0 L1625.2,2398.2 L1627.2,2398.8 L1629.2,2399.2 L1631.1,2399.5 L1633.1,2399.6 L1635.1,2399.8 L1637.1,2400.2 L1639.1,2400.4 L1641.0,2400.8 L1643.0,2400.9 L1645.0,2401.3 L1647.0,2401.5 L1649.0,2402.0 L1650.9,2402.2 L1652.9,2402.6 L1654.9,2402.7 L1656.9,2403.1 L1658.9,2403.4 L1660.8,2403.7 L1662.8,2404.0 L1664.8,2404.0 L1666.8,2404.3 L1668.8,2404.3 L1670.8,2404.8 L1672.7,2404.9 L1674.7,2405.2 L1676.7,2405.4 L1678.7,2406.0 L1680.7,2406.4 L1682.7,2406.7 L1684.6,2406.9 L1686.6,2407.0 L1688.6,2407.1 L1690.6,2407.1 L1692.6,2407.5 L1694.6,2408.0 L1696.5,2408.6 L1698.5,2408.7 L1700.5,2409.1 L1702.5,2409.3 L1704.5,2409.7 L1706.5,2409.8 L1708.5,2410.1 L1710.4,2410.3 L1712.4,2410.4 L1714.4,2410.4 L1716.4,2410.5 L1718.4,2410.8 L1720.4,2411.1 L1722.4,2411.5 L1724.4,2411.7 L1726.3,2411.8 L1728.3,2412.1 L1730.3,2412.2 L1732.3,2412.7 L1734.3,2412.6 L1736.3,2413.0 L1738.3,2413.0 L1740.3,2413.4 L1742.3,2413.5 L1744.3,2413.6 L1746.2,2413.7 L1748.2,2414.0 L1750.2,2414.5 L1752.2,2414.7 L1754.2,2414.7 L1756.2,2414.7 L1758.2,2415.1 L1760.2,2415.4 L1762.2,2415.7 L1764.2,2416.0 L1766.1,2416.3 L1768.1,2416.7 L1770.1,2416.7 L1772.1,2416.8 L1774.1,2417.0 L1776.1,2417.1 L1778.1,2417.4 L1780.1,2417.6 L1782.1,2417.9 L1784.1,2418.2 L1786.1,2418.4 L1788.1,2418.8 L1790.1,2418.9 L1792.0,2419.1 L1794.0,2419.1 L1796.0,2419.1 L1798.0,2419.4 L1800.0,2419.6 L1802.0,2419.8 L1804.0,2420.0 L1806.0,2420.4 L1808.0,2420.7 L1810.0,2420.9 L1812.0,2420.9 L1814.0,2421.1 L1816.0,2421.2 L1818.0,2421.4 L1820.0,2421.6 L1822.0,2421.8 L1823.9,2421.9 L1825.9,2422.1 L1827.9,2422.2 L1829.9,2422.5 L1831.9,2422.4 L1833.9,2422.6 L1835.9,2422.6 L1837.9,2422.8 L1839.9,2422.8 L1841.9,2423.3 L1843.9,2423.5 L1845.9,2423.9 L1847.9,2424.0 L1849.9,2424.2 L1851.9,2424.4 L1853.9,2424.3 L1855.9,2424.5 L1857.9,2424.5 L1859.9,2424.9 L1861.9,2425.1 L1863.9,2425.1 L1865.8,2425.0 L1867.8,2425.1 L1869.8,2425.4 L1871.8,2425.8 L1873.8,2426.1 L1875.8,2426.0 L1877.8,2425.9 L1879.8,2425.9 L1881.8,2426.2 L1883.8,2426.6 L1885.8,2426.8 L1887.8,2427.0 L1889.8,2427.1 L1891.8,2427.1 L1893.8,2427.3 L1895.8,2427.6 L1897.8,2427.8 L1899.8,2428.2 L1901.8,2428.3 L1903.8,2428.5 L1905.8,2428.3 L1907.8,2428.4 L1909.8,2428.6 L1911.8,2428.9 L1913.8,2429.1 L1915.8,2429.2 L1917.7,2429.3 L1919.7,2429.2 L1921.7,2429.0 L1923.7,2429.4 L1925.7,2429.8 L1927.7,2430.3 L1929.7,2430.0 L1931.7,2429.9 L1933.7,2430.2 L1935.7,2430.2 L1937.7,2430.5 L1939.7,2430.5 L1941.7,2431.0 L1943.7,2431.2 L1945.7,2431.2 L1947.7,2431.6 L1949.7,2431.6 L1951.7,2431.6 L1953.7,2431.5 L1955.7,2431.9 L1957.7,2432.1 L1959.7,2432.3 L1961.7,2432.3 L1963.7,2432.3 L1965.7,2432.4 L1967.7,2432.8 L1969.7,2433.2 L1971.6,2433.1 L1973.6,2433.0 L1975.6,2432.8 L1977.6,2433.0 L1979.6,2433.3 L1981.6,2433.6 L1983.6,2433.6 L1985.6,2433.7 L1987.6,2433.7 L1989.6,2434.0 L1991.6,2434.1 L1993.6,2434.2 L1995.6,2434.4 L1997.6,2434.5 L1999.6,2434.7 L2001.6,2434.8"/>
<path class="cv" stroke="#05AC69" d="M679.2,1500.2 L679.4,1502.3 L679.6,1504.3 L679.8,1506.4 L680.0,1508.2 L680.1,1510.0 L680.3,1511.7 L680.5,1513.8 L680.7,1515.9 L680.9,1518.1 L681.0,1520.1 L681.2,1521.8 L681.4,1523.8 L681.6,1525.7 L681.8,1528.0 L681.9,1530.1 L682.1,1532.2 L682.3,1534.1 L682.5,1536.0 L682.7,1538.0 L682.8,1539.9 L683.0,1541.8 L683.2,1543.7 L683.4,1545.7 L683.5,1547.7 L683.7,1549.6 L683.9,1551.6 L684.1,1553.8 L684.2,1555.6 L684.4,1557.8 L684.6,1559.6 L684.8,1561.7 L684.9,1563.5 L685.1,1565.5 L685.3,1567.5 L685.4,1569.7 L685.6,1571.6 L685.8,1573.7 L686.0,1575.8 L686.1,1577.9 L686.3,1579.8 L686.5,1581.7 L686.6,1583.7 L686.8,1585.8 L687.0,1587.8 L687.2,1589.7 L687.3,1591.5 L687.5,1593.4 L687.7,1595.4 L687.8,1597.6 L688.0,1599.7 L688.2,1601.7 L688.3,1603.7 L688.5,1605.8 L688.7,1607.8 L688.8,1610.0 L689.0,1612.0 L689.2,1613.9 L689.3,1616.0 L689.5,1617.9 L689.7,1619.8 L689.8,1621.6 L690.0,1623.5 L690.2,1625.4 L690.3,1627.2 L690.5,1629.3 L690.7,1631.5 L690.8,1633.5 L691.0,1635.2 L691.2,1637.1 L691.3,1639.3 L691.5,1641.5 L691.7,1643.6 L691.8,1645.7 L692.0,1647.7 L692.2,1649.7 L692.3,1651.5 L692.5,1653.3 L692.7,1655.3 L692.8,1657.5 L693.0,1659.7 L693.2,1661.7 L693.3,1663.7 L693.5,1665.7 L693.7,1667.5 L693.8,1669.3 L694.0,1671.3 L694.2,1673.5 L694.3,1675.4 L694.5,1677.5 L694.7,1679.4 L694.8,1681.5 L695.0,1683.4 L695.2,1685.5 L695.3,1687.4 L695.5,1689.5 L695.7,1691.4 L695.8,1693.5 L696.0,1695.3 L696.2,1697.1 L696.4,1699.1 L696.5,1701.2 L696.7,1703.3 L696.9,1705.3 L697.0,1707.3 L697.2,1709.4 L697.4,1711.5 L697.5,1713.5 L697.7,1715.5 L697.9,1717.4 L698.0,1719.7 L698.2,1721.6 L698.4,1723.6 L698.6,1725.3 L698.7,1727.4 L698.9,1729.4 L699.1,1731.7 L699.2,1733.6 L699.4,1735.4 L699.6,1737.4 L699.8,1739.4 L699.9,1741.5 L700.1,1743.2 L700.3,1745.2 L700.5,1747.3 L700.6,1749.7 L700.8,1751.6 L701.0,1753.5 L701.2,1755.2 L701.3,1757.1 L701.5,1759.1 L701.7,1761.3 L701.9,1763.4 L702.1,1765.4 L702.2,1767.1 L702.4,1769.2 L702.6,1771.3 L702.8,1773.5 L703.0,1775.4 L703.1,1777.3 L703.3,1779.3 L703.5,1781.3 L703.7,1783.3 L703.9,1785.1 L704.0,1787.0 L704.2,1788.9 L704.4,1791.1 L704.6,1793.1 L704.8,1795.2 L705.0,1797.3 L705.2,1799.4 L705.3,1801.4 L705.5,1803.4 L705.7,1805.4 L705.9,1807.2 L706.1,1809.1 L706.3,1811.2 L706.5,1813.2 L706.7,1815.2 L706.9,1817.1 L707.0,1819.1 L707.2,1821.0 L707.4,1823.0 L707.6,1825.1 L707.8,1827.2 L708.0,1829.1 L708.2,1831.0 L708.4,1833.0 L708.6,1835.2 L708.8,1837.3 L709.0,1839.4 L709.2,1841.4 L709.4,1843.4 L709.6,1845.2 L709.8,1847.1 L710.0,1848.9 L710.2,1850.7 L710.4,1852.6 L710.6,1854.8 L710.8,1856.9 L711.0,1858.9 L711.2,1860.6 L711.4,1862.9 L711.6,1865.1 L711.8,1867.1 L712.1,1869.0 L712.3,1870.9 L712.5,1873.0 L712.7,1875.1 L712.9,1877.1 L713.1,1879.0 L713.3,1881.1 L713.5,1883.0 L713.8,1885.0 L714.0,1886.9 L714.2,1888.8 L714.4,1890.9 L714.6,1892.8 L714.8,1894.8 L715.1,1896.5 L715.3,1898.4 L715.5,1900.6 L715.7,1902.6 L716.0,1904.8 L716.2,1906.6 L716.4,1908.7 L716.6,1910.7 L716.9,1912.6 L717.1,1914.5 L717.3,1916.5 L717.6,1918.5 L717.8,1920.6 L718.0,1922.5 L718.2,1924.5 L718.5,1926.6 L718.7,1928.7 L719.0,1930.5 L719.2,1932.4 L719.4,1934.4 L719.7,1936.5 L719.9,1938.6 L720.2,1940.5 L720.4,1942.5 L720.6,1944.2 L720.9,1946.1 L721.1,1948.1 L721.4,1950.3 L721.6,1952.3 L721.9,1954.3 L722.1,1956.3 L722.4,1958.1 L722.6,1960.2 L722.9,1962.1 L723.2,1964.3 L723.4,1966.1 L723.7,1968.0 L724.0,1969.9 L724.2,1972.0 L724.5,1973.7 L724.8,1975.7 L725.0,1977.6 L725.3,1979.7 L725.6,1981.6 L725.9,1983.5 L726.2,1985.5 L726.5,1987.7 L726.8,1989.8 L727.1,1991.9 L727.4,1993.6 L727.7,1995.4 L728.0,1997.3 L728.3,1999.5 L728.6,2001.7 L728.9,2003.8 L729.2,2005.9 L729.6,2007.8 L729.9,2009.8 L730.2,2011.5 L730.6,2013.3 L730.9,2015.1 L731.3,2017.3 L731.6,2019.3 L732.0,2021.5 L732.3,2023.4 L732.7,2025.2 L733.1,2027.1 L733.4,2029.1 L733.8,2031.4 L734.2,2033.3 L734.6,2035.0 L735.0,2036.9 L735.4,2038.8 L735.8,2040.7 L736.2,2042.6 L736.6,2044.9 L737.0,2047.0 L737.5,2049.0 L737.9,2050.6 L738.3,2052.7 L738.8,2054.9 L739.2,2057.0 L739.7,2059.0 L740.2,2060.9 L740.6,2062.8 L741.1,2064.6 L741.6,2066.4 L742.1,2068.6 L742.6,2070.6 L743.1,2072.8 L743.6,2074.6 L744.1,2076.6 L744.6,2078.4 L745.1,2080.3 L745.7,2082.3 L746.2,2084.3 L746.8,2086.5 L747.3,2088.5 L747.9,2090.6 L748.5,2092.5 L749.1,2094.4 L749.7,2096.0 L750.4,2097.9 L751.1,2099.9 L751.8,2102.0 L752.5,2104.0 L753.3,2105.7 L754.1,2107.4 L755.0,2109.3 L755.9,2111.1 L756.9,2113.0 L757.9,2114.5 L759.0,2116.0 L760.1,2117.2 L761.3,2118.7 L762.6,2120.0 L763.9,2121.4 L765.3,2122.9 L766.7,2124.4 L768.3,2125.9 L769.8,2126.9 L771.5,2127.9 L773.2,2128.8 L774.9,2129.7 L776.7,2130.6 L778.5,2131.3 L780.4,2131.6 L782.3,2132.3 L784.2,2132.6 L786.2,2133.3 L788.2,2133.6 L790.2,2133.8 L792.2,2134.0 L794.2,2134.1 L796.3,2134.2 L798.3,2134.1 L800.4,2134.0 L802.4,2133.8 L804.4,2133.7 L806.4,2133.6 L808.4,2133.7 L810.4,2133.4 L812.4,2133.1 L814.4,2133.1 L816.4,2133.2 L818.4,2132.9 L820.4,2132.4 L822.4,2132.0 L824.4,2131.7 L826.3,2131.3 L828.3,2131.0 L830.3,2130.7 L832.2,2130.5 L834.2,2129.9 L836.2,2129.5 L838.1,2129.0 L840.1,2129.0 L842.1,2128.5 L844.0,2128.1 L846.0,2127.7 L847.9,2127.0 L849.9,2126.7 L851.9,2126.2 L853.8,2125.8 L855.8,2125.0 L857.7,2124.6 L859.7,2124.2 L861.6,2124.2 L863.6,2123.7 L865.5,2123.4 L867.5,2123.0 L869.4,2122.5 L871.4,2122.2 L873.3,2121.7 L875.3,2121.3 L877.2,2120.8 L879.2,2120.4 L881.1,2119.8 L883.1,2119.2 L885.0,2118.7 L887.0,2118.3 L888.9,2117.7 L890.9,2117.2 L892.8,2116.8 L894.7,2116.5 L896.7,2116.2 L898.6,2115.6 L900.6,2115.1 L902.5,2114.4 L904.4,2113.9 L906.4,2113.4 L908.3,2112.8 L910.2,2112.3 L912.2,2112.0 L914.1,2111.7 L916.0,2111.1 L917.9,2110.4 L919.9,2110.0 L921.8,2109.5 L923.7,2109.0 L925.6,2108.3 L927.6,2107.9 L929.5,2107.4 L931.4,2107.0 L933.3,2106.4 L935.2,2105.8 L937.1,2104.9 L939.0,2104.2 L940.9,2103.5 L942.9,2103.0 L944.8,2102.3 L946.7,2101.9 L948.6,2101.2 L950.5,2100.7 L952.4,2099.9 L954.3,2099.4 L956.1,2098.9 L958.0,2098.3 L959.9,2097.6 L961.8,2096.8 L963.7,2096.2 L965.6,2095.6 L967.5,2094.8 L969.3,2094.1 L971.2,2093.3 L973.1,2092.6 L975.0,2091.8 L976.9,2091.2 L978.7,2090.5 L980.6,2090.0 L982.5,2089.2 L984.3,2088.4 L986.2,2087.8 L988.1,2086.9 L989.9,2086.3 L991.8,2085.6 L993.7,2084.9 L995.5,2084.0 L997.4,2083.0 L999.2,2082.5 L1001.1,2081.8 L1003.0,2081.1 L1004.8,2080.2 L1006.7,2079.5 L1008.6,2078.8 L1010.4,2077.9 L1012.3,2077.0 L1014.1,2076.2 L1016.0,2075.4 L1017.9,2074.8 L1019.7,2074.0 L1021.6,2073.3 L1023.5,2072.8 L1025.4,2072.3 L1027.2,2071.8 L1029.1,2070.9 L1031.0,2070.1 L1032.9,2069.4 L1034.7,2068.8 L1036.6,2068.3 L1038.5,2067.7 L1040.4,2067.0 L1042.3,2066.3 L1044.2,2065.5 L1046.1,2064.9 L1048.0,2064.3 L1049.9,2063.7 L1051.8,2063.2 L1053.7,2062.6 L1055.6,2062.2 L1057.5,2061.7 L1059.5,2061.0 L1061.4,2060.4 L1063.3,2059.8 L1065.2,2059.5 L1067.2,2059.1 L1069.1,2058.7 L1071.0,2058.3 L1073.0,2057.9 L1074.9,2057.4 L1076.9,2056.7 L1078.8,2056.2 L1080.8,2055.8 L1082.7,2055.6 L1084.7,2055.3 L1086.7,2055.0 L1088.6,2054.4 L1090.6,2053.8 L1092.6,2053.5 L1094.5,2053.3 L1096.5,2053.2 L1098.5,2052.9 L1100.4,2052.5 L1102.4,2051.9 L1104.4,2051.7 L1106.4,2051.3 L1108.4,2051.4 L1110.4,2051.0 L1112.3,2050.7 L1114.3,2050.4 L1116.3,2050.1 L1118.3,2050.0 L1120.3,2049.8 L1122.3,2049.6 L1124.3,2049.3 L1126.3,2049.0 L1128.3,2048.8 L1130.3,2048.6 L1132.3,2048.7 L1134.3,2048.4 L1136.3,2048.3 L1138.3,2047.9 L1140.4,2047.7 L1142.4,2047.5 L1144.4,2047.5 L1146.4,2047.4 L1148.4,2047.4 L1150.4,2047.1 L1152.4,2047.0 L1154.4,2046.6 L1156.4,2046.6 L1158.4,2046.8 L1160.5,2046.9 L1162.5,2046.9 L1164.5,2046.7 L1166.5,2046.7 L1168.5,2046.6 L1170.5,2046.4 L1172.5,2046.4 L1174.5,2046.5 L1176.5,2046.6 L1178.5,2046.6 L1180.5,2046.6 L1182.5,2046.6 L1184.5,2046.8 L1186.5,2046.7 L1188.5,2046.9 L1190.5,2046.9 L1192.5,2046.9 L1194.5,2047.3 L1196.5,2047.4 L1198.5,2047.7 L1200.5,2047.4 L1202.5,2047.7 L1204.5,2048.2 L1206.4,2048.8 L1208.4,2049.3 L1210.4,2049.6 L1212.4,2049.7 L1214.3,2049.8 L1216.3,2050.1 L1218.3,2050.3 L1220.2,2050.7 L1222.2,2050.8 L1224.1,2051.2 L1226.1,2051.7 L1228.0,2052.2 L1230.0,2052.7 L1231.9,2052.6 L1233.9,2053.2 L1235.8,2053.6 L1237.8,2054.5 L1239.7,2054.8 L1241.7,2055.2 L1243.6,2055.4 L1245.5,2055.9 L1247.5,2056.5 L1249.4,2057.0 L1251.3,2057.5 L1253.2,2058.0 L1255.2,2058.7 L1257.1,2059.2 L1259.0,2059.7 L1260.9,2060.1 L1262.8,2060.7 L1264.8,2061.6 L1266.7,2062.1 L1268.6,2062.6 L1270.5,2063.1 L1272.4,2063.7 L1274.3,2064.5 L1276.2,2065.1 L1278.1,2065.6 L1280.0,2066.2 L1281.9,2066.8 L1283.8,2067.5 L1285.7,2068.0 L1287.6,2068.7 L1289.5,2069.3 L1291.4,2069.9 L1293.3,2070.5 L1295.2,2071.3 L1297.1,2072.1 L1299.0,2072.7 L1300.9,2073.4 L1302.8,2074.1 L1304.7,2075.1 L1306.6,2075.7 L1308.5,2076.2 L1310.4,2076.5 L1312.2,2077.3 L1314.1,2078.2 L1316.0,2079.0 L1317.9,2079.7 L1319.8,2080.3 L1321.7,2081.2 L1323.6,2081.8 L1325.4,2082.4 L1327.3,2083.0 L1329.2,2083.7 L1331.1,2084.3 L1333.0,2085.1 L1334.8,2085.8 L1336.7,2086.5 L1338.6,2087.3 L1340.5,2088.0 L1342.3,2088.7 L1344.2,2089.3 L1346.1,2090.1 L1348.0,2090.8 L1349.9,2091.4 L1351.7,2092.2 L1353.6,2092.8 L1355.5,2093.5 L1357.4,2093.9 L1359.2,2094.7 L1361.1,2095.5 L1363.0,2096.2 L1364.9,2096.8 L1366.7,2097.5 L1368.6,2098.3 L1370.5,2099.0 L1372.4,2099.4 L1374.2,2100.2 L1376.1,2101.2 L1378.0,2102.1 L1379.9,2102.8 L1381.7,2103.3 L1383.6,2104.1 L1385.5,2104.7 L1387.4,2105.4 L1389.2,2106.0 L1391.1,2106.9 L1393.0,2107.9 L1394.9,2108.7 L1396.7,2109.3 L1398.6,2109.7 L1400.5,2110.3 L1402.4,2110.9 L1404.3,2111.6 L1406.1,2112.1 L1408.0,2112.7 L1409.9,2113.3 L1411.8,2114.3 L1413.7,2115.0 L1415.5,2115.9 L1417.4,2116.5 L1419.3,2117.0 L1421.2,2117.6 L1423.1,2118.3 L1425.0,2119.1 L1426.8,2119.9 L1428.7,2120.5 L1430.6,2121.0 L1432.5,2121.8 L1434.4,2122.3 L1436.3,2122.9 L1438.2,2123.3 L1440.1,2124.0 L1442.0,2124.6 L1443.8,2125.2 L1445.7,2126.1 L1447.6,2127.0 L1449.5,2127.8 L1451.4,2128.1 L1453.3,2128.5 L1455.2,2129.1 L1457.1,2129.8 L1459.0,2130.5 L1460.9,2131.2 L1462.8,2131.6 L1464.7,2132.2 L1466.6,2132.7 L1468.6,2133.6 L1470.5,2134.3 L1472.4,2134.9 L1474.3,2135.4 L1476.2,2135.8 L1478.1,2136.4 L1480.0,2137.0 L1481.9,2137.6 L1483.9,2138.2 L1485.8,2138.9 L1487.7,2139.5 L1489.6,2140.0 L1491.6,2140.6 L1493.5,2141.2 L1495.4,2141.7 L1497.3,2142.1 L1499.3,2142.5 L1501.2,2142.9 L1503.1,2143.4 L1505.0,2144.1 L1507.0,2144.9 L1508.9,2145.3 L1510.9,2145.9 L1512.8,2146.4 L1514.7,2147.1 L1516.7,2147.4 L1518.6,2147.8 L1520.5,2148.1 L1522.5,2148.7 L1524.4,2149.1 L1526.4,2149.5 L1528.3,2149.9 L1530.3,2150.7 L1532.2,2151.2 L1534.2,2151.8 L1536.1,2151.9 L1538.1,2152.4 L1540.0,2153.0 L1542.0,2153.4 L1543.9,2153.9 L1545.9,2154.5 L1547.8,2155.0 L1549.8,2155.5 L1551.7,2155.7 L1553.7,2156.0 L1555.6,2156.3 L1557.6,2156.8 L1559.6,2157.2 L1561.5,2157.6 L1563.5,2158.0 L1565.4,2158.3 L1567.4,2158.8 L1569.4,2159.5 L1571.3,2160.0 L1573.3,2160.2 L1575.3,2160.4 L1577.2,2160.9 L1579.2,2161.6 L1581.2,2162.0 L1583.1,2162.4 L1585.1,2162.5 L1587.1,2162.7 L1589.0,2163.0 L1591.0,2163.5 L1593.0,2163.9 L1594.9,2164.2 L1596.9,2164.4 L1598.9,2164.8 L1600.9,2165.3 L1602.8,2165.7 L1604.8,2166.3 L1606.8,2166.7 L1608.8,2167.0 L1610.7,2167.0 L1612.7,2167.4 L1614.7,2167.6 L1616.7,2168.2 L1618.6,2168.4 L1620.6,2168.8 L1622.6,2169.0 L1624.6,2169.3 L1626.6,2169.9 L1628.5,2170.0 L1630.5,2170.4 L1632.5,2170.5 L1634.5,2171.1 L1636.5,2171.3 L1638.4,2171.5 L1640.4,2171.9 L1642.4,2172.3 L1644.4,2172.6 L1646.4,2172.7 L1648.4,2172.8 L1650.3,2173.2 L1652.3,2173.3 L1654.3,2173.8 L1656.3,2174.1 L1658.3,2174.5 L1660.3,2174.7 L1662.2,2174.8 L1664.2,2175.0 L1666.2,2175.3 L1668.2,2175.6 L1670.2,2176.0 L1672.2,2176.1 L1674.1,2176.6 L1676.1,2176.9 L1678.1,2177.2 L1680.1,2177.4 L1682.1,2177.6 L1684.1,2177.7 L1686.1,2177.9 L1688.1,2178.2 L1690.0,2178.4 L1692.0,2178.8 L1694.0,2179.0 L1696.0,2179.2 L1698.0,2179.4 L1700.0,2179.5 L1702.0,2179.8 L1704.0,2179.9 L1706.0,2180.2 L1707.9,2180.4 L1709.9,2180.6 L1711.9,2181.0 L1713.9,2181.3 L1715.9,2181.4 L1717.9,2181.4 L1719.9,2181.5 L1721.9,2182.1 L1723.9,2182.2 L1725.9,2182.5 L1727.8,2182.5 L1729.8,2182.7 L1731.8,2182.8 L1733.8,2182.9 L1735.8,2183.0 L1737.8,2183.2 L1739.8,2183.5 L1741.8,2183.8 L1743.8,2183.9 L1745.8,2184.0 L1747.8,2184.1 L1749.8,2184.3 L1751.7,2184.3 L1753.7,2184.5 L1755.7,2184.8 L1757.7,2185.1 L1759.7,2185.3 L1761.7,2185.3 L1763.7,2185.4 L1765.7,2185.5 L1767.7,2185.8 L1769.7,2185.9 L1771.7,2186.4 L1773.7,2186.5 L1775.7,2186.7 L1777.7,2186.6 L1779.7,2186.7 L1781.7,2186.6 L1783.7,2186.8 L1785.7,2187.1 L1787.6,2187.5 L1789.6,2187.5 L1791.6,2187.7 L1793.6,2187.8 L1795.6,2188.0 L1797.6,2188.1 L1799.6,2188.2 L1801.6,2188.4 L1803.6,2188.5 L1805.6,2188.5 L1807.6,2188.6 L1809.6,2188.6 L1811.6,2188.7 L1813.6,2188.8 L1815.6,2188.9 L1817.6,2188.8 L1819.6,2189.1 L1821.6,2189.4 L1823.6,2189.9 L1825.6,2189.8 L1827.6,2190.0 L1829.6,2190.0 L1831.6,2190.1 L1833.6,2190.1 L1835.6,2190.3 L1837.6,2190.7 L1839.6,2190.8 L1841.6,2190.8 L1843.6,2190.5 L1845.6,2190.6 L1847.6,2190.9 L1849.6,2191.1 L1851.6,2191.1 L1853.6,2191.2 L1855.6,2191.3 L1857.6,2191.5 L1859.6,2191.3 L1861.6,2191.3 L1863.6,2191.6 L1865.6,2191.8 L1867.6,2192.2 L1869.6,2192.1 L1871.6,2192.2 L1873.6,2192.1 L1875.6,2192.2 L1877.6,2192.2 L1879.6,2192.3 L1881.6,2192.3 L1883.6,2192.6 L1885.6,2192.6 L1887.6,2192.7 L1889.6,2192.5 L1891.6,2192.5 L1893.6,2192.6 L1895.6,2192.7 L1897.6,2192.9 L1899.6,2193.0 L1901.6,2193.2 L1903.6,2193.2 L1905.6,2193.2 L1907.6,2193.3 L1909.6,2193.5 L1911.6,2193.4 L1913.6,2193.4 L1915.6,2193.7 L1917.6,2193.9 L1919.6,2194.2 L1921.6,2194.1 L1923.6,2194.2 L1925.6,2194.0 L1927.6,2194.1 L1929.6,2194.1 L1931.6,2194.4 L1933.6,2194.6 L1935.6,2194.8 L1937.6,2194.6 L1939.6,2194.6 L1941.6,2194.7 L1943.6,2194.9 L1945.6,2195.2 L1947.6,2195.2 L1949.6,2195.1 L1951.6,2195.3 L1953.6,2195.2 L1955.6,2195.5 L1957.6,2195.4 L1959.6,2195.3 L1961.6,2195.0 L1963.6,2194.9 L1965.6,2195.1 L1967.6,2195.5 L1969.6,2195.7 L1971.6,2195.9 L1973.6,2195.7 L1975.6,2195.7 L1977.6,2195.6 L1979.6,2195.8 L1981.6,2195.8 L1983.6,2196.0 L1985.6,2196.1 L1987.6,2196.2 L1989.6,2196.2 L1991.6,2196.2 L1993.6,2196.2 L1995.6,2196.3 L1997.6,2196.4 L1999.6,2196.7 L2001.6,2196.8"/>
</g>
<path class="ax" d="M525.3,1548.3 V2789"/>
<path class="ax" d="M502,2764.5 H2003.5"/>
<path class="ax" d="M513.8,2612.8 H525.3"/>
<path class="ax" d="M501.8,2461.2 H525.3"/>
<path class="ax" d="M513.8,2309.6 H525.3"/>
<path class="ax" d="M501.8,2157.9 H525.3"/>
<path class="ax" d="M513.8,2006.2 H525.3"/>
<path class="ax" d="M501.8,1854.6 H525.3"/>
<path class="ax" d="M513.8,1703.0 H525.3"/>
<path class="ax" d="M501.8,1551.3 H525.3"/>
<path class="ax" d="M672.8,2764.5 V2777.0"/>
<path class="ax" d="M820.4,2764.5 V2789.0"/>
<path class="ax" d="M968.0,2764.5 V2777.0"/>
<path class="ax" d="M1115.5,2764.5 V2789.0"/>
<path class="ax" d="M1263.0,2764.5 V2777.0"/>
<path class="ax" d="M1410.6,2764.5 V2789.0"/>
<path class="ax" d="M1558.2,2764.5 V2777.0"/>
<path class="ax" d="M1705.7,2764.5 V2789.0"/>
<path class="ax" d="M1853.2,2764.5 V2777.0"/>
<path class="ax" d="M2000.8,2764.5 V2789.0"/>
<text transform="translate(486.50,2781.30)" font-size="56" text-anchor="end">0.0</text>
<text transform="translate(486.50,2478.00)" font-size="56" text-anchor="end">0.5</text>
<text transform="translate(486.50,2174.70)" font-size="56" text-anchor="end">1.0</text>
<text transform="translate(486.50,1871.40)" font-size="56" text-anchor="end">1.5</text>
<text transform="translate(486.50,1568.10)" font-size="56" text-anchor="end">2.0</text>
<text transform="translate(524.90,2849.20) scale(1.0,1.01)" font-size="55.7" text-anchor="middle">300</text>
<text transform="translate(820.00,2849.20) scale(1.0,1.01)" font-size="55.7" text-anchor="middle">400</text>
<text transform="translate(1115.10,2849.20) scale(1.0,1.01)" font-size="55.7" text-anchor="middle">500</text>
<text transform="translate(1410.20,2849.20) scale(1.0,1.01)" font-size="55.7" text-anchor="middle">600</text>
<text transform="translate(1705.30,2849.20) scale(1.0,1.01)" font-size="55.7" text-anchor="middle">700</text>
<text transform="translate(2000.40,2849.20) scale(1.0,1.01)" font-size="55.7" text-anchor="middle">800</text>
<text class="b" transform="translate(335.40,2118.50) rotate(-90) scale(1.0,1.035)" font-size="68.7" text-anchor="middle">K.M. function</text>
<text class="b" transform="translate(1264.20,2956.90) scale(1.0,1.045)" font-size="67.3" text-anchor="middle">wavelength (nm)</text>
<path class="lg" stroke="#757575" d="M1296,1597.5 H1445"/>
<text transform="translate(1465.80,1622.70) scale(1.0,1.085)" font-size="68.0" text-anchor="start">TiO</text>
<text transform="translate(1573.82,1640.80)" font-size="48.6" text-anchor="start">2</text>
<path class="lg" stroke="#FA3C3C" d="M1296,1696.3 H1445"/>
<text transform="translate(1465.80,1721.50) scale(1.0,1.085)" font-size="68.0" text-anchor="start">3% Ag-TiO</text>
<text transform="translate(1793.07,1739.60)" font-size="48.6" text-anchor="start">2</text>
<path class="lg" stroke="#0569E0" d="M1296,1795.5 H1445"/>
<text transform="translate(1465.80,1820.70) scale(1.0,1.085)" font-size="68.0" text-anchor="start">0.5% Au-TiO</text>
<text transform="translate(1849.77,1838.80)" font-size="48.6" text-anchor="start">2</text>
<path class="lg" stroke="#05AC69" d="M1296,1894.8 H1445"/>
<text transform="translate(1465.80,1920.00) scale(1.0,1.085)" font-size="68.0" text-anchor="start">0.5% Au/3% Ag-TiO</text>
<text transform="translate(2065.25,1938.10)" font-size="48.6" text-anchor="start">2</text>
<text class="s" transform="translate(20.70,1735.70) scale(1.093,1.052)" font-size="150" text-anchor="start">b</text>
<text class="s" transform="translate(113.00,1720.60) scale(0.93,0.919)" font-size="150" text-anchor="start">)</text>
</g>
</svg></body></html>
